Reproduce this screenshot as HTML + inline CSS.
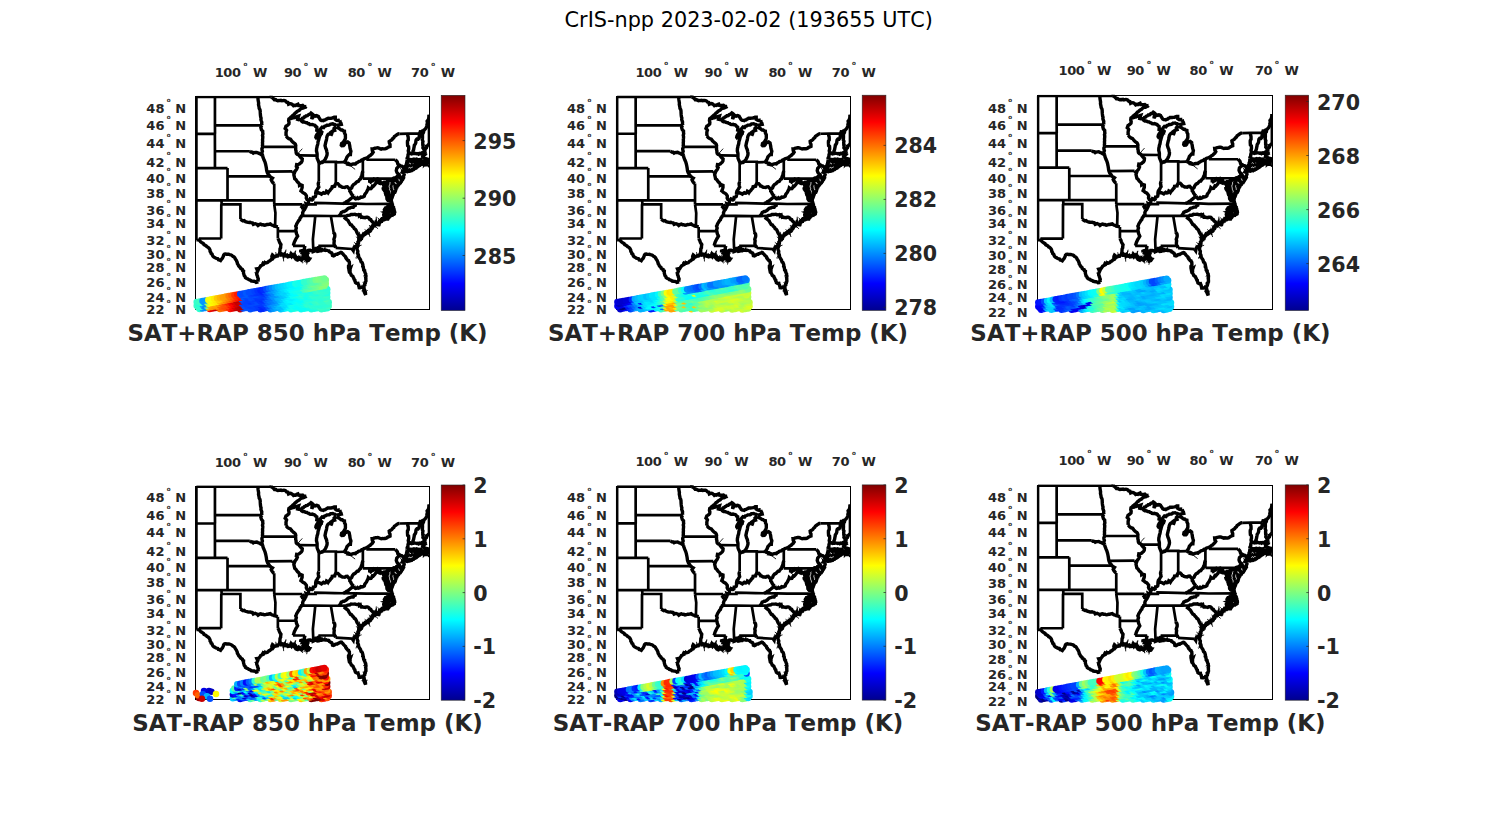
<!DOCTYPE html>
<html lang="en"><head><meta charset="utf-8"><title>CrIS-npp 2023-02-02 (193655 UTC)</title>
<style>
html,body{margin:0;padding:0;background:#fff}
svg{display:block}
text{font-family:"DejaVu Sans","Liberation Sans",sans-serif;font-kerning:none}
.b{font-weight:bold;fill:#262626}
.t{font-size:13px}
.ls{letter-spacing:-0.45px}
.c{font-size:20.6px}
.p{font-size:22.95px}
.d{font-size:5.6px}
.m{fill:none;stroke:#000;stroke-width:43;stroke-linejoin:miter;stroke-miterlimit:4;stroke-linecap:butt}
.w{stroke-width:54}
</style></head><body>
<svg width="1500" height="825" viewBox="0 0 1500 825">
<defs>
<linearGradient id="jet" x1="0" y1="0" x2="0" y2="1"><stop offset="0" stop-color="#800000"/><stop offset="0.125" stop-color="#ff0000"/><stop offset="0.375" stop-color="#ffff00"/><stop offset="0.625" stop-color="#00ffff"/><stop offset="0.875" stop-color="#0000ff"/><stop offset="1" stop-color="#00008f"/></linearGradient>
<g id="usmap"><path class="m" d="M0 0L0 2282M0 0L1185 0M3700 284L3700 758M3700 1046L3700 997M295 0L295 453L296 587M0 587L294 587M294 587L295 865L295 1134M0 1134L295 1134L495 1134M495 1134L495 1266L495 1649M0 1649L400 1649L496 1649L1238 1649M400 1649L400 1711M396 1711L394 2256M394 2256L38 2256M400 1711L700 1711L700 1950M295 453L1044 453M295 865L850 865M495 1266L1169 1266M1238 1381L1238 1649L1238 1711M1238 1711L1257 1849L1252 2061M1238 1711L1685 1711M1663 1773L1730 1773M1123 1190L1527 1186M1055 796L1578 796M1296 2072L1296 2138L1296 2257M1296 2138L1583 2138M1537 2373L1727 2373M1880 1897L1890 1909L1853 2268L1860 2463M1670 1897L1880 1897L2139 1898L2268 1898L2389 1896M2139 1898L2182 2153M1940 2373L2200 2373M2214 2407L2479 2424M1758 1711L1895 1711L1893 1689L2050 1693L2200 1697L2333 1699L2532 1700M2532 1700L2700 1706L3113 1705M1947 1038L1947 1350M2218 1041L2218 1382M1980 1033L2219 1033L2219 1041L2355 1037M2648 1001L2648 1182L2648 1302M2648 1302L2752 1302L3121 1302M2724 964L2724 1001L3164 1001M1636 932L1920 934M2751 1302L2751 1369M3121 1302L3128 1292L3140 1287L3152 1289L3159 1292M3121 1302L3130 1464L3195 1466M3176 1519L3135 1529M3230 587L3366 585L3550 585M0 2282L47 2282"/><path class="m w" d="M1685 1711L1693 1726L1680 1749L1663 1773M1527 1186L1540 1200L1558 1216M977 0L980 25L981 44L985 68L990 97L988 121L997 163L999 183L1011 203L1015 225L1016 254L1018 284L1022 317L1029 337L1026 361L1033 383L1040 401L1038 430L1044 453M1044 453L1032 466L1025 487L1035 523L1055 544L1055 566L1058 587L1051 613L1056 632L1055 657L1052 681L1054 707L1051 726L1053 753L1050 773L1055 796M1055 796L1042 824L1043 843L1050 865L1038 899L1047 914L1055 934M850 865L870 879L890 881L905 895L920 887L940 885L960 883L980 892L1005 902L1030 917L1055 934M1055 934L1058 956L1065 974L1075 1001L1090 1034L1100 1068L1107 1101L1113 1134L1117 1167L1123 1190L1135 1220L1152 1240L1169 1266L1190 1283L1210 1294L1190 1323L1200 1343L1210 1357L1224 1373L1239 1381M1185 0L1189 -26L1185 -58M1185 0L1205 8L1230 30L1240 43L1259 41L1275 52L1294 60L1315 56L1330 58L1344 53L1360 61L1375 58L1390 56L1405 58L1421 66L1435 83L1455 88L1465 116L1482 108L1500 106L1514 111L1532 125L1545 140L1563 132L1580 136L1598 122L1615 115L1625 136L1643 137L1660 137L1675 137L1690 134L1710 151L1732 153L1750 151M1750 151L1738 161L1722 165L1710 173L1696 178L1679 180L1664 186L1650 196L1637 212L1616 222L1600 233L1587 247L1572 256L1560 270L1548 284L1534 293L1520 309L1504 319L1490 336M1490 336L1471 349L1467 378L1474 404L1471 430L1455 447L1438 459L1425 466L1412 502L1426 515L1435 530L1429 547L1425 573L1427 599L1420 622M1490 340L1505 343L1520 339L1536 330L1550 331L1567 324L1584 319L1600 314L1625 306L1615 336L1610 357L1626 361L1640 357L1658 362M1658 362L1675 356L1684 339L1700 336L1714 320L1731 314L1744 300L1766 298L1780 284L1794 276L1808 272L1823 256L1839 267L1850 277L1840 314L1837 332L1835 354L1842 336L1855 321L1870 299L1883 299L1898 306L1912 298L1927 302L1943 318L1955 336L1973 365L1989 374L2006 374L2020 378L2033 368L2050 365L2063 354L2078 349L2089 340L2107 339L2122 340L2139 339L2158 336L2177 331L2192 322L2210 322L2210 357L2231 372L2250 375L2263 370L2280 372M2280 372L2290 401L2300 417L2305 437L2286 440L2265 447L2247 450L2228 459M2228 459L2216 447L2200 437L2183 435L2169 427L2150 430L2135 431L2125 441L2110 449L2092 450L2075 451L2060 461L2040 466L2025 487L2000 480L1980 502L1970 518L1960 537L1950 556L1940 573M1658 362L1672 385L1690 397L1707 395L1725 402L1738 408L1758 410L1774 423L1790 425L1804 439L1820 441L1843 437L1860 444L1878 447L1890 456L1899 472L1915 480L1918 502L1915 530L1935 537L1940 573M1940 573L1928 583L1915 601L1904 622L1900 643L1905 650L1919 636L1930 615L1944 596L1960 580L1972 564L1985 551L1995 559L1988 581L1975 601L1960 629L1950 664L1943 692L1935 713L1933 737L1928 762L1920 782L1918 801L1912 824L1910 861L1916 883L1920 906L1920 934L1920 952L1920 974L1928 996L1938 1017L1947 1038L1970 1052L1986 1044L2000 1044L2018 1033M2018 1033L2028 1020L2040 1007L2052 987L2061 970L2070 947L2078 923L2080 896L2075 875L2071 854L2065 833L2057 818L2051 796L2046 776L2051 752L2055 734L2060 711L2067 692L2072 663L2075 639L2082 618L2093 601L2104 590L2120 587L2131 569L2145 559L2140 579L2144 598L2138 619L2150 594L2156 570L2162 551L2175 542L2200 534L2190 502L2210 480L2227 476M2227 476L2238 489L2253 494L2271 501L2290 516L2305 527L2320 527L2336 540L2355 544L2357 578L2370 601L2370 629L2371 651L2367 671L2355 692L2343 712L2330 727L2310 741L2305 769L2313 778L2340 776L2352 764L2360 741L2380 727L2407 717L2430 734L2434 757L2440 783L2443 812L2450 838L2458 865L2452 892L2450 919L2430 919L2410 940L2395 957L2385 987L2370 1014L2355 1037M2355 1037L2374 1048L2390 1052L2410 1054L2427 1064L2420 1074L2436 1077L2450 1081L2466 1078L2482 1072L2497 1068L2515 1066L2530 1068L2545 1052L2561 1045L2575 1034L2589 1027L2607 1023L2620 1014L2632 1003L2648 1001L2662 989L2675 983L2690 980L2705 973L2724 964L2736 953L2751 940L2765 934L2780 918L2795 906L2812 881L2798 858L2795 829L2809 829L2823 821L2840 817L2854 814L2871 811L2885 810L2900 814L2919 823L2940 831L2959 825L2980 827L3000 827L3020 821L3036 810L3050 800L3064 795L3080 789L3080 755L3070 734L3067 709L3081 699L3097 691L3110 681L3123 662L3139 651L3150 629L3165 620L3176 611L3190 601L3211 588L3230 587M1420 622L1434 629L1447 647L1470 664L1497 674L1515 699L1536 720L1549 731L1565 741L1575 755L1581 776L1578 796L1580 815L1579 840L1585 858L1586 881L1590 899L1602 912L1621 918L1634 933L1646 950L1660 967L1684 988L1681 1022L1670 1041L1654 1054L1642 1065L1628 1073L1614 1079L1595 1078L1590 1108L1605 1125L1597 1144L1590 1159L1570 1183L1558 1216L1550 1240L1558 1275L1564 1303L1584 1319L1595 1337L1609 1355L1627 1369L1638 1389L1640 1408L1655 1399L1682 1409L1682 1443L1676 1463L1670 1479L1663 1498L1679 1510L1695 1526L1718 1536L1735 1552L1750 1574L1751 1594L1748 1611L1760 1637L1787 1652M1787 1652L1783 1680L1780 1703L1758 1711L1745 1705L1750 1730L1738 1761L1730 1773L1720 1795L1705 1811L1697 1828L1690 1847L1693 1880L1670 1897L1663 1916L1650 1927L1642 1957L1629 1968L1620 1985L1610 2000L1595 2024L1590 2041L1580 2060L1590 2090L1582 2114L1583 2138L1589 2156L1590 2173L1600 2198L1610 2218L1595 2244L1580 2268L1569 2291L1560 2309L1550 2338L1547 2356L1537 2373M1787 1652L1803 1640L1810 1624L1825 1630L1840 1640L1855 1630L1860 1599L1877 1597L1893 1586L1897 1567L1897 1548L1915 1533L1943 1527L1965 1536L1990 1551L2005 1537L2020 1526L2035 1535L2050 1533L2063 1522L2070 1504L2085 1513L2095 1527L2107 1507L2125 1489L2137 1471L2155 1453L2160 1430L2180 1427L2200 1424L2205 1402L2218 1382L2232 1383L2250 1382L2270 1402L2280 1421L2294 1422L2307 1432L2323 1440L2340 1441L2360 1443L2378 1432L2400 1430L2415 1447L2426 1460L2441 1470L2456 1460L2470 1449L2480 1421L2500 1395L2525 1382L2545 1360L2559 1348L2575 1346L2585 1331L2598 1314L2613 1305L2618 1279L2628 1257L2635 1239L2638 1213L2648 1182M1947 1350L1938 1382L1941 1408L1947 1436L1934 1454L1925 1472L1905 1498L1898 1525L1897 1548M2441 1470L2440 1501L2454 1516L2460 1536L2471 1551L2480 1567L2503 1581M2503 1581L2487 1593L2470 1611L2457 1620L2444 1632L2428 1643L2409 1662L2390 1668L2377 1680L2360 1690L2333 1699M2503 1581L2515 1611L2532 1624L2551 1620L2564 1608L2578 1619L2599 1612L2614 1595L2632 1599L2652 1593L2671 1582L2678 1555L2692 1535L2705 1520L2720 1489L2730 1470L2735 1450L2752 1464L2777 1462L2791 1441L2800 1421L2813 1425L2831 1405L2845 1389L2856 1370L2865 1344L2883 1359L2896 1369L2917 1377L2928 1354M2928 1354L2920 1340L2918 1318L2899 1315L2882 1305L2860 1315L2854 1327L2839 1320L2824 1311L2805 1337L2788 1341L2772 1357L2751 1369M2268 1898L2281 1884L2295 1863L2305 1841L2320 1835L2336 1825L2350 1826L2372 1814L2390 1802L2410 1780L2423 1773L2440 1770L2465 1759L2495 1759L2510 1736L2527 1730L2532 1700M2389 1896L2403 1888L2420 1887L2442 1884L2460 1872L2476 1873L2489 1873L2508 1872L2521 1870L2538 1878L2552 1880L2565 1880L2582 1873L2596 1878L2596 1891L2607 1884L2612 1903L2622 1918L2640 1915L2652 1921L2670 1922L2685 1926L2702 1917L2719 1917L2733 1921L2745 1932L2753 1948L2774 1956L2781 1974L2793 1983L2807 1999L2820 2007L2829 2023L2845 2035M2389 1896L2375 1917L2365 1933L2383 1947L2400 1960L2415 1975L2427 2000L2440 2018L2449 2034L2468 2041L2480 2059L2503 2081L2511 2099L2528 2108L2540 2126L2549 2150L2560 2173L2574 2190L2580 2209L2587 2224L2590 2244L2612 2253M2182 2153L2186 2168L2198 2182L2202 2202L2201 2226L2195 2244L2187 2268L2193 2292L2190 2315L2189 2334L2192 2356L2200 2373L2210 2388L2214 2407M2479 2424L2495 2447L2500 2420L2510 2397L2524 2398L2540 2399L2556 2407M1940 2373L1946 2393L1960 2408L1955 2432L1948 2457M1727 2373L1722 2393L1717 2412L1723 2436L1735 2455L1740 2469M1296 2257L1310 2280L1318 2303L1324 2319L1334 2337L1345 2352L1340 2385L1340 2403L1330 2420L1329 2442L1328 2466L1324 2487L1320 2508L1316 2524M700 1950L714 1959L730 1969L743 1976L760 1972L780 1987L805 1994L824 1999L840 2000L853 1997L870 2002L890 2006L905 2030L921 2023L935 2020L950 2026L966 2033L980 2048L1005 2030L1022 2027L1040 2036L1058 2035L1080 2044L1101 2041L1120 2033L1136 2034L1150 2030L1175 2024L1189 2035L1205 2045L1220 2048L1236 2058L1252 2061L1280 2068L1296 2072M38 2256L50 2284L64 2305L80 2318L95 2327L113 2339L121 2355L140 2364L158 2375L167 2388L185 2397L200 2411L209 2424L217 2443L218 2462L230 2478L234 2496L249 2505L254 2523L263 2540L278 2553L290 2558L305 2568L320 2573L340 2578L350 2596L370 2599L385 2608L398 2589L415 2570L422 2554L429 2538L435 2518L448 2506L465 2503L481 2508L498 2508L513 2507L529 2512L545 2516L564 2525L580 2541L598 2549L610 2563L620 2584L635 2604L643 2623L650 2639L652 2657L665 2675L670 2690L680 2702L696 2714L700 2731L715 2741L731 2749L735 2767L750 2775L749 2793L749 2806L755 2825L761 2849L775 2863L780 2881L800 2894L820 2901L831 2912L847 2917L864 2924L875 2935L892 2936L905 2939L920 2939L938 2946L950 2956L969 2952L985 2947M985 2947L982 2931L979 2915L985 2901L980 2887L973 2871L972 2858L964 2842L960 2831L960 2813L965 2797L973 2780L980 2763L967 2757L960 2741L976 2738L995 2735L1006 2718L1015 2707L1022 2693L1040 2684L1060 2673L1054 2655L1040 2644L1052 2649L1068 2646L1081 2650L1089 2643L1105 2648L1114 2644L1132 2640L1140 2633L1153 2617L1170 2612L1182 2599L1195 2587L1208 2585L1220 2570L1210 2559L1200 2547L1202 2535L1210 2518L1220 2526L1225 2541L1236 2547L1250 2547L1263 2541L1276 2537L1291 2537L1300 2523L1316 2524M1316 2524L1327 2520L1338 2518L1343 2519L1353 2520L1365 2517L1374 2516L1381 2520L1395 2521L1401 2533L1410 2530L1420 2532L1428 2538L1440 2538L1448 2533L1456 2547L1470 2544L1484 2543L1490 2536L1497 2528L1505 2513L1510 2521L1510 2540L1515 2547L1523 2536L1540 2536L1551 2542L1560 2547L1560 2556L1570 2569L1575 2576L1581 2584L1592 2584L1598 2595L1610 2599L1618 2591L1627 2579L1635 2576L1640 2582L1649 2590L1660 2595L1670 2600L1680 2593L1686 2583L1695 2582L1703 2569L1705 2553L1712 2562L1725 2570L1740 2576L1746 2585L1747 2594L1759 2601L1760 2610L1774 2607L1785 2604L1793 2593L1800 2582L1788 2580L1783 2566L1770 2564L1765 2555L1755 2555L1746 2547L1740 2536L1746 2531L1755 2527L1760 2513L1764 2495L1770 2484L1763 2476L1750 2478L1741 2485L1725 2490L1730 2472L1740 2469M1315 2513L1327 2504L1337 2512L1345 2502L1353 2501L1366 2506L1375 2506L1381 2518L1393 2522L1399 2519L1412 2519L1424 2524L1431 2531L1442 2527L1449 2529L1457 2530L1470 2532L1484 2526L1493 2523L1506 2512L1509 2502L1517 2511L1514 2529L1520 2537L1534 2533L1540 2524L1548 2535L1559 2533L1567 2539L1569 2552L1579 2551L1582 2567L1588 2579L1600 2580L1610 2587L1615 2578L1624 2571L1634 2564L1642 2575L1650 2581L1663 2584L1677 2582L1687 2575L1697 2568L1699 2555L1702 2542L1707 2549L1721 2546L1730 2560L1738 2565L1747 2568L1754 2580L1758 2591L1765 2600L1780 2595L1791 2586L1781 2574L1774 2571L1764 2574L1761 2563L1751 2555L1744 2551L1738 2539L1730 2538L1738 2525L1742 2518L1752 2506L1755 2498L1761 2487L1751 2489L1744 2499L1729 2492L1723 2501L1719 2486L1718 2475L1722 2465L1737 2458M1660 2478L1676 2487L1690 2486L1705 2482L1720 2472L1707 2465L1695 2449L1677 2449L1660 2455L1660 2478M1740 2469L1755 2461L1770 2455L1780 2445L1795 2443L1810 2443L1820 2450L1833 2452L1845 2449L1860 2449L1860 2463L1875 2457L1890 2451L1888 2430L1895 2414L1910 2414L1913 2428L1910 2443L1925 2461L1948 2457L1965 2451L1980 2451L1985 2426L1999 2430L2010 2443L2021 2442L2037 2442L2050 2446L2066 2442L2079 2446L2090 2449L2107 2452L2114 2468L2130 2474L2139 2483L2152 2487L2160 2501L2165 2528L2182 2533L2200 2524L2211 2513L2230 2507L2242 2508L2255 2497L2265 2495L2278 2487L2291 2483L2300 2478L2311 2481L2318 2494L2330 2501L2339 2515L2350 2526L2360 2536L2374 2548L2375 2562L2387 2581L2397 2590L2407 2604L2421 2609L2425 2622L2433 2632L2433 2648L2435 2661L2434 2676L2420 2692L2420 2707L2420 2724L2425 2746L2440 2737L2450 2730L2444 2748L2445 2769L2430 2775L2434 2795L2446 2804L2453 2816L2460 2831L2465 2844L2480 2853L2491 2862L2495 2876L2502 2886L2508 2906L2520 2917L2520 2932L2527 2944L2530 2959L2544 2968L2554 2972L2570 2970L2574 2985L2581 2999L2583 3014L2588 3028L2590 3040L2602 3041L2615 3040L2633 3034L2650 3040L2657 3050L2664 3065L2665 3079L2665 3097L2674 3106L2674 3118L2682 3134L2688 3148L2692 3158L2690 3142L2690 3133L2688 3116L2681 3104L2674 3092L2676 3077L2670 3067L2667 3049L2667 3041L2662 3026L2670 3004L2679 2998L2679 2979L2687 2968L2685 2955L2696 2941L2697 2925L2695 2909L2696 2895L2692 2882L2697 2865L2697 2847L2692 2837L2693 2820L2685 2808L2681 2793L2673 2779L2675 2766L2661 2755L2660 2741L2657 2729L2655 2710L2646 2701L2649 2684L2645 2667L2640 2650L2634 2637L2621 2630L2615 2616L2611 2596L2600 2582L2593 2570L2584 2555L2581 2544L2579 2527L2577 2516L2570 2501L2563 2491L2568 2470L2568 2457L2560 2443L2556 2425L2556 2407M2556 2407L2560 2397L2552 2385L2560 2373L2569 2368L2570 2350L2578 2339L2575 2324L2580 2315L2582 2299L2590 2291L2588 2280L2600 2268L2610 2269L2612 2253L2618 2239L2630 2245L2633 2233L2636 2224L2651 2217L2655 2209L2658 2201L2670 2189L2680 2191L2691 2185L2698 2180L2698 2172L2710 2167L2717 2166L2725 2156L2733 2151L2740 2144L2754 2144L2765 2138L2772 2129L2775 2112L2785 2108L2793 2101L2800 2087L2800 2078L2805 2059L2815 2054L2825 2040L2836 2049L2845 2035M2546 2406L2548 2395L2543 2379L2550 2370L2559 2357L2561 2346L2566 2337L2571 2328L2571 2311L2581 2303L2581 2285L2587 2279L2594 2264L2598 2256L2604 2245L2612 2239L2615 2226L2626 2224L2632 2215L2644 2213L2649 2199L2657 2185L2668 2190L2675 2181L2690 2178L2690 2162L2704 2157L2712 2152L2723 2147L2734 2144L2736 2133L2746 2133L2759 2128L2764 2118L2777 2110L2777 2101L2786 2095L2788 2081L2792 2071L2795 2060L2802 2056L2809 2044L2815 2034L2827 2026L2840 2024M2845 2035L2859 2035L2869 2034L2880 2030L2894 2038L2905 2036L2909 2018L2910 2006L2915 1998L2925 1995L2930 1981L2943 1981L2943 1970L2956 1969L2964 1965L2970 1951L2982 1954L2989 1940L2999 1946L3010 1935L3017 1943L3025 1946L3035 1944L3047 1945L3051 1936L3061 1926L3065 1922L3070 1909L3082 1902L3087 1893L3100 1890L3110 1888L3117 1886L3124 1872L3140 1872L3147 1868L3146 1859L3155 1842L3154 1837L3153 1823L3146 1807L3145 1792L3141 1779L3134 1771L3135 1757L3125 1749L3122 1739L3112 1728L3118 1712L3113 1705M2844 2023L2853 2020L2865 2016L2867 2013L2880 2018L2891 2019L2899 2026L2902 2016L2901 2000L2912 1991L2915 1974L2924 1972L2934 1963L2940 1964L2950 1947L2953 1940L2966 1940L2975 1930L2987 1936L2992 1934L3002 1922L3009 1923L3023 1929L3032 1932L3044 1934L3053 1927L3064 1912L3064 1899L3069 1893L3077 1890L3090 1887L3096 1879L3100 1871L3115 1879L3122 1859L3128 1858L3140 1860L3143 1847L3142 1837L3143 1823L3134 1814L3136 1797L3135 1782L3127 1773L3124 1758L3116 1754L3113 1741L3107 1736L3105 1722L3104 1709M3047 1930L3039 1918L3032 1912L3020 1902L3031 1900L3038 1904L3050 1896L3038 1888L3029 1894L3018 1882L3010 1884L3000 1878L3010 1871L3018 1875L3029 1872L3040 1866L3050 1859L3060 1854L3046 1854L3044 1848L3032 1850L3022 1839L3010 1841L3023 1847L3028 1842L3041 1840L3050 1835L3060 1844L3070 1839L3084 1844L3090 1848L3100 1854L3102 1842L3116 1835L3120 1823L3128 1810L3125 1801L3125 1786L3110 1785L3099 1789L3090 1780L3082 1777L3072 1780L3059 1784L3052 1774L3040 1780L3030 1767L3041 1765L3047 1767L3064 1767L3070 1761L3077 1756L3088 1757L3100 1755L3110 1750L3110 1736L3107 1727L3095 1724L3105 1720L3105 1705M3113 1705L3109 1690L3106 1673L3103 1662L3085 1657L3070 1655L3050 1649L3041 1638L3030 1624L3043 1630L3060 1637L3070 1611L3058 1603L3040 1599L3030 1584L3020 1580L3037 1580L3050 1591L3065 1586L3070 1567L3058 1560L3045 1548L3030 1542L3019 1525L3005 1510L3018 1517L3026 1520L3038 1532L3050 1536L3062 1532L3075 1538L3068 1518L3053 1515L3046 1502L3030 1498L3012 1496L3000 1485L2986 1482L2975 1472L2972 1459L2985 1450L2992 1434L2996 1415L2988 1404L2979 1391L2963 1381L2950 1379L2936 1366L2928 1354M3068 1518L3068 1502L3060 1485L3048 1470L3035 1459L3050 1466L3051 1450L3050 1434L3055 1415L3052 1399L3052 1380L3060 1369L3045 1363L3061 1359L3070 1350L3084 1333L3095 1324L3105 1324L3100 1344L3085 1357L3081 1374L3075 1389L3085 1408L3070 1427L3080 1439L3090 1447L3080 1462L3070 1466L3082 1474L3095 1491L3115 1498L3110 1517L3121 1528L3135 1529L3126 1543L3125 1561L3117 1580L3105 1586L3098 1602L3098 1616L3100 1637L3105 1624L3108 1604L3115 1586L3125 1572L3130 1548L3138 1531L3155 1519L3165 1505L3170 1481L3175 1466L3172 1446L3180 1421L3170 1395L3166 1377L3160 1357L3154 1339L3145 1331L3145 1314L3159 1292M3145 1314L3150 1337L3163 1346L3168 1354L3180 1363L3193 1374L3196 1387L3205 1404L3211 1390L3225 1382L3238 1370L3251 1361L3260 1349L3269 1328L3280 1318L3290 1298L3297 1288L3292 1269L3300 1253L3306 1238L3302 1217L3300 1204L3285 1203L3275 1200L3282 1188L3295 1180L3298 1174L3307 1154L3310 1134M3159 1292L3187 1279L3210 1257L3223 1240L3211 1227L3195 1211L3186 1194L3180 1175L3187 1138L3210 1114L3231 1086L3205 1070L3195 1034L3180 1016L3164 1001M3231 1086L3246 1100L3267 1101L3281 1112L3293 1130L3310 1134M3297 1184L3308 1175L3320 1161L3334 1150L3350 1145L3361 1139L3375 1138L3390 1141L3403 1139L3413 1143L3428 1132L3440 1137L3454 1134L3464 1118L3475 1114L3465 1128L3444 1132L3435 1145L3451 1143L3470 1134L3485 1124L3502 1128L3514 1125L3502 1123L3489 1130L3473 1138L3461 1150L3450 1158L3433 1161L3425 1173L3412 1173L3395 1168L3382 1184L3370 1183L3355 1191L3346 1190L3332 1184L3320 1187L3305 1191L3297 1184M3310 1134L3323 1127L3334 1134L3348 1129L3360 1132L3370 1121L3380 1112L3396 1107L3410 1101L3422 1095L3435 1092L3450 1099L3460 1098L3475 1095L3486 1101L3499 1097L3514 1092L3527 1089L3540 1083L3550 1086L3560 1068L3565 1048L3560 1034L3575 1048L3588 1068L3600 1068L3609 1061L3622 1043L3635 1041L3633 1065L3645 1052L3656 1056L3670 1052L3682 1047L3700 1046M3700 997L3680 991L3695 1014L3677 1018L3661 1021L3650 1030L3635 1007L3636 986L3630 974L3615 970L3600 953L3610 933L3627 921L3640 913L3631 897L3618 883L3630 855L3636 840L3645 824L3660 811L3667 790L3675 776L3689 762L3700 758M3620 1088L3632 1081L3650 1081L3640 1074L3620 1088M3680 1097L3700 1094M3334 1134L3327 1121L3352 1106L3345 1094L3349 1072L3344 1055L3349 1031L3352 1016L3350 994M3350 994L3353 972L3365 951L3366 923L3374 900M3374 900L3375 879L3370 858L3377 831L3377 814L3375 789L3360 776L3358 749L3357 727L3358 704L3370 685L3370 657L3369 637L3362 615L3366 585M3350 994L3367 992L3382 992L3398 1001L3412 997L3426 1001L3443 994L3457 991L3472 1003L3487 995L3503 991L3520 998M3520 998L3542 1001L3562 998L3562 1014L3580 1045L3588 1068M3521 999L3520 1029L3522 1055L3521 1078L3514 1092M3374 900L3391 901L3405 897L3422 907L3440 902L3454 902L3473 897L3487 901L3505 906L3523 902L3536 911L3552 900L3570 906L3580 895L3605 881L3618 883M3454 902L3445 865L3455 840L3460 810L3464 793L3467 769L3482 748L3490 727L3491 706L3495 685L3507 671L3527 673L3540 657L3545 622L3550 585M3630 855L3619 832L3603 810L3607 787L3601 766L3601 746L3600 727L3604 707L3594 685L3596 660L3597 636L3596 616L3599 590L3593 566L3592 544M3550 585L3560 556L3576 557L3592 544L3615 551L3620 527L3634 518L3649 500L3660 480L3665 456L3668 435L3675 415L3670 386L3687 366L3695 343L3700 312L3700 284"/><path class="m w" style="fill:#000" d="M2970 1369L2973 1382L2980 1395L2977 1406L2985 1424L2989 1430L2991 1448L2990 1459L2999 1473L2995 1485L3000 1502L3007 1506L3005 1528L3010 1536L3011 1551L3015 1565L3026 1575L3031 1592L3030 1605L3031 1622L3037 1628L3044 1640L3050 1649L3061 1649L3069 1647L3080 1655L3091 1644L3094 1634L3100 1618L3107 1610L3113 1597L3109 1582L3118 1571L3120 1555L3129 1546L3132 1530L3131 1521L3145 1511L3150 1500L3150 1485L3155 1471L3159 1456L3158 1445L3162 1430L3170 1421L3174 1405L3181 1395L3183 1381L3180 1369L3175 1360L3163 1349L3155 1344L3153 1326L3140 1311L3128 1310L3121 1324L3109 1321L3097 1328L3090 1331L3077 1335L3068 1337L3057 1334L3054 1350L3036 1341L3030 1350L3022 1357L3011 1364L2997 1358L2986 1358L2978 1363L2970 1369ZM3030 1761L3036 1769L3052 1772L3056 1781L3070 1786L3080 1792L3091 1801L3094 1808L3109 1817L3114 1824L3125 1829L3133 1846L3140 1860L3130 1867L3119 1859L3105 1860L3097 1867L3087 1875L3078 1889L3068 1893L3060 1902L3047 1904L3039 1918L3030 1910L3020 1921L3012 1922L3002 1907L2990 1909L2986 1897L2981 1885L2980 1872L2992 1861L2995 1853L3000 1835L2992 1827L2997 1813L2990 1798L2996 1786L3009 1773L3018 1768L3030 1761ZM3360 1041L3369 1035L3378 1047L3388 1044L3397 1031L3410 1033L3422 1039L3430 1032L3439 1027L3450 1034L3463 1032L3469 1026L3479 1023L3491 1033L3503 1030L3507 1029L3517 1025L3528 1030L3542 1019L3550 1021L3559 1023L3566 1034L3578 1029L3590 1034L3599 1031L3613 1035L3618 1032L3629 1034L3640 1027L3648 1028L3657 1037L3670 1034L3660 1054L3652 1061L3637 1055L3632 1069L3621 1064L3611 1064L3602 1067L3591 1066L3580 1074L3568 1075L3559 1087L3549 1091L3540 1099L3530 1104L3520 1113L3512 1116L3500 1114L3494 1124L3480 1136L3472 1141L3459 1139L3450 1154L3438 1152L3431 1150L3420 1161L3407 1156L3401 1172L3387 1163L3381 1170L3369 1176L3361 1167L3350 1174L3338 1176L3328 1177L3321 1176L3310 1180L3316 1166L3307 1149L3320 1137L3315 1121L3318 1107L3330 1093L3340 1081L3342 1064L3354 1050L3360 1041ZM3165 1298L3173 1291L3183 1277L3196 1266L3205 1259L3217 1263L3230 1266L3241 1269L3250 1279L3259 1288L3261 1308L3265 1324L3260 1336L3251 1341L3242 1352L3242 1367L3229 1372L3225 1382L3216 1373L3205 1368L3195 1370L3185 1358L3175 1350L3178 1335L3174 1321L3165 1309L3165 1298Z"/><path class="m" style="stroke:#fff;stroke-width:13;stroke-linejoin:round" d="M3085 1357L3077 1370L3079 1379L3075 1400L3070 1408L3066 1424L3067 1433L3070 1445L3075 1459L3070 1472L3077 1483L3081 1492L3088 1507L3088 1523L3090 1536M3160 1357L3162 1373L3175 1372L3180 1389M3128 1408L3130 1417L3126 1433L3131 1446L3133 1461L3140 1469L3135 1485M3215 1305L3222 1312L3224 1333L3235 1337M3070 1866L3081 1858L3094 1852L3102 1840L3110 1835M3370 1134L3381 1136L3386 1126L3396 1123L3412 1136L3423 1125L3432 1114L3440 1121M3380 1065L3389 1057L3398 1058L3413 1071L3419 1069L3432 1067L3439 1061L3450 1061"/><path class="m" style="stroke-width:14" d="M1467 378L1453 385M1943 318L1957 287M1988 581L2009 608M2705 973L2724 1001M1589 2156L1571 2158M2598 1314L2592 1293M2487 1593L2512 1615M2210 2388L2225 2365M960 2813L923 2802M1052 2649L1053 2614M1114 2644L1082 2603M1210 2559L1166 2589M1276 2537L1261 2473M1343 2519L1337 2483M1353 2520L1333 2469M1381 2520L1388 2622M1395 2521L1426 2433M1401 2533L1424 2500M1420 2532L1452 2488M1510 2540L1547 2524M1551 2542L1579 2506M1560 2556L1616 2541M1592 2584L1599 2544M1618 2591L1544 2533M1640 2582L1670 2532M1670 2600L1689 2652M1686 2583L1659 2543M1703 2569L1656 2518M1788 2580L1746 2623M1765 2555L1787 2515M1746 2531L1724 2500M1763 2476L1741 2572M1741 2485L1740 2541M1393 2522L1427 2452M1506 2512L1487 2480M1517 2511L1467 2541M1514 2529L1601 2519M1548 2535L1575 2451M1559 2533L1581 2451M1600 2580L1629 2523M1624 2571L1567 2527M1738 2565L1783 2511M1758 2591L1789 2571M1781 2574L1755 2636M1774 2571L1754 2671M1761 2563L1708 2637M1738 2539L1804 2491M1755 2498L1801 2569M1718 2475L1669 2490M1913 2428L1961 2427M2037 2442L2051 2379M2387 2581L2413 2559M2602 3041L2591 2980M2633 3034L2634 2994M2665 3097L2693 3087M2674 3106L2725 3084M2676 3077L2627 3092M2679 2979L2644 2957M2692 2837L2653 2856M2581 2544L2556 2553M2579 2527L2539 2579M2577 2516L2535 2561M2563 2491L2539 2508M2568 2470L2547 2482M2552 2385L2628 2362M2578 2339L2550 2308M2588 2280L2543 2228M2618 2239L2589 2149M2733 2151L2763 2232M2800 2087L2751 2074M2836 2049L2831 2003M2543 2379L2493 2360M2559 2357L2506 2317M2587 2279L2555 2232M2598 2256L2561 2194M2723 2147L2676 2113M2746 2133L2732 2085M2786 2095L2748 2042M2815 2034L2889 2102M2859 2035L2866 1937M2894 2038L2893 1963M2909 2018L2826 1975M2943 1981L2882 1925M3051 1936L3011 1884M3061 1926L3014 1910M3140 1872L3101 1794M3155 1842L3083 1869M3141 1779L3089 1805M3122 1739L3042 1779M2853 2020L2862 1909M2891 2019L2914 1964M3032 1932L3046 1855M3064 1912L3020 1886M3077 1890L3076 1837M3090 1887L3078 1848M3122 1859L3078 1775M3113 1741L3041 1736M3018 1882L2976 1964M3010 1871L3003 1978M3046 1854L3030 1929M3044 1848L3068 1775M3041 1840L3028 1782M3070 1839L3096 1798M3125 1801L3076 1814M3099 1789L3070 1878M3082 1777L3118 1876M3072 1780L3042 1883M3052 1774L3050 1881M3088 1757L3103 1850M3037 1580L3028 1543M2986 1482L2972 1513M2985 1450L2963 1404M3068 1502L3026 1518M3126 1543L3086 1526M3172 1446L3136 1417M3163 1346L3172 1316M3193 1374L3212 1344M3211 1390L3187 1348M3306 1238L3284 1246M3282 1188L3243 1134M3334 1150L3355 1198M3485 1124L3492 1161M3382 1184L3370 1138M3355 1191L3351 1161M3320 1187L3308 1124M3348 1129L3347 1186M3422 1095L3439 1019M3486 1101L3499 1153M3499 1097L3487 1051M3615 970L3597 1005M3636 840L3666 900M3667 790L3614 754M3358 749L3372 755M3505 906L3506 885M3599 590L3619 583M3031 1622L3050 1617M3113 1597L3085 1596M3131 1521L3163 1527M3133 1846L3123 1859M3012 1922L2994 1956M3599 1031L3599 993M3618 1032L3610 1063M3361 1167L3370 1190M3242 1367L3255 1397M3178 1335L3164 1339M2360 1027L2525 1154M1605 913L1685 824"/><path class="m" style="stroke-width:26" d="M1467 378L1460 382M1943 318L1951 301M1988 581L2000 596M2705 973L2715 988M1589 2156L1579 2157M2598 1314L2594 1303M2487 1593L2501 1606M2210 2388L2219 2376M960 2813L940 2807M1052 2649L1052 2630M1114 2644L1097 2621M1210 2559L1186 2576M1276 2537L1268 2502M1343 2519L1339 2500M1353 2520L1343 2492M1381 2520L1384 2576M1395 2521L1412 2472M1401 2533L1413 2515M1420 2532L1437 2507M1510 2540L1531 2531M1551 2542L1566 2522M1560 2556L1591 2546M1592 2584L1596 2562M1618 2591L1578 2558M1640 2582L1657 2554M1670 2600L1680 2629M1686 2583L1671 2561M1703 2569L1677 2542M1788 2580L1766 2604M1765 2555L1778 2533M1746 2531L1734 2514M1763 2476L1751 2529M1741 2485L1741 2515M1393 2522L1411 2483M1506 2512L1495 2494M1517 2511L1489 2527M1514 2529L1561 2522M1548 2535L1563 2489M1559 2533L1572 2488M1600 2580L1616 2549M1624 2571L1593 2546M1738 2565L1761 2535M1758 2591L1775 2580M1781 2574L1767 2608M1774 2571L1763 2626M1761 2563L1731 2604M1738 2539L1774 2512M1755 2498L1781 2535M1718 2475L1691 2482M1913 2428L1939 2428M2037 2442L2044 2407M2387 2581L2401 2569M2602 3041L2597 3008M2633 3034L2633 3012M2665 3097L2680 3091M2674 3106L2702 3094M2676 3077L2649 3085M2679 2979L2660 2967M2692 2837L2670 2847M2581 2544L2567 2549M2579 2527L2557 2554M2577 2516L2553 2540M2563 2491L2550 2500M2568 2470L2556 2476M2552 2385L2594 2374M2578 2339L2562 2323M2588 2280L2563 2252M2618 2239L2601 2191M2733 2151L2750 2196M2800 2087L2774 2079M2836 2049L2832 2024M2543 2379L2516 2369M2559 2357L2530 2335M2587 2279L2569 2254M2598 2256L2577 2223M2723 2147L2698 2128M2746 2133L2739 2107M2786 2095L2764 2067M2815 2034L2854 2073M2859 2035L2862 1981M2894 2038L2894 1997M2909 2018L2863 1995M2943 1981L2910 1949M3051 1936L3029 1908M3061 1926L3036 1916M3140 1872L3119 1829M3155 1842L3116 1855M3141 1779L3113 1794M3122 1739L3078 1760M2853 2020L2857 1959M2891 2019L2903 1989M3032 1932L3040 1890M3064 1912L3040 1897M3077 1890L3076 1862M3090 1887L3084 1865M3122 1859L3099 1812M3113 1741L3074 1740M3018 1882L2996 1928M3010 1871L3008 1930M3046 1854L3037 1895M3044 1848L3056 1808M3041 1840L3034 1808M3070 1839L3084 1816M3125 1801L3098 1807M3099 1789L3084 1839M3082 1777L3100 1831M3072 1780L3057 1837M3052 1774L3051 1833M3088 1757L3096 1808M3037 1580L3033 1560M2986 1482L2979 1499M2985 1450L2973 1425M3068 1502L3045 1511M3126 1543L3104 1533M3172 1446L3152 1431M3163 1346L3168 1330M3193 1374L3203 1358M3211 1390L3198 1367M3306 1238L3294 1242M3282 1188L3261 1159M3334 1150L3345 1177M3485 1124L3489 1144M3382 1184L3376 1159M3355 1191L3353 1174M3320 1187L3313 1152M3348 1129L3348 1160M3422 1095L3430 1053M3486 1101L3493 1130M3499 1097L3493 1072M3615 970L3605 989M3636 840L3653 872M3667 790L3638 770M3358 749L3366 752M3505 906L3506 894M3599 590L3610 586M3031 1622L3041 1618M3113 1597L3098 1596M3131 1521L3148 1525M3133 1846L3127 1853M3012 1922L3002 1941M3599 1031L3599 1010M3618 1032L3614 1049M3361 1167L3366 1179M3242 1367L3250 1383M3178 1335L3170 1337M2360 1027L2450 1094"/></g>
<clipPath id="cp0"><rect x="195.10" y="95.70" width="234.70" height="214.60"/></clipPath>
<clipPath id="cp1"><rect x="615.80" y="95.60" width="235.00" height="214.80"/></clipPath>
<clipPath id="cp2"><rect x="1036.70" y="94.70" width="236.00" height="216.20"/></clipPath>
<clipPath id="cp3"><rect x="195.10" y="485.40" width="234.70" height="214.60"/></clipPath>
<clipPath id="cp4"><rect x="615.80" y="485.30" width="235.00" height="214.80"/></clipPath>
<clipPath id="cp5"><rect x="1036.70" y="484.40" width="236.00" height="216.20"/></clipPath>
</defs>
<rect width="1500" height="825" fill="#fff"/>
<text x="748.7" y="26.7" font-size="20.8px" text-anchor="middle" fill="#000">CrIS-npp 2023-02-02 (193655 UTC)</text>
<g>
<rect x="195.70" y="96.45" width="233.80" height="212.85" fill="#fff" stroke="#000" stroke-width="1" shape-rendering="crispEdges"/>
<g clip-path="url(#cp0)"><use href="#usmap" transform="translate(196.40 97.00) scale(0.062865 0.062710)"/></g>
<g><circle cx="321.4" cy="309.3" r="3.25" fill="#32ffcd"/><circle cx="324.3" cy="308.8" r="3.25" fill="#31ffce"/><circle cx="327.2" cy="308.3" r="3.25" fill="#2dffd2"/><circle cx="311.3" cy="309.3" r="3.25" fill="#23ffdc"/><circle cx="314.2" cy="308.8" r="3.25" fill="#1cffe3"/><circle cx="317.1" cy="308.2" r="3.25" fill="#1dffe2"/><circle cx="320.0" cy="307.7" r="3.25" fill="#3dffc2"/><circle cx="322.9" cy="307.2" r="3.25" fill="#39ffc6"/><circle cx="325.8" cy="306.6" r="3.25" fill="#34ffcb"/><circle cx="328.7" cy="306.1" r="3.25" fill="#42ffbd"/><circle cx="301.1" cy="309.3" r="3.25" fill="#0dfff2"/><circle cx="304.0" cy="308.7" r="3.25" fill="#0ffff0"/><circle cx="306.9" cy="308.2" r="3.25" fill="#13ffec"/><circle cx="309.8" cy="307.7" r="3.25" fill="#13ffec"/><circle cx="312.7" cy="307.1" r="3.25" fill="#21ffde"/><circle cx="315.6" cy="306.6" r="3.25" fill="#2cffd3"/><circle cx="318.5" cy="306.1" r="3.25" fill="#2fffd0"/><circle cx="321.4" cy="305.5" r="3.25" fill="#2bffd4"/><circle cx="324.3" cy="305.0" r="3.25" fill="#2fffd0"/><circle cx="327.2" cy="304.5" r="3.25" fill="#2effd1"/><circle cx="291.0" cy="309.3" r="3.25" fill="#0cfff3"/><circle cx="293.9" cy="308.7" r="3.25" fill="#19ffe6"/><circle cx="296.8" cy="308.2" r="3.25" fill="#1effe1"/><circle cx="299.7" cy="307.7" r="3.25" fill="#08fff7"/><circle cx="302.6" cy="307.1" r="3.25" fill="#09fff6"/><circle cx="305.5" cy="306.6" r="3.25" fill="#08fff7"/><circle cx="308.4" cy="306.0" r="3.25" fill="#15ffea"/><circle cx="311.3" cy="305.5" r="3.25" fill="#30ffcf"/><circle cx="314.2" cy="305.0" r="3.25" fill="#2cffd3"/><circle cx="317.1" cy="304.4" r="3.25" fill="#26ffd9"/><circle cx="320.0" cy="303.9" r="3.25" fill="#28ffd7"/><circle cx="322.9" cy="303.4" r="3.25" fill="#2bffd4"/><circle cx="325.8" cy="302.8" r="3.25" fill="#2cffd3"/><circle cx="328.7" cy="302.3" r="3.25" fill="#37ffc8"/><circle cx="280.8" cy="309.2" r="3.25" fill="#00c7ff"/><circle cx="283.7" cy="308.7" r="3.25" fill="#00d9ff"/><circle cx="286.6" cy="308.2" r="3.25" fill="#00faff"/><circle cx="289.5" cy="307.6" r="3.25" fill="#10ffef"/><circle cx="292.4" cy="307.1" r="3.25" fill="#14ffeb"/><circle cx="295.3" cy="306.6" r="3.25" fill="#04fffb"/><circle cx="298.2" cy="306.0" r="3.25" fill="#04fffb"/><circle cx="301.1" cy="305.5" r="3.25" fill="#0dfff2"/><circle cx="304.0" cy="304.9" r="3.25" fill="#17ffe8"/><circle cx="306.9" cy="304.4" r="3.25" fill="#2fffd0"/><circle cx="309.8" cy="303.9" r="3.25" fill="#2dffd2"/><circle cx="312.7" cy="303.3" r="3.25" fill="#29ffd6"/><circle cx="315.6" cy="302.8" r="3.25" fill="#31ffce"/><circle cx="318.5" cy="302.3" r="3.25" fill="#39ffc6"/><circle cx="321.4" cy="301.7" r="3.25" fill="#30ffcf"/><circle cx="324.3" cy="301.2" r="3.25" fill="#30ffcf"/><circle cx="327.2" cy="300.7" r="3.25" fill="#3cffc3"/><circle cx="270.6" cy="309.2" r="3.25" fill="#0083ff"/><circle cx="273.6" cy="308.7" r="3.25" fill="#009aff"/><circle cx="276.5" cy="308.1" r="3.25" fill="#00a7ff"/><circle cx="279.4" cy="307.6" r="3.25" fill="#00b3ff"/><circle cx="282.2" cy="307.1" r="3.25" fill="#00bfff"/><circle cx="285.2" cy="306.5" r="3.25" fill="#00ddff"/><circle cx="288.1" cy="306.0" r="3.25" fill="#00f5ff"/><circle cx="291.0" cy="305.5" r="3.25" fill="#0ffff0"/><circle cx="293.9" cy="304.9" r="3.25" fill="#0bfff4"/><circle cx="296.8" cy="304.4" r="3.25" fill="#05fffa"/><circle cx="299.7" cy="303.9" r="3.25" fill="#0efff1"/><circle cx="302.6" cy="303.3" r="3.25" fill="#18ffe7"/><circle cx="305.5" cy="302.8" r="3.25" fill="#2fffd0"/><circle cx="308.4" cy="302.2" r="3.25" fill="#2affd5"/><circle cx="311.3" cy="301.7" r="3.25" fill="#1affe5"/><circle cx="314.2" cy="301.2" r="3.25" fill="#33ffcc"/><circle cx="317.1" cy="300.6" r="3.25" fill="#3effc1"/><circle cx="320.0" cy="300.1" r="3.25" fill="#2cffd3"/><circle cx="322.9" cy="299.6" r="3.25" fill="#2effd1"/><circle cx="325.8" cy="299.0" r="3.25" fill="#48ffb7"/><circle cx="260.5" cy="309.2" r="3.25" fill="#002aff"/><circle cx="263.4" cy="308.7" r="3.25" fill="#0028ff"/><circle cx="266.3" cy="308.1" r="3.25" fill="#003cff"/><circle cx="269.2" cy="307.6" r="3.25" fill="#0071ff"/><circle cx="272.1" cy="307.1" r="3.25" fill="#008eff"/><circle cx="275.0" cy="306.5" r="3.25" fill="#00acff"/><circle cx="277.9" cy="306.0" r="3.25" fill="#00bdff"/><circle cx="280.8" cy="305.4" r="3.25" fill="#00b8ff"/><circle cx="283.7" cy="304.9" r="3.25" fill="#00d4ff"/><circle cx="286.6" cy="304.4" r="3.25" fill="#00e0ff"/><circle cx="289.5" cy="303.8" r="3.25" fill="#09fff6"/><circle cx="292.4" cy="303.3" r="3.25" fill="#13ffec"/><circle cx="295.3" cy="302.8" r="3.25" fill="#0bfff4"/><circle cx="298.2" cy="302.2" r="3.25" fill="#12ffed"/><circle cx="301.1" cy="301.7" r="3.25" fill="#0afff5"/><circle cx="304.0" cy="301.1" r="3.25" fill="#1cffe3"/><circle cx="306.9" cy="300.6" r="3.25" fill="#2bffd4"/><circle cx="309.8" cy="300.1" r="3.25" fill="#2affd5"/><circle cx="312.7" cy="299.5" r="3.25" fill="#31ffce"/><circle cx="315.6" cy="299.0" r="3.25" fill="#33ffcc"/><circle cx="318.5" cy="298.5" r="3.25" fill="#2effd1"/><circle cx="321.4" cy="297.9" r="3.25" fill="#28ffd7"/><circle cx="324.3" cy="297.4" r="3.25" fill="#2effd1"/><circle cx="327.2" cy="296.9" r="3.25" fill="#32ffcd"/><circle cx="250.3" cy="309.2" r="3.25" fill="#0051ff"/><circle cx="253.2" cy="308.6" r="3.25" fill="#004cff"/><circle cx="256.1" cy="308.1" r="3.25" fill="#003eff"/><circle cx="259.0" cy="307.6" r="3.25" fill="#0033ff"/><circle cx="261.9" cy="307.0" r="3.25" fill="#0020ff"/><circle cx="264.9" cy="306.5" r="3.25" fill="#002dff"/><circle cx="267.8" cy="306.0" r="3.25" fill="#004fff"/><circle cx="270.6" cy="305.4" r="3.25" fill="#007dff"/><circle cx="273.6" cy="304.9" r="3.25" fill="#009cff"/><circle cx="276.5" cy="304.3" r="3.25" fill="#00b2ff"/><circle cx="279.4" cy="303.8" r="3.25" fill="#00caff"/><circle cx="282.2" cy="303.3" r="3.25" fill="#00dfff"/><circle cx="285.2" cy="302.7" r="3.25" fill="#00deff"/><circle cx="288.1" cy="302.2" r="3.25" fill="#00eeff"/><circle cx="291.0" cy="301.7" r="3.25" fill="#00e9ff"/><circle cx="293.9" cy="301.1" r="3.25" fill="#00feff"/><circle cx="296.8" cy="300.6" r="3.25" fill="#0efff1"/><circle cx="299.7" cy="300.1" r="3.25" fill="#03fffc"/><circle cx="302.6" cy="299.5" r="3.25" fill="#06fff9"/><circle cx="305.5" cy="299.0" r="3.25" fill="#20ffdf"/><circle cx="308.4" cy="298.4" r="3.25" fill="#21ffde"/><circle cx="311.3" cy="297.9" r="3.25" fill="#1dffe2"/><circle cx="314.2" cy="297.4" r="3.25" fill="#25ffda"/><circle cx="317.1" cy="296.8" r="3.25" fill="#2fffd0"/><circle cx="320.0" cy="296.3" r="3.25" fill="#2dffd2"/><circle cx="322.9" cy="295.8" r="3.25" fill="#32ffcd"/><circle cx="325.8" cy="295.2" r="3.25" fill="#3dffc2"/><circle cx="240.2" cy="309.2" r="3.25" fill="#c40000"/><circle cx="243.1" cy="308.6" r="3.25" fill="#004cff"/><circle cx="246.0" cy="308.1" r="3.25" fill="#0056ff"/><circle cx="248.9" cy="307.5" r="3.25" fill="#0050ff"/><circle cx="251.8" cy="307.0" r="3.25" fill="#0045ff"/><circle cx="254.7" cy="306.5" r="3.25" fill="#0042ff"/><circle cx="257.6" cy="305.9" r="3.25" fill="#003bff"/><circle cx="260.5" cy="305.4" r="3.25" fill="#0027ff"/><circle cx="263.4" cy="304.9" r="3.25" fill="#0030ff"/><circle cx="266.3" cy="304.3" r="3.25" fill="#0060ff"/><circle cx="269.2" cy="303.8" r="3.25" fill="#0084ff"/><circle cx="272.1" cy="303.3" r="3.25" fill="#0093ff"/><circle cx="275.0" cy="302.7" r="3.25" fill="#0098ff"/><circle cx="277.9" cy="302.2" r="3.25" fill="#00a7ff"/><circle cx="280.8" cy="301.6" r="3.25" fill="#00d1ff"/><circle cx="283.7" cy="301.1" r="3.25" fill="#00deff"/><circle cx="286.6" cy="300.6" r="3.25" fill="#00efff"/><circle cx="289.5" cy="300.0" r="3.25" fill="#00f8ff"/><circle cx="292.4" cy="299.5" r="3.25" fill="#00faff"/><circle cx="295.3" cy="299.0" r="3.25" fill="#00ffff"/><circle cx="298.2" cy="298.4" r="3.25" fill="#03fffc"/><circle cx="301.1" cy="297.9" r="3.25" fill="#0dfff2"/><circle cx="304.0" cy="297.3" r="3.25" fill="#13ffec"/><circle cx="306.9" cy="296.8" r="3.25" fill="#13ffec"/><circle cx="309.8" cy="296.3" r="3.25" fill="#1fffe0"/><circle cx="312.7" cy="295.7" r="3.25" fill="#32ffcd"/><circle cx="315.6" cy="295.2" r="3.25" fill="#31ffce"/><circle cx="318.5" cy="294.7" r="3.25" fill="#31ffce"/><circle cx="321.4" cy="294.1" r="3.25" fill="#33ffcc"/><circle cx="324.3" cy="293.6" r="3.25" fill="#2cffd3"/><circle cx="327.2" cy="293.1" r="3.25" fill="#22ffdd"/><circle cx="230.1" cy="309.1" r="3.25" fill="#ff1000"/><circle cx="232.9" cy="308.6" r="3.25" fill="#ea0000"/><circle cx="235.8" cy="308.1" r="3.25" fill="#bf0000"/><circle cx="238.8" cy="307.5" r="3.25" fill="#b90000"/><circle cx="241.6" cy="307.0" r="3.25" fill="#ae0000"/><circle cx="244.5" cy="306.4" r="3.25" fill="#0050ff"/><circle cx="247.4" cy="305.9" r="3.25" fill="#0047ff"/><circle cx="250.3" cy="305.4" r="3.25" fill="#003fff"/><circle cx="253.2" cy="304.8" r="3.25" fill="#0043ff"/><circle cx="256.1" cy="304.3" r="3.25" fill="#003aff"/><circle cx="259.0" cy="303.8" r="3.25" fill="#003aff"/><circle cx="261.9" cy="303.2" r="3.25" fill="#0038ff"/><circle cx="264.9" cy="302.7" r="3.25" fill="#004cff"/><circle cx="267.8" cy="302.2" r="3.25" fill="#0065ff"/><circle cx="270.6" cy="301.6" r="3.25" fill="#0073ff"/><circle cx="273.6" cy="301.1" r="3.25" fill="#0083ff"/><circle cx="276.5" cy="300.5" r="3.25" fill="#0095ff"/><circle cx="279.4" cy="300.0" r="3.25" fill="#00b4ff"/><circle cx="282.2" cy="299.5" r="3.25" fill="#00caff"/><circle cx="285.2" cy="298.9" r="3.25" fill="#00eaff"/><circle cx="288.1" cy="298.4" r="3.25" fill="#00f7ff"/><circle cx="291.0" cy="297.9" r="3.25" fill="#00eeff"/><circle cx="293.9" cy="297.3" r="3.25" fill="#00f4ff"/><circle cx="296.8" cy="296.8" r="3.25" fill="#01fffe"/><circle cx="299.7" cy="296.3" r="3.25" fill="#17ffe8"/><circle cx="302.6" cy="295.7" r="3.25" fill="#26ffd9"/><circle cx="305.5" cy="295.2" r="3.25" fill="#12ffed"/><circle cx="308.4" cy="294.6" r="3.25" fill="#1effe1"/><circle cx="311.3" cy="294.1" r="3.25" fill="#34ffcb"/><circle cx="314.2" cy="293.6" r="3.25" fill="#28ffd7"/><circle cx="317.1" cy="293.0" r="3.25" fill="#21ffde"/><circle cx="320.0" cy="292.5" r="3.25" fill="#30ffcf"/><circle cx="322.9" cy="292.0" r="3.25" fill="#32ffcd"/><circle cx="325.8" cy="291.4" r="3.25" fill="#2fffd0"/><circle cx="219.9" cy="309.1" r="3.25" fill="#ff7800"/><circle cx="222.8" cy="308.6" r="3.25" fill="#ff6500"/><circle cx="225.7" cy="308.0" r="3.25" fill="#ff4800"/><circle cx="228.6" cy="307.5" r="3.25" fill="#ff2600"/><circle cx="231.5" cy="307.0" r="3.25" fill="#ff0300"/><circle cx="234.4" cy="306.4" r="3.25" fill="#db0000"/><circle cx="237.3" cy="305.9" r="3.25" fill="#be0000"/><circle cx="240.2" cy="305.4" r="3.25" fill="#b00000"/><circle cx="243.1" cy="304.8" r="3.25" fill="#0050ff"/><circle cx="246.0" cy="304.3" r="3.25" fill="#0043ff"/><circle cx="248.9" cy="303.7" r="3.25" fill="#0048ff"/><circle cx="251.8" cy="303.2" r="3.25" fill="#004aff"/><circle cx="254.7" cy="302.7" r="3.25" fill="#0048ff"/><circle cx="257.6" cy="302.1" r="3.25" fill="#004dff"/><circle cx="260.5" cy="301.6" r="3.25" fill="#0039ff"/><circle cx="263.4" cy="301.1" r="3.25" fill="#0036ff"/><circle cx="266.3" cy="300.5" r="3.25" fill="#0060ff"/><circle cx="269.2" cy="300.0" r="3.25" fill="#0075ff"/><circle cx="272.1" cy="299.5" r="3.25" fill="#007dff"/><circle cx="275.0" cy="298.9" r="3.25" fill="#0093ff"/><circle cx="277.9" cy="298.4" r="3.25" fill="#00b0ff"/><circle cx="280.8" cy="297.8" r="3.25" fill="#00c6ff"/><circle cx="283.7" cy="297.3" r="3.25" fill="#00daff"/><circle cx="286.6" cy="296.8" r="3.25" fill="#00eaff"/><circle cx="289.5" cy="296.2" r="3.25" fill="#00f6ff"/><circle cx="292.4" cy="295.7" r="3.25" fill="#0cfff3"/><circle cx="295.3" cy="295.2" r="3.25" fill="#16ffe9"/><circle cx="298.2" cy="294.6" r="3.25" fill="#1effe1"/><circle cx="301.1" cy="294.1" r="3.25" fill="#2effd1"/><circle cx="304.0" cy="293.5" r="3.25" fill="#20ffdf"/><circle cx="306.9" cy="293.0" r="3.25" fill="#15ffea"/><circle cx="309.8" cy="292.5" r="3.25" fill="#22ffdd"/><circle cx="312.7" cy="291.9" r="3.25" fill="#25ffda"/><circle cx="315.6" cy="291.4" r="3.25" fill="#33ffcc"/><circle cx="318.5" cy="290.9" r="3.25" fill="#3affc5"/><circle cx="321.4" cy="290.3" r="3.25" fill="#34ffcb"/><circle cx="324.3" cy="289.8" r="3.25" fill="#32ffcd"/><circle cx="327.2" cy="289.3" r="3.25" fill="#2cffd3"/><circle cx="209.8" cy="309.1" r="3.25" fill="#fb0000"/><circle cx="212.7" cy="308.5" r="3.25" fill="#e50000"/><circle cx="215.6" cy="308.0" r="3.25" fill="#c30000"/><circle cx="218.4" cy="307.5" r="3.25" fill="#ff7300"/><circle cx="221.3" cy="306.9" r="3.25" fill="#ff5600"/><circle cx="224.2" cy="306.4" r="3.25" fill="#ff4a00"/><circle cx="227.2" cy="305.9" r="3.25" fill="#ff4000"/><circle cx="230.1" cy="305.3" r="3.25" fill="#ff1900"/><circle cx="232.9" cy="304.8" r="3.25" fill="#fa0000"/><circle cx="235.8" cy="304.3" r="3.25" fill="#d90000"/><circle cx="238.8" cy="303.7" r="3.25" fill="#ca0000"/><circle cx="241.6" cy="303.2" r="3.25" fill="#0047ff"/><circle cx="244.5" cy="302.6" r="3.25" fill="#0043ff"/><circle cx="247.4" cy="302.1" r="3.25" fill="#0043ff"/><circle cx="250.3" cy="301.6" r="3.25" fill="#0036ff"/><circle cx="253.2" cy="301.0" r="3.25" fill="#0040ff"/><circle cx="256.1" cy="300.5" r="3.25" fill="#004bff"/><circle cx="259.0" cy="300.0" r="3.25" fill="#0038ff"/><circle cx="261.9" cy="299.4" r="3.25" fill="#002eff"/><circle cx="264.9" cy="298.9" r="3.25" fill="#0053ff"/><circle cx="267.8" cy="298.4" r="3.25" fill="#006aff"/><circle cx="270.6" cy="297.8" r="3.25" fill="#0071ff"/><circle cx="273.6" cy="297.3" r="3.25" fill="#008fff"/><circle cx="276.5" cy="296.7" r="3.25" fill="#00b4ff"/><circle cx="279.4" cy="296.2" r="3.25" fill="#00b8ff"/><circle cx="282.2" cy="295.7" r="3.25" fill="#00c1ff"/><circle cx="285.2" cy="295.1" r="3.25" fill="#00cbff"/><circle cx="288.1" cy="294.6" r="3.25" fill="#00e8ff"/><circle cx="291.0" cy="294.1" r="3.25" fill="#06fff9"/><circle cx="293.9" cy="293.5" r="3.25" fill="#01fffe"/><circle cx="296.8" cy="293.0" r="3.25" fill="#00ffff"/><circle cx="299.7" cy="292.5" r="3.25" fill="#20ffdf"/><circle cx="302.6" cy="291.9" r="3.25" fill="#24ffdb"/><circle cx="305.5" cy="291.4" r="3.25" fill="#19ffe6"/><circle cx="308.4" cy="290.8" r="3.25" fill="#1bffe4"/><circle cx="311.3" cy="290.3" r="3.25" fill="#18ffe7"/><circle cx="314.2" cy="289.8" r="3.25" fill="#32ffcd"/><circle cx="317.1" cy="289.2" r="3.25" fill="#3dffc2"/><circle cx="320.0" cy="288.7" r="3.25" fill="#30ffcf"/><circle cx="322.9" cy="288.2" r="3.25" fill="#2dffd2"/><circle cx="325.8" cy="287.6" r="3.25" fill="#28ffd7"/><circle cx="199.6" cy="309.1" r="3.25" fill="#2effd1"/><circle cx="202.5" cy="308.5" r="3.25" fill="#008aff"/><circle cx="205.4" cy="308.0" r="3.25" fill="#0091ff"/><circle cx="208.3" cy="307.5" r="3.25" fill="#ffbf00"/><circle cx="211.2" cy="306.9" r="3.25" fill="#ff9b00"/><circle cx="214.1" cy="306.4" r="3.25" fill="#ff9500"/><circle cx="217.0" cy="305.8" r="3.25" fill="#ff9200"/><circle cx="219.9" cy="305.3" r="3.25" fill="#ff6100"/><circle cx="222.8" cy="304.8" r="3.25" fill="#ff5200"/><circle cx="225.7" cy="304.2" r="3.25" fill="#ff4d00"/><circle cx="228.6" cy="303.7" r="3.25" fill="#ff2f00"/><circle cx="231.5" cy="303.2" r="3.25" fill="#ff0900"/><circle cx="234.4" cy="302.6" r="3.25" fill="#df0000"/><circle cx="237.3" cy="302.1" r="3.25" fill="#c50000"/><circle cx="240.2" cy="301.6" r="3.25" fill="#cc0000"/><circle cx="243.1" cy="301.0" r="3.25" fill="#0041ff"/><circle cx="246.0" cy="300.5" r="3.25" fill="#0040ff"/><circle cx="248.9" cy="299.9" r="3.25" fill="#003eff"/><circle cx="251.8" cy="299.4" r="3.25" fill="#0042ff"/><circle cx="254.7" cy="298.9" r="3.25" fill="#003eff"/><circle cx="257.6" cy="298.3" r="3.25" fill="#0034ff"/><circle cx="260.5" cy="297.8" r="3.25" fill="#0035ff"/><circle cx="263.4" cy="297.3" r="3.25" fill="#0033ff"/><circle cx="266.3" cy="296.7" r="3.25" fill="#004fff"/><circle cx="269.2" cy="296.2" r="3.25" fill="#0071ff"/><circle cx="272.1" cy="295.7" r="3.25" fill="#0091ff"/><circle cx="275.0" cy="295.1" r="3.25" fill="#0093ff"/><circle cx="277.9" cy="294.6" r="3.25" fill="#00a3ff"/><circle cx="280.8" cy="294.0" r="3.25" fill="#00beff"/><circle cx="283.7" cy="293.5" r="3.25" fill="#00d2ff"/><circle cx="286.6" cy="293.0" r="3.25" fill="#00deff"/><circle cx="289.5" cy="292.4" r="3.25" fill="#00f0ff"/><circle cx="292.4" cy="291.9" r="3.25" fill="#00feff"/><circle cx="295.3" cy="291.4" r="3.25" fill="#0efff1"/><circle cx="298.2" cy="290.8" r="3.25" fill="#15ffea"/><circle cx="301.1" cy="290.3" r="3.25" fill="#0ffff0"/><circle cx="304.0" cy="289.7" r="3.25" fill="#3fffc0"/><circle cx="306.9" cy="289.2" r="3.25" fill="#58ffa7"/><circle cx="309.8" cy="288.7" r="3.25" fill="#68ff97"/><circle cx="312.7" cy="288.1" r="3.25" fill="#70ff8f"/><circle cx="315.6" cy="287.6" r="3.25" fill="#71ff8e"/><circle cx="318.5" cy="287.1" r="3.25" fill="#78ff87"/><circle cx="321.4" cy="286.5" r="3.25" fill="#8bff74"/><circle cx="324.3" cy="286.0" r="3.25" fill="#7eff81"/><circle cx="198.2" cy="307.4" r="3.25" fill="#34ffcb"/><circle cx="201.1" cy="306.9" r="3.25" fill="#2cffd3"/><circle cx="204.0" cy="306.4" r="3.25" fill="#0088ff"/><circle cx="206.8" cy="305.8" r="3.25" fill="#87ff78"/><circle cx="209.8" cy="305.3" r="3.25" fill="#ffab00"/><circle cx="212.7" cy="304.7" r="3.25" fill="#ffa000"/><circle cx="215.6" cy="304.2" r="3.25" fill="#ffa400"/><circle cx="218.4" cy="303.7" r="3.25" fill="#ff8a00"/><circle cx="221.3" cy="303.1" r="3.25" fill="#ff6300"/><circle cx="224.2" cy="302.6" r="3.25" fill="#ff4500"/><circle cx="227.2" cy="302.1" r="3.25" fill="#ff2400"/><circle cx="230.1" cy="301.5" r="3.25" fill="#fd0000"/><circle cx="232.9" cy="301.0" r="3.25" fill="#e30000"/><circle cx="235.8" cy="300.5" r="3.25" fill="#c40000"/><circle cx="238.8" cy="299.9" r="3.25" fill="#b90000"/><circle cx="241.6" cy="299.4" r="3.25" fill="#0054ff"/><circle cx="244.5" cy="298.8" r="3.25" fill="#0043ff"/><circle cx="247.4" cy="298.3" r="3.25" fill="#003eff"/><circle cx="250.3" cy="297.8" r="3.25" fill="#004fff"/><circle cx="253.2" cy="297.2" r="3.25" fill="#004aff"/><circle cx="256.1" cy="296.7" r="3.25" fill="#0038ff"/><circle cx="259.0" cy="296.2" r="3.25" fill="#003dff"/><circle cx="261.9" cy="295.6" r="3.25" fill="#003dff"/><circle cx="264.9" cy="295.1" r="3.25" fill="#0045ff"/><circle cx="267.8" cy="294.6" r="3.25" fill="#0063ff"/><circle cx="270.6" cy="294.0" r="3.25" fill="#0080ff"/><circle cx="273.6" cy="293.5" r="3.25" fill="#0090ff"/><circle cx="276.5" cy="292.9" r="3.25" fill="#00b8ff"/><circle cx="279.4" cy="292.4" r="3.25" fill="#00c6ff"/><circle cx="282.2" cy="291.9" r="3.25" fill="#00d6ff"/><circle cx="285.2" cy="291.3" r="3.25" fill="#00d1ff"/><circle cx="288.1" cy="290.8" r="3.25" fill="#00e5ff"/><circle cx="291.0" cy="290.3" r="3.25" fill="#0afff5"/><circle cx="293.9" cy="289.7" r="3.25" fill="#10ffef"/><circle cx="296.8" cy="289.2" r="3.25" fill="#17ffe8"/><circle cx="299.7" cy="288.7" r="3.25" fill="#1affe5"/><circle cx="302.6" cy="288.1" r="3.25" fill="#40ffbf"/><circle cx="305.5" cy="287.6" r="3.25" fill="#50ffaf"/><circle cx="308.4" cy="287.0" r="3.25" fill="#51ffae"/><circle cx="311.3" cy="286.5" r="3.25" fill="#56ffa9"/><circle cx="314.2" cy="286.0" r="3.25" fill="#63ff9c"/><circle cx="317.1" cy="285.4" r="3.25" fill="#6fff90"/><circle cx="320.0" cy="284.9" r="3.25" fill="#81ff7e"/><circle cx="322.9" cy="284.4" r="3.25" fill="#88ff77"/><circle cx="325.8" cy="283.8" r="3.25" fill="#89ff76"/><circle cx="196.7" cy="305.8" r="3.25" fill="#38ffc7"/><circle cx="199.6" cy="305.3" r="3.25" fill="#30ffcf"/><circle cx="202.5" cy="304.7" r="3.25" fill="#008bff"/><circle cx="205.4" cy="304.2" r="3.25" fill="#008dff"/><circle cx="208.3" cy="303.7" r="3.25" fill="#e8ff17"/><circle cx="211.2" cy="303.1" r="3.25" fill="#fdff02"/><circle cx="214.1" cy="302.6" r="3.25" fill="#fff500"/><circle cx="217.0" cy="302.0" r="3.25" fill="#ffe600"/><circle cx="219.9" cy="301.5" r="3.25" fill="#ffb200"/><circle cx="222.8" cy="301.0" r="3.25" fill="#ff9800"/><circle cx="225.7" cy="300.4" r="3.25" fill="#ff8400"/><circle cx="228.6" cy="299.9" r="3.25" fill="#ff6a00"/><circle cx="231.5" cy="299.4" r="3.25" fill="#ff5100"/><circle cx="234.4" cy="298.8" r="3.25" fill="#ff2b00"/><circle cx="237.3" cy="298.3" r="3.25" fill="#ff1600"/><circle cx="240.2" cy="297.8" r="3.25" fill="#ff0200"/><circle cx="243.1" cy="297.2" r="3.25" fill="#0058ff"/><circle cx="246.0" cy="296.7" r="3.25" fill="#0043ff"/><circle cx="248.9" cy="296.1" r="3.25" fill="#004dff"/><circle cx="251.8" cy="295.6" r="3.25" fill="#0048ff"/><circle cx="254.7" cy="295.1" r="3.25" fill="#004dff"/><circle cx="257.6" cy="294.5" r="3.25" fill="#0048ff"/><circle cx="260.5" cy="294.0" r="3.25" fill="#003dff"/><circle cx="263.4" cy="293.5" r="3.25" fill="#0032ff"/><circle cx="266.3" cy="292.9" r="3.25" fill="#004bff"/><circle cx="269.2" cy="292.4" r="3.25" fill="#0069ff"/><circle cx="272.1" cy="291.9" r="3.25" fill="#0086ff"/><circle cx="275.0" cy="291.3" r="3.25" fill="#00abff"/><circle cx="277.9" cy="290.8" r="3.25" fill="#00beff"/><circle cx="280.8" cy="290.2" r="3.25" fill="#00cfff"/><circle cx="283.7" cy="289.7" r="3.25" fill="#00d9ff"/><circle cx="286.6" cy="289.2" r="3.25" fill="#00edff"/><circle cx="289.5" cy="288.6" r="3.25" fill="#03fffc"/><circle cx="292.4" cy="288.1" r="3.25" fill="#06fff9"/><circle cx="295.3" cy="287.6" r="3.25" fill="#0afff5"/><circle cx="298.2" cy="287.0" r="3.25" fill="#07fff8"/><circle cx="301.1" cy="286.5" r="3.25" fill="#0dfff2"/><circle cx="304.0" cy="285.9" r="3.25" fill="#35ffca"/><circle cx="306.9" cy="285.4" r="3.25" fill="#40ffbf"/><circle cx="309.8" cy="284.9" r="3.25" fill="#5bffa4"/><circle cx="312.7" cy="284.3" r="3.25" fill="#6eff91"/><circle cx="315.6" cy="283.8" r="3.25" fill="#6aff95"/><circle cx="318.5" cy="283.3" r="3.25" fill="#6fff90"/><circle cx="321.4" cy="282.7" r="3.25" fill="#70ff8f"/><circle cx="324.3" cy="282.2" r="3.25" fill="#83ff7c"/><circle cx="198.2" cy="303.6" r="3.25" fill="#26ffd9"/><circle cx="201.1" cy="303.1" r="3.25" fill="#31ffce"/><circle cx="204.0" cy="302.6" r="3.25" fill="#0095ff"/><circle cx="206.8" cy="302.0" r="3.25" fill="#99ff66"/><circle cx="209.8" cy="301.5" r="3.25" fill="#fcff03"/><circle cx="212.7" cy="300.9" r="3.25" fill="#fff400"/><circle cx="215.6" cy="300.4" r="3.25" fill="#ffe800"/><circle cx="218.4" cy="299.9" r="3.25" fill="#ffcf00"/><circle cx="221.3" cy="299.3" r="3.25" fill="#ffc000"/><circle cx="224.2" cy="298.8" r="3.25" fill="#ff9c00"/><circle cx="227.2" cy="298.3" r="3.25" fill="#ff8600"/><circle cx="230.1" cy="297.7" r="3.25" fill="#ff7100"/><circle cx="232.9" cy="297.2" r="3.25" fill="#ff5300"/><circle cx="235.8" cy="296.7" r="3.25" fill="#ff2a00"/><circle cx="238.8" cy="296.1" r="3.25" fill="#ff1300"/><circle cx="241.6" cy="295.6" r="3.25" fill="#0050ff"/><circle cx="244.5" cy="295.0" r="3.25" fill="#0058ff"/><circle cx="247.4" cy="294.5" r="3.25" fill="#005aff"/><circle cx="250.3" cy="294.0" r="3.25" fill="#0044ff"/><circle cx="253.2" cy="293.4" r="3.25" fill="#003cff"/><circle cx="256.1" cy="292.9" r="3.25" fill="#0033ff"/><circle cx="259.0" cy="292.4" r="3.25" fill="#0031ff"/><circle cx="261.9" cy="291.8" r="3.25" fill="#0026ff"/><circle cx="264.9" cy="291.3" r="3.25" fill="#004cff"/><circle cx="267.8" cy="290.8" r="3.25" fill="#0079ff"/><circle cx="270.6" cy="290.2" r="3.25" fill="#0092ff"/><circle cx="273.6" cy="289.7" r="3.25" fill="#009fff"/><circle cx="276.5" cy="289.1" r="3.25" fill="#00afff"/><circle cx="279.4" cy="288.6" r="3.25" fill="#00c6ff"/><circle cx="282.2" cy="288.1" r="3.25" fill="#00dcff"/><circle cx="285.2" cy="287.5" r="3.25" fill="#00e8ff"/><circle cx="288.1" cy="287.0" r="3.25" fill="#00f3ff"/><circle cx="291.0" cy="286.5" r="3.25" fill="#00fbff"/><circle cx="293.9" cy="285.9" r="3.25" fill="#00faff"/><circle cx="296.8" cy="285.4" r="3.25" fill="#05fffa"/><circle cx="299.7" cy="284.9" r="3.25" fill="#08fff7"/><circle cx="302.6" cy="284.3" r="3.25" fill="#25ffda"/><circle cx="305.5" cy="283.8" r="3.25" fill="#3affc5"/><circle cx="308.4" cy="283.2" r="3.25" fill="#4affb5"/><circle cx="311.3" cy="282.7" r="3.25" fill="#57ffa8"/><circle cx="314.2" cy="282.2" r="3.25" fill="#51ffae"/><circle cx="317.1" cy="281.6" r="3.25" fill="#55ffaa"/><circle cx="320.0" cy="281.1" r="3.25" fill="#65ff9a"/><circle cx="322.9" cy="280.6" r="3.25" fill="#78ff87"/><circle cx="325.8" cy="280.0" r="3.25" fill="#7aff85"/><circle cx="196.7" cy="302.0" r="3.25" fill="#34ffcb"/><circle cx="199.6" cy="301.5" r="3.25" fill="#3effc1"/><circle cx="202.5" cy="300.9" r="3.25" fill="#0098ff"/><circle cx="205.4" cy="300.4" r="3.25" fill="#0098ff"/><circle cx="208.3" cy="299.9" r="3.25" fill="#eeff11"/><circle cx="211.2" cy="299.3" r="3.25" fill="#f7ff08"/><circle cx="214.1" cy="298.8" r="3.25" fill="#ffed00"/><circle cx="217.0" cy="298.2" r="3.25" fill="#ffca00"/><circle cx="219.9" cy="297.7" r="3.25" fill="#ffb300"/><circle cx="222.8" cy="297.2" r="3.25" fill="#ffa000"/><circle cx="225.7" cy="296.6" r="3.25" fill="#ff9b00"/><circle cx="228.6" cy="296.1" r="3.25" fill="#ff7b00"/><circle cx="231.5" cy="295.6" r="3.25" fill="#ff6200"/><circle cx="234.4" cy="295.0" r="3.25" fill="#ff3700"/><circle cx="237.3" cy="294.5" r="3.25" fill="#ff1800"/><circle cx="240.2" cy="294.0" r="3.25" fill="#0049ff"/><circle cx="243.1" cy="293.4" r="3.25" fill="#0048ff"/><circle cx="246.0" cy="292.9" r="3.25" fill="#0058ff"/><circle cx="248.9" cy="292.3" r="3.25" fill="#004aff"/><circle cx="251.8" cy="291.8" r="3.25" fill="#004aff"/><circle cx="254.7" cy="291.3" r="3.25" fill="#0041ff"/><circle cx="257.6" cy="290.7" r="3.25" fill="#0033ff"/><circle cx="260.5" cy="290.2" r="3.25" fill="#0024ff"/><circle cx="263.4" cy="289.7" r="3.25" fill="#002dff"/><circle cx="266.3" cy="289.1" r="3.25" fill="#004bff"/><circle cx="269.2" cy="288.6" r="3.25" fill="#006dff"/><circle cx="272.1" cy="288.1" r="3.25" fill="#008aff"/><circle cx="275.0" cy="287.5" r="3.25" fill="#00a6ff"/><circle cx="277.9" cy="287.0" r="3.25" fill="#00bfff"/><circle cx="280.8" cy="286.4" r="3.25" fill="#00ceff"/><circle cx="283.7" cy="285.9" r="3.25" fill="#00d9ff"/><circle cx="286.6" cy="285.4" r="3.25" fill="#00e3ff"/><circle cx="289.5" cy="284.8" r="3.25" fill="#00f1ff"/><circle cx="292.4" cy="284.3" r="3.25" fill="#00f6ff"/><circle cx="295.3" cy="283.8" r="3.25" fill="#18ffe7"/><circle cx="298.2" cy="283.2" r="3.25" fill="#12ffed"/><circle cx="301.1" cy="282.7" r="3.25" fill="#0efff1"/><circle cx="304.0" cy="282.1" r="3.25" fill="#31ffce"/><circle cx="306.9" cy="281.6" r="3.25" fill="#33ffcc"/><circle cx="309.8" cy="281.1" r="3.25" fill="#44ffbb"/><circle cx="312.7" cy="280.5" r="3.25" fill="#56ffa9"/><circle cx="315.6" cy="280.0" r="3.25" fill="#74ff8b"/><circle cx="318.5" cy="279.5" r="3.25" fill="#7dff82"/><circle cx="321.4" cy="278.9" r="3.25" fill="#78ff87"/><circle cx="324.3" cy="278.4" r="3.25" fill="#70ff8f"/></g>
<text class="b t ls" x="240.8" y="77.0" text-anchor="middle">100<tspan class="d" dx="3.0" dy="-11.2">o</tspan><tspan dx="6.1" dy="11.2">W</tspan></text>
<text class="b t ls" x="305.7" y="77.0" text-anchor="middle">90<tspan class="d" dx="3.0" dy="-11.2">o</tspan><tspan dx="6.1" dy="11.2">W</tspan></text>
<text class="b t ls" x="369.5" y="77.0" text-anchor="middle">80<tspan class="d" dx="3.0" dy="-11.2">o</tspan><tspan dx="6.1" dy="11.2">W</tspan></text>
<text class="b t ls" x="432.9" y="77.0" text-anchor="middle">70<tspan class="d" dx="3.0" dy="-11.2">o</tspan><tspan dx="6.1" dy="11.2">W</tspan></text>
<text class="b t" x="186.1" y="112.7" text-anchor="end">48<tspan class="d" dx="2.3" dy="-11.2">o</tspan><tspan dx="4.6" dy="11.2">N</tspan></text>
<text class="b t" x="186.1" y="130.1" text-anchor="end">46<tspan class="d" dx="2.3" dy="-11.2">o</tspan><tspan dx="4.6" dy="11.2">N</tspan></text>
<text class="b t" x="186.1" y="147.7" text-anchor="end">44<tspan class="d" dx="2.3" dy="-11.2">o</tspan><tspan dx="4.6" dy="11.2">N</tspan></text>
<text class="b t" x="186.1" y="166.5" text-anchor="end">42<tspan class="d" dx="2.3" dy="-11.2">o</tspan><tspan dx="4.6" dy="11.2">N</tspan></text>
<text class="b t" x="186.1" y="182.6" text-anchor="end">40<tspan class="d" dx="2.3" dy="-11.2">o</tspan><tspan dx="4.6" dy="11.2">N</tspan></text>
<text class="b t" x="186.1" y="197.5" text-anchor="end">38<tspan class="d" dx="2.3" dy="-11.2">o</tspan><tspan dx="4.6" dy="11.2">N</tspan></text>
<text class="b t" x="186.1" y="214.6" text-anchor="end">36<tspan class="d" dx="2.3" dy="-11.2">o</tspan><tspan dx="4.6" dy="11.2">N</tspan></text>
<text class="b t" x="186.1" y="228.4" text-anchor="end">34<tspan class="d" dx="2.3" dy="-11.2">o</tspan><tspan dx="4.6" dy="11.2">N</tspan></text>
<text class="b t" x="186.1" y="245.4" text-anchor="end">32<tspan class="d" dx="2.3" dy="-11.2">o</tspan><tspan dx="4.6" dy="11.2">N</tspan></text>
<text class="b t" x="186.1" y="259.4" text-anchor="end">30<tspan class="d" dx="2.3" dy="-11.2">o</tspan><tspan dx="4.6" dy="11.2">N</tspan></text>
<text class="b t" x="186.1" y="272.4" text-anchor="end">28<tspan class="d" dx="2.3" dy="-11.2">o</tspan><tspan dx="4.6" dy="11.2">N</tspan></text>
<text class="b t" x="186.1" y="287.4" text-anchor="end">26<tspan class="d" dx="2.3" dy="-11.2">o</tspan><tspan dx="4.6" dy="11.2">N</tspan></text>
<text class="b t" x="186.1" y="301.5" text-anchor="end">24<tspan class="d" dx="2.3" dy="-11.2">o</tspan><tspan dx="4.6" dy="11.2">N</tspan></text>
<text class="b t" x="186.1" y="314.3" text-anchor="end">22<tspan class="d" dx="2.3" dy="-11.2">o</tspan><tspan dx="4.6" dy="11.2">N</tspan></text>
<text class="b p" x="307.5" y="341.1" text-anchor="middle">SAT+RAP 850 hPa Temp (K)</text>
<rect x="441.20" y="95.30" width="23.80" height="215.20" fill="url(#jet)" stroke="#262626" stroke-width="0.6"/>
<path d="M465.00 140.60h-2.4" stroke="#262626" stroke-width="0.7"/><text class="b c" x="473.3" y="148.6">295</text>
<path d="M465.00 198.20h-2.4" stroke="#262626" stroke-width="0.7"/><text class="b c" x="473.3" y="206.2">290</text>
<path d="M465.00 255.50h-2.4" stroke="#262626" stroke-width="0.7"/><text class="b c" x="473.3" y="263.5">285</text>
</g>
<g>
<rect x="616.40" y="96.35" width="234.10" height="213.05" fill="#fff" stroke="#000" stroke-width="1" shape-rendering="crispEdges"/>
<g clip-path="url(#cp1)"><use href="#usmap" transform="translate(617.10 96.90) scale(0.062946 0.062769)"/></g>
<g><circle cx="742.3" cy="309.4" r="3.25" fill="#cfff30"/><circle cx="745.2" cy="308.9" r="3.25" fill="#beff41"/><circle cx="748.1" cy="308.4" r="3.25" fill="#b7ff48"/><circle cx="732.1" cy="309.4" r="3.25" fill="#c1ff3e"/><circle cx="735.0" cy="308.9" r="3.25" fill="#c1ff3e"/><circle cx="737.9" cy="308.3" r="3.25" fill="#ceff31"/><circle cx="740.8" cy="307.8" r="3.25" fill="#cdff32"/><circle cx="743.7" cy="307.3" r="3.25" fill="#c5ff3a"/><circle cx="746.6" cy="306.7" r="3.25" fill="#d1ff2e"/><circle cx="749.5" cy="306.2" r="3.25" fill="#dbff24"/><circle cx="721.9" cy="309.4" r="3.25" fill="#c2ff3d"/><circle cx="724.8" cy="308.8" r="3.25" fill="#b8ff47"/><circle cx="727.7" cy="308.3" r="3.25" fill="#a0ff5f"/><circle cx="730.6" cy="307.8" r="3.25" fill="#b4ff4b"/><circle cx="733.5" cy="307.2" r="3.25" fill="#c4ff3b"/><circle cx="736.5" cy="306.7" r="3.25" fill="#bbff44"/><circle cx="739.4" cy="306.2" r="3.25" fill="#b5ff4a"/><circle cx="742.3" cy="305.6" r="3.25" fill="#b3ff4c"/><circle cx="745.2" cy="305.1" r="3.25" fill="#c9ff36"/><circle cx="748.1" cy="304.6" r="3.25" fill="#dcff23"/><circle cx="711.8" cy="309.4" r="3.25" fill="#c1ff3e"/><circle cx="714.7" cy="308.8" r="3.25" fill="#caff35"/><circle cx="717.6" cy="308.3" r="3.25" fill="#deff21"/><circle cx="720.5" cy="307.8" r="3.25" fill="#d8ff27"/><circle cx="723.4" cy="307.2" r="3.25" fill="#d2ff2d"/><circle cx="726.3" cy="306.7" r="3.25" fill="#bdff42"/><circle cx="729.2" cy="306.1" r="3.25" fill="#c7ff38"/><circle cx="732.1" cy="305.6" r="3.25" fill="#d3ff2c"/><circle cx="735.0" cy="305.1" r="3.25" fill="#cbff34"/><circle cx="737.9" cy="304.5" r="3.25" fill="#d5ff2a"/><circle cx="740.8" cy="304.0" r="3.25" fill="#aeff51"/><circle cx="743.7" cy="303.5" r="3.25" fill="#adff52"/><circle cx="746.6" cy="302.9" r="3.25" fill="#c4ff3b"/><circle cx="749.5" cy="302.4" r="3.25" fill="#c5ff3a"/><circle cx="701.6" cy="309.3" r="3.25" fill="#a2ff5d"/><circle cx="704.5" cy="308.8" r="3.25" fill="#a0ff5f"/><circle cx="707.4" cy="308.3" r="3.25" fill="#99ff66"/><circle cx="710.3" cy="307.7" r="3.25" fill="#a6ff59"/><circle cx="713.2" cy="307.2" r="3.25" fill="#abff54"/><circle cx="716.1" cy="306.7" r="3.25" fill="#ceff31"/><circle cx="719.0" cy="306.1" r="3.25" fill="#d5ff2a"/><circle cx="721.9" cy="305.6" r="3.25" fill="#d4ff2b"/><circle cx="724.8" cy="305.0" r="3.25" fill="#caff35"/><circle cx="727.7" cy="304.5" r="3.25" fill="#cfff30"/><circle cx="730.6" cy="304.0" r="3.25" fill="#c9ff36"/><circle cx="733.5" cy="303.4" r="3.25" fill="#c7ff38"/><circle cx="736.5" cy="302.9" r="3.25" fill="#d6ff29"/><circle cx="739.4" cy="302.4" r="3.25" fill="#c0ff3f"/><circle cx="742.3" cy="301.8" r="3.25" fill="#a3ff5c"/><circle cx="745.2" cy="301.3" r="3.25" fill="#a7ff58"/><circle cx="748.1" cy="300.7" r="3.25" fill="#b1ff4e"/><circle cx="691.4" cy="309.3" r="3.25" fill="#ffd500"/><circle cx="694.3" cy="308.8" r="3.25" fill="#4cffb3"/><circle cx="697.3" cy="308.2" r="3.25" fill="#53ffac"/><circle cx="700.2" cy="307.7" r="3.25" fill="#9aff65"/><circle cx="703.1" cy="307.2" r="3.25" fill="#91ff6e"/><circle cx="706.0" cy="306.6" r="3.25" fill="#8bff74"/><circle cx="708.9" cy="306.1" r="3.25" fill="#8fff70"/><circle cx="711.8" cy="305.6" r="3.25" fill="#93ff6c"/><circle cx="714.7" cy="305.0" r="3.25" fill="#aeff51"/><circle cx="717.6" cy="304.5" r="3.25" fill="#c3ff3c"/><circle cx="720.5" cy="303.9" r="3.25" fill="#beff41"/><circle cx="723.4" cy="303.4" r="3.25" fill="#bcff43"/><circle cx="726.3" cy="302.9" r="3.25" fill="#baff45"/><circle cx="729.2" cy="302.3" r="3.25" fill="#aaff55"/><circle cx="732.1" cy="301.8" r="3.25" fill="#aaff55"/><circle cx="735.0" cy="301.3" r="3.25" fill="#c0ff3f"/><circle cx="737.9" cy="300.7" r="3.25" fill="#c9ff36"/><circle cx="740.8" cy="300.2" r="3.25" fill="#b4ff4b"/><circle cx="743.7" cy="299.7" r="3.25" fill="#b4ff4b"/><circle cx="746.6" cy="299.1" r="3.25" fill="#b8ff47"/><circle cx="681.3" cy="309.3" r="3.25" fill="#56ffa9"/><circle cx="684.2" cy="308.8" r="3.25" fill="#4cffb3"/><circle cx="687.1" cy="308.2" r="3.25" fill="#4affb5"/><circle cx="690.0" cy="307.7" r="3.25" fill="#43ffbc"/><circle cx="692.9" cy="307.1" r="3.25" fill="#3cffc3"/><circle cx="695.8" cy="306.6" r="3.25" fill="#66ff99"/><circle cx="698.7" cy="306.1" r="3.25" fill="#6dff92"/><circle cx="701.6" cy="305.5" r="3.25" fill="#82ff7d"/><circle cx="704.5" cy="305.0" r="3.25" fill="#93ff6c"/><circle cx="707.4" cy="304.5" r="3.25" fill="#b3ff4c"/><circle cx="710.3" cy="303.9" r="3.25" fill="#9dff62"/><circle cx="713.2" cy="303.4" r="3.25" fill="#99ff66"/><circle cx="716.1" cy="302.9" r="3.25" fill="#b6ff49"/><circle cx="719.0" cy="302.3" r="3.25" fill="#b1ff4e"/><circle cx="721.9" cy="301.8" r="3.25" fill="#a1ff5e"/><circle cx="724.8" cy="301.2" r="3.25" fill="#a3ff5c"/><circle cx="727.7" cy="300.7" r="3.25" fill="#b0ff4f"/><circle cx="730.6" cy="300.2" r="3.25" fill="#cdff32"/><circle cx="733.5" cy="299.6" r="3.25" fill="#d8ff27"/><circle cx="736.5" cy="299.1" r="3.25" fill="#c9ff36"/><circle cx="739.4" cy="298.6" r="3.25" fill="#c8ff37"/><circle cx="742.3" cy="298.0" r="3.25" fill="#c6ff39"/><circle cx="745.2" cy="297.5" r="3.25" fill="#b4ff4b"/><circle cx="748.1" cy="296.9" r="3.25" fill="#a8ff57"/><circle cx="671.1" cy="309.3" r="3.25" fill="#ffa800"/><circle cx="674.0" cy="308.7" r="3.25" fill="#ff9f00"/><circle cx="676.9" cy="308.2" r="3.25" fill="#68ff97"/><circle cx="679.8" cy="307.7" r="3.25" fill="#5fffa0"/><circle cx="682.7" cy="307.1" r="3.25" fill="#61ff9e"/><circle cx="685.6" cy="306.6" r="3.25" fill="#61ff9e"/><circle cx="688.5" cy="306.1" r="3.25" fill="#54ffab"/><circle cx="691.4" cy="305.5" r="3.25" fill="#35ffca"/><circle cx="694.3" cy="305.0" r="3.25" fill="#ffcb00"/><circle cx="697.3" cy="304.4" r="3.25" fill="#69ff96"/><circle cx="700.2" cy="303.9" r="3.25" fill="#98ff67"/><circle cx="703.1" cy="303.4" r="3.25" fill="#93ff6c"/><circle cx="706.0" cy="302.8" r="3.25" fill="#b1ff4e"/><circle cx="708.9" cy="302.3" r="3.25" fill="#b4ff4b"/><circle cx="711.8" cy="301.8" r="3.25" fill="#a4ff5b"/><circle cx="714.7" cy="301.2" r="3.25" fill="#b0ff4f"/><circle cx="717.6" cy="300.7" r="3.25" fill="#c6ff39"/><circle cx="720.5" cy="300.1" r="3.25" fill="#c7ff38"/><circle cx="723.4" cy="299.6" r="3.25" fill="#caff35"/><circle cx="726.3" cy="299.1" r="3.25" fill="#c8ff37"/><circle cx="729.2" cy="298.5" r="3.25" fill="#cbff34"/><circle cx="732.1" cy="298.0" r="3.25" fill="#d8ff27"/><circle cx="735.0" cy="297.5" r="3.25" fill="#dbff24"/><circle cx="737.9" cy="296.9" r="3.25" fill="#daff25"/><circle cx="740.8" cy="296.4" r="3.25" fill="#c0ff3f"/><circle cx="743.7" cy="295.8" r="3.25" fill="#b2ff4d"/><circle cx="746.6" cy="295.3" r="3.25" fill="#cbff34"/><circle cx="661.0" cy="309.3" r="3.25" fill="#2bffd4"/><circle cx="663.9" cy="308.7" r="3.25" fill="#5dffa2"/><circle cx="666.8" cy="308.2" r="3.25" fill="#ffaa00"/><circle cx="669.7" cy="307.6" r="3.25" fill="#ffa700"/><circle cx="672.6" cy="307.1" r="3.25" fill="#ffb400"/><circle cx="675.5" cy="306.6" r="3.25" fill="#fff800"/><circle cx="678.4" cy="306.0" r="3.25" fill="#7cff83"/><circle cx="681.3" cy="305.5" r="3.25" fill="#6eff91"/><circle cx="684.2" cy="305.0" r="3.25" fill="#ffc900"/><circle cx="687.1" cy="304.4" r="3.25" fill="#3bffc4"/><circle cx="690.0" cy="303.9" r="3.25" fill="#41ffbe"/><circle cx="692.9" cy="303.3" r="3.25" fill="#4cffb3"/><circle cx="695.8" cy="302.8" r="3.25" fill="#5fffa0"/><circle cx="698.7" cy="302.3" r="3.25" fill="#63ff9c"/><circle cx="701.6" cy="301.7" r="3.25" fill="#86ff79"/><circle cx="704.5" cy="301.2" r="3.25" fill="#9dff62"/><circle cx="707.4" cy="300.7" r="3.25" fill="#baff45"/><circle cx="710.3" cy="300.1" r="3.25" fill="#b0ff4f"/><circle cx="713.2" cy="299.6" r="3.25" fill="#b5ff4a"/><circle cx="716.1" cy="299.0" r="3.25" fill="#d3ff2c"/><circle cx="719.0" cy="298.5" r="3.25" fill="#c3ff3c"/><circle cx="721.9" cy="298.0" r="3.25" fill="#baff45"/><circle cx="724.8" cy="297.4" r="3.25" fill="#b9ff46"/><circle cx="727.7" cy="296.9" r="3.25" fill="#bfff40"/><circle cx="730.6" cy="296.4" r="3.25" fill="#caff35"/><circle cx="733.5" cy="295.8" r="3.25" fill="#c0ff3f"/><circle cx="736.5" cy="295.3" r="3.25" fill="#b3ff4c"/><circle cx="739.4" cy="294.8" r="3.25" fill="#adff52"/><circle cx="742.3" cy="294.2" r="3.25" fill="#b0ff4f"/><circle cx="745.2" cy="293.7" r="3.25" fill="#c6ff39"/><circle cx="748.1" cy="293.1" r="3.25" fill="#c9ff36"/><circle cx="650.8" cy="309.2" r="3.25" fill="#0019ff"/><circle cx="653.7" cy="308.7" r="3.25" fill="#001dff"/><circle cx="656.6" cy="308.2" r="3.25" fill="#00f1ff"/><circle cx="659.5" cy="307.6" r="3.25" fill="#13ffec"/><circle cx="662.4" cy="307.1" r="3.25" fill="#006fff"/><circle cx="665.3" cy="306.5" r="3.25" fill="#ffec00"/><circle cx="668.2" cy="306.0" r="3.25" fill="#ffa200"/><circle cx="671.1" cy="305.5" r="3.25" fill="#ffbb00"/><circle cx="674.0" cy="304.9" r="3.25" fill="#ff9f00"/><circle cx="676.9" cy="304.4" r="3.25" fill="#7eff81"/><circle cx="679.8" cy="303.9" r="3.25" fill="#5effa1"/><circle cx="682.7" cy="303.3" r="3.25" fill="#4bffb4"/><circle cx="685.6" cy="302.8" r="3.25" fill="#44ffbb"/><circle cx="688.5" cy="302.2" r="3.25" fill="#3cffc3"/><circle cx="691.4" cy="301.7" r="3.25" fill="#2dffd2"/><circle cx="694.3" cy="301.2" r="3.25" fill="#4affb5"/><circle cx="697.3" cy="300.6" r="3.25" fill="#63ff9c"/><circle cx="700.2" cy="300.1" r="3.25" fill="#99ff66"/><circle cx="703.1" cy="299.6" r="3.25" fill="#a0ff5f"/><circle cx="706.0" cy="299.0" r="3.25" fill="#b2ff4d"/><circle cx="708.9" cy="298.5" r="3.25" fill="#b2ff4d"/><circle cx="711.8" cy="298.0" r="3.25" fill="#b1ff4e"/><circle cx="714.7" cy="297.4" r="3.25" fill="#aaff55"/><circle cx="717.6" cy="296.9" r="3.25" fill="#a4ff5b"/><circle cx="720.5" cy="296.3" r="3.25" fill="#baff45"/><circle cx="723.4" cy="295.8" r="3.25" fill="#c5ff3a"/><circle cx="726.3" cy="295.3" r="3.25" fill="#d7ff28"/><circle cx="729.2" cy="294.7" r="3.25" fill="#cfff30"/><circle cx="732.1" cy="294.2" r="3.25" fill="#c2ff3d"/><circle cx="735.0" cy="293.7" r="3.25" fill="#c7ff38"/><circle cx="737.9" cy="293.1" r="3.25" fill="#cbff34"/><circle cx="740.8" cy="292.6" r="3.25" fill="#cbff34"/><circle cx="743.7" cy="292.0" r="3.25" fill="#cbff34"/><circle cx="746.6" cy="291.5" r="3.25" fill="#c1ff3e"/><circle cx="640.6" cy="309.2" r="3.25" fill="#00b0ff"/><circle cx="643.5" cy="308.7" r="3.25" fill="#00b3ff"/><circle cx="646.4" cy="308.1" r="3.25" fill="#00c4ff"/><circle cx="649.3" cy="307.6" r="3.25" fill="#00dbff"/><circle cx="652.2" cy="307.1" r="3.25" fill="#00f0ff"/><circle cx="655.1" cy="306.5" r="3.25" fill="#00f4ff"/><circle cx="658.1" cy="306.0" r="3.25" fill="#01fffe"/><circle cx="661.0" cy="305.4" r="3.25" fill="#2fffd0"/><circle cx="663.9" cy="304.9" r="3.25" fill="#66ff99"/><circle cx="666.8" cy="304.4" r="3.25" fill="#ffa500"/><circle cx="669.7" cy="303.8" r="3.25" fill="#ff9e00"/><circle cx="672.6" cy="303.3" r="3.25" fill="#ff9d00"/><circle cx="675.5" cy="302.8" r="3.25" fill="#fff100"/><circle cx="678.4" cy="302.2" r="3.25" fill="#78ff87"/><circle cx="681.3" cy="301.7" r="3.25" fill="#73ff8c"/><circle cx="684.2" cy="301.2" r="3.25" fill="#ffc000"/><circle cx="687.1" cy="300.6" r="3.25" fill="#4bffb4"/><circle cx="690.0" cy="300.1" r="3.25" fill="#59ffa6"/><circle cx="692.9" cy="299.5" r="3.25" fill="#6fff90"/><circle cx="695.8" cy="299.0" r="3.25" fill="#5affa5"/><circle cx="698.7" cy="298.5" r="3.25" fill="#4fffb0"/><circle cx="701.6" cy="297.9" r="3.25" fill="#51ffae"/><circle cx="704.5" cy="297.4" r="3.25" fill="#5affa5"/><circle cx="707.4" cy="296.9" r="3.25" fill="#67ff98"/><circle cx="710.3" cy="296.3" r="3.25" fill="#70ff8f"/><circle cx="713.2" cy="295.8" r="3.25" fill="#7cff83"/><circle cx="716.1" cy="295.2" r="3.25" fill="#91ff6e"/><circle cx="719.0" cy="294.7" r="3.25" fill="#91ff6e"/><circle cx="721.9" cy="294.2" r="3.25" fill="#90ff6f"/><circle cx="724.8" cy="293.6" r="3.25" fill="#98ff67"/><circle cx="727.7" cy="293.1" r="3.25" fill="#98ff67"/><circle cx="730.6" cy="292.6" r="3.25" fill="#94ff6b"/><circle cx="733.5" cy="292.0" r="3.25" fill="#8eff71"/><circle cx="736.5" cy="291.5" r="3.25" fill="#8dff72"/><circle cx="739.4" cy="290.9" r="3.25" fill="#8fff70"/><circle cx="742.3" cy="290.4" r="3.25" fill="#92ff6d"/><circle cx="745.2" cy="289.9" r="3.25" fill="#80ff7f"/><circle cx="748.1" cy="289.3" r="3.25" fill="#6aff95"/><circle cx="630.5" cy="309.2" r="3.25" fill="#0045ff"/><circle cx="633.4" cy="308.6" r="3.25" fill="#0063ff"/><circle cx="636.3" cy="308.1" r="3.25" fill="#00aaff"/><circle cx="639.2" cy="307.6" r="3.25" fill="#00b5ff"/><circle cx="642.1" cy="307.0" r="3.25" fill="#00acff"/><circle cx="645.0" cy="306.5" r="3.25" fill="#00d8ff"/><circle cx="647.9" cy="306.0" r="3.25" fill="#00fcff"/><circle cx="650.8" cy="305.4" r="3.25" fill="#00fbff"/><circle cx="653.7" cy="304.9" r="3.25" fill="#0039ff"/><circle cx="656.6" cy="304.4" r="3.25" fill="#00fbff"/><circle cx="659.5" cy="303.8" r="3.25" fill="#004cff"/><circle cx="662.4" cy="303.3" r="3.25" fill="#006dff"/><circle cx="665.3" cy="302.7" r="3.25" fill="#fffe00"/><circle cx="668.2" cy="302.2" r="3.25" fill="#ffc000"/><circle cx="671.1" cy="301.7" r="3.25" fill="#ffc200"/><circle cx="674.0" cy="301.1" r="3.25" fill="#ffaf00"/><circle cx="676.9" cy="300.6" r="3.25" fill="#64ff9b"/><circle cx="679.8" cy="300.1" r="3.25" fill="#52ffad"/><circle cx="682.7" cy="299.5" r="3.25" fill="#4affb5"/><circle cx="685.6" cy="299.0" r="3.25" fill="#52ffad"/><circle cx="688.5" cy="298.4" r="3.25" fill="#4dffb2"/><circle cx="691.4" cy="297.9" r="3.25" fill="#52ffad"/><circle cx="694.3" cy="297.4" r="3.25" fill="#45ffba"/><circle cx="697.3" cy="296.8" r="3.25" fill="#3cffc3"/><circle cx="700.2" cy="296.3" r="3.25" fill="#4bffb4"/><circle cx="703.1" cy="295.8" r="3.25" fill="#4fffb0"/><circle cx="706.0" cy="295.2" r="3.25" fill="#5bffa4"/><circle cx="708.9" cy="294.7" r="3.25" fill="#66ff99"/><circle cx="711.8" cy="294.1" r="3.25" fill="#82ff7d"/><circle cx="714.7" cy="293.6" r="3.25" fill="#8aff75"/><circle cx="717.6" cy="293.1" r="3.25" fill="#80ff7f"/><circle cx="720.5" cy="292.5" r="3.25" fill="#91ff6e"/><circle cx="723.4" cy="292.0" r="3.25" fill="#8dff72"/><circle cx="726.3" cy="291.5" r="3.25" fill="#6fff90"/><circle cx="729.2" cy="290.9" r="3.25" fill="#69ff96"/><circle cx="732.1" cy="290.4" r="3.25" fill="#7dff82"/><circle cx="735.0" cy="289.9" r="3.25" fill="#7dff82"/><circle cx="737.9" cy="289.3" r="3.25" fill="#7cff83"/><circle cx="740.8" cy="288.8" r="3.25" fill="#8dff72"/><circle cx="743.7" cy="288.2" r="3.25" fill="#88ff77"/><circle cx="746.6" cy="287.7" r="3.25" fill="#6aff95"/><circle cx="620.3" cy="309.2" r="3.25" fill="#0000c8"/><circle cx="623.2" cy="308.6" r="3.25" fill="#0000de"/><circle cx="626.1" cy="308.1" r="3.25" fill="#0010ff"/><circle cx="629.0" cy="307.6" r="3.25" fill="#002cff"/><circle cx="631.9" cy="307.0" r="3.25" fill="#0047ff"/><circle cx="634.8" cy="306.5" r="3.25" fill="#0074ff"/><circle cx="637.7" cy="305.9" r="3.25" fill="#009cff"/><circle cx="640.6" cy="305.4" r="3.25" fill="#0000e2"/><circle cx="643.5" cy="304.9" r="3.25" fill="#00ccff"/><circle cx="646.4" cy="304.3" r="3.25" fill="#00e4ff"/><circle cx="649.3" cy="303.8" r="3.25" fill="#00f7ff"/><circle cx="652.2" cy="303.3" r="3.25" fill="#09fff6"/><circle cx="655.1" cy="302.7" r="3.25" fill="#04fffb"/><circle cx="658.1" cy="302.2" r="3.25" fill="#1dffe2"/><circle cx="661.0" cy="301.6" r="3.25" fill="#32ffcd"/><circle cx="663.9" cy="301.1" r="3.25" fill="#62ff9d"/><circle cx="666.8" cy="300.6" r="3.25" fill="#ffff00"/><circle cx="669.7" cy="300.0" r="3.25" fill="#fff700"/><circle cx="672.6" cy="299.5" r="3.25" fill="#ffeb00"/><circle cx="675.5" cy="299.0" r="3.25" fill="#b6ff49"/><circle cx="678.4" cy="298.4" r="3.25" fill="#1effe1"/><circle cx="681.3" cy="297.9" r="3.25" fill="#2dffd2"/><circle cx="684.2" cy="297.3" r="3.25" fill="#22ffdd"/><circle cx="687.1" cy="296.8" r="3.25" fill="#04fffb"/><circle cx="690.0" cy="296.3" r="3.25" fill="#04fffb"/><circle cx="692.9" cy="295.7" r="3.25" fill="#01fffe"/><circle cx="695.8" cy="295.2" r="3.25" fill="#16ffe9"/><circle cx="698.7" cy="294.7" r="3.25" fill="#1affe5"/><circle cx="701.6" cy="294.1" r="3.25" fill="#17ffe8"/><circle cx="704.5" cy="293.6" r="3.25" fill="#1affe5"/><circle cx="707.4" cy="293.1" r="3.25" fill="#11ffee"/><circle cx="710.3" cy="292.5" r="3.25" fill="#3fffc0"/><circle cx="713.2" cy="292.0" r="3.25" fill="#4affb5"/><circle cx="716.1" cy="291.4" r="3.25" fill="#35ffca"/><circle cx="719.0" cy="290.9" r="3.25" fill="#33ffcc"/><circle cx="721.9" cy="290.4" r="3.25" fill="#3cffc3"/><circle cx="724.8" cy="289.8" r="3.25" fill="#31ffce"/><circle cx="727.7" cy="289.3" r="3.25" fill="#33ffcc"/><circle cx="730.6" cy="288.8" r="3.25" fill="#27ffd8"/><circle cx="733.5" cy="288.2" r="3.25" fill="#24ffdb"/><circle cx="736.5" cy="287.7" r="3.25" fill="#3dffc2"/><circle cx="739.4" cy="287.1" r="3.25" fill="#51ffae"/><circle cx="742.3" cy="286.6" r="3.25" fill="#5fffa0"/><circle cx="745.2" cy="286.1" r="3.25" fill="#50ffaf"/><circle cx="618.9" cy="307.5" r="3.25" fill="#0000cc"/><circle cx="621.8" cy="307.0" r="3.25" fill="#000080"/><circle cx="624.7" cy="306.5" r="3.25" fill="#000080"/><circle cx="627.6" cy="305.9" r="3.25" fill="#000eff"/><circle cx="630.5" cy="305.4" r="3.25" fill="#003bff"/><circle cx="633.4" cy="304.8" r="3.25" fill="#0065ff"/><circle cx="636.3" cy="304.3" r="3.25" fill="#0085ff"/><circle cx="639.2" cy="303.8" r="3.25" fill="#00aeff"/><circle cx="642.1" cy="303.2" r="3.25" fill="#00d1ff"/><circle cx="645.0" cy="302.7" r="3.25" fill="#00dfff"/><circle cx="647.9" cy="302.2" r="3.25" fill="#00eaff"/><circle cx="650.8" cy="301.6" r="3.25" fill="#00e6ff"/><circle cx="653.7" cy="301.1" r="3.25" fill="#00f0ff"/><circle cx="656.6" cy="300.5" r="3.25" fill="#09fff6"/><circle cx="659.5" cy="300.0" r="3.25" fill="#2effd1"/><circle cx="662.4" cy="299.5" r="3.25" fill="#62ff9d"/><circle cx="665.3" cy="298.9" r="3.25" fill="#c4ff3b"/><circle cx="668.2" cy="298.4" r="3.25" fill="#f8ff07"/><circle cx="671.1" cy="297.9" r="3.25" fill="#fdff02"/><circle cx="674.0" cy="297.3" r="3.25" fill="#ffef00"/><circle cx="676.9" cy="296.8" r="3.25" fill="#33ffcc"/><circle cx="679.8" cy="296.3" r="3.25" fill="#35ffca"/><circle cx="682.7" cy="295.7" r="3.25" fill="#2effd1"/><circle cx="685.6" cy="295.2" r="3.25" fill="#16ffe9"/><circle cx="688.5" cy="294.6" r="3.25" fill="#09fff6"/><circle cx="691.4" cy="294.1" r="3.25" fill="#0afff5"/><circle cx="694.3" cy="293.6" r="3.25" fill="#f8ff07"/><circle cx="697.3" cy="293.0" r="3.25" fill="#12ffed"/><circle cx="700.2" cy="292.5" r="3.25" fill="#1effe1"/><circle cx="703.1" cy="292.0" r="3.25" fill="#24ffdb"/><circle cx="706.0" cy="291.4" r="3.25" fill="#39ffc6"/><circle cx="708.9" cy="290.9" r="3.25" fill="#48ffb7"/><circle cx="711.8" cy="290.3" r="3.25" fill="#34ffcb"/><circle cx="714.7" cy="289.8" r="3.25" fill="#31ffce"/><circle cx="717.6" cy="289.3" r="3.25" fill="#3bffc4"/><circle cx="720.5" cy="288.7" r="3.25" fill="#38ffc7"/><circle cx="723.4" cy="288.2" r="3.25" fill="#37ffc8"/><circle cx="726.3" cy="287.7" r="3.25" fill="#3cffc3"/><circle cx="729.2" cy="287.1" r="3.25" fill="#39ffc6"/><circle cx="732.1" cy="286.6" r="3.25" fill="#40ffbf"/><circle cx="735.0" cy="286.0" r="3.25" fill="#4dffb2"/><circle cx="737.9" cy="285.5" r="3.25" fill="#58ffa7"/><circle cx="740.8" cy="285.0" r="3.25" fill="#54ffab"/><circle cx="743.7" cy="284.4" r="3.25" fill="#4fffb0"/><circle cx="746.6" cy="283.9" r="3.25" fill="#5cffa3"/><circle cx="617.4" cy="305.9" r="3.25" fill="#0000ef"/><circle cx="620.3" cy="305.4" r="3.25" fill="#0000e1"/><circle cx="623.2" cy="304.8" r="3.25" fill="#0000e3"/><circle cx="626.1" cy="304.3" r="3.25" fill="#0028ff"/><circle cx="629.0" cy="303.7" r="3.25" fill="#004cff"/><circle cx="631.9" cy="303.2" r="3.25" fill="#0060ff"/><circle cx="634.8" cy="302.7" r="3.25" fill="#008aff"/><circle cx="637.7" cy="302.1" r="3.25" fill="#00bcff"/><circle cx="640.6" cy="301.6" r="3.25" fill="#0008ff"/><circle cx="643.5" cy="301.1" r="3.25" fill="#00dbff"/><circle cx="646.4" cy="300.5" r="3.25" fill="#00edff"/><circle cx="649.3" cy="300.0" r="3.25" fill="#00eaff"/><circle cx="652.2" cy="299.5" r="3.25" fill="#00d3ff"/><circle cx="655.1" cy="298.9" r="3.25" fill="#00f1ff"/><circle cx="658.1" cy="298.4" r="3.25" fill="#0dfff2"/><circle cx="661.0" cy="297.8" r="3.25" fill="#34ffcb"/><circle cx="663.9" cy="297.3" r="3.25" fill="#59ffa6"/><circle cx="666.8" cy="296.8" r="3.25" fill="#f1ff0e"/><circle cx="669.7" cy="296.2" r="3.25" fill="#ffff00"/><circle cx="672.6" cy="295.7" r="3.25" fill="#ffee00"/><circle cx="675.5" cy="295.2" r="3.25" fill="#d8ff27"/><circle cx="678.4" cy="294.6" r="3.25" fill="#3affc5"/><circle cx="681.3" cy="294.1" r="3.25" fill="#1affe5"/><circle cx="684.2" cy="293.5" r="3.25" fill="#07fff8"/><circle cx="687.1" cy="293.0" r="3.25" fill="#0efff1"/><circle cx="690.0" cy="292.5" r="3.25" fill="#19ffe6"/><circle cx="692.9" cy="291.9" r="3.25" fill="#2affd5"/><circle cx="695.8" cy="291.4" r="3.25" fill="#2bffd4"/><circle cx="698.7" cy="290.9" r="3.25" fill="#2fffd0"/><circle cx="701.6" cy="290.3" r="3.25" fill="#22ffdd"/><circle cx="704.5" cy="289.8" r="3.25" fill="#33ffcc"/><circle cx="707.4" cy="289.2" r="3.25" fill="#4dffb2"/><circle cx="710.3" cy="288.7" r="3.25" fill="#2affd5"/><circle cx="713.2" cy="288.2" r="3.25" fill="#22ffdd"/><circle cx="716.1" cy="287.6" r="3.25" fill="#39ffc6"/><circle cx="719.0" cy="287.1" r="3.25" fill="#3dffc2"/><circle cx="721.9" cy="286.6" r="3.25" fill="#5fffa0"/><circle cx="724.8" cy="286.0" r="3.25" fill="#4cffb3"/><circle cx="727.7" cy="285.5" r="3.25" fill="#3affc5"/><circle cx="730.6" cy="285.0" r="3.25" fill="#37ffc8"/><circle cx="733.5" cy="284.4" r="3.25" fill="#39ffc6"/><circle cx="736.5" cy="283.9" r="3.25" fill="#5cffa3"/><circle cx="739.4" cy="283.3" r="3.25" fill="#55ffaa"/><circle cx="742.3" cy="282.8" r="3.25" fill="#57ffa8"/><circle cx="745.2" cy="282.3" r="3.25" fill="#3dffc2"/><circle cx="618.9" cy="303.7" r="3.25" fill="#0000b5"/><circle cx="621.8" cy="303.2" r="3.25" fill="#0000c4"/><circle cx="624.7" cy="302.7" r="3.25" fill="#0000e1"/><circle cx="627.6" cy="302.1" r="3.25" fill="#0000f2"/><circle cx="630.5" cy="301.6" r="3.25" fill="#0008ff"/><circle cx="633.4" cy="301.0" r="3.25" fill="#008cff"/><circle cx="636.3" cy="300.5" r="3.25" fill="#00c4ff"/><circle cx="639.2" cy="300.0" r="3.25" fill="#00c4ff"/><circle cx="642.1" cy="299.4" r="3.25" fill="#00c0ff"/><circle cx="645.0" cy="298.9" r="3.25" fill="#00dbff"/><circle cx="647.9" cy="298.4" r="3.25" fill="#00d8ff"/><circle cx="650.8" cy="297.8" r="3.25" fill="#00d6ff"/><circle cx="653.7" cy="297.3" r="3.25" fill="#00e2ff"/><circle cx="656.6" cy="296.7" r="3.25" fill="#00e6ff"/><circle cx="659.5" cy="296.2" r="3.25" fill="#19ffe6"/><circle cx="662.4" cy="295.7" r="3.25" fill="#51ffae"/><circle cx="665.3" cy="295.1" r="3.25" fill="#8aff75"/><circle cx="668.2" cy="294.6" r="3.25" fill="#fffb00"/><circle cx="671.1" cy="294.1" r="3.25" fill="#fff200"/><circle cx="674.0" cy="293.5" r="3.25" fill="#bdff42"/><circle cx="676.9" cy="293.0" r="3.25" fill="#3fffc0"/><circle cx="679.8" cy="292.4" r="3.25" fill="#28ffd7"/><circle cx="682.7" cy="291.9" r="3.25" fill="#18ffe7"/><circle cx="685.6" cy="291.4" r="3.25" fill="#00a3ff"/><circle cx="688.5" cy="290.8" r="3.25" fill="#008dff"/><circle cx="691.4" cy="290.3" r="3.25" fill="#008cff"/><circle cx="694.3" cy="289.8" r="3.25" fill="#007aff"/><circle cx="697.3" cy="289.2" r="3.25" fill="#005cff"/><circle cx="700.2" cy="288.7" r="3.25" fill="#0063ff"/><circle cx="703.1" cy="288.2" r="3.25" fill="#00a4ff"/><circle cx="706.0" cy="287.6" r="3.25" fill="#00c9ff"/><circle cx="708.9" cy="287.1" r="3.25" fill="#0092ff"/><circle cx="711.8" cy="286.5" r="3.25" fill="#0095ff"/><circle cx="714.7" cy="286.0" r="3.25" fill="#0086ff"/><circle cx="717.6" cy="285.5" r="3.25" fill="#0081ff"/><circle cx="720.5" cy="284.9" r="3.25" fill="#0096ff"/><circle cx="723.4" cy="284.4" r="3.25" fill="#0091ff"/><circle cx="726.3" cy="283.9" r="3.25" fill="#0093ff"/><circle cx="729.2" cy="283.3" r="3.25" fill="#009fff"/><circle cx="732.1" cy="282.8" r="3.25" fill="#00b2ff"/><circle cx="735.0" cy="282.2" r="3.25" fill="#00b9ff"/><circle cx="737.9" cy="281.7" r="3.25" fill="#0097ff"/><circle cx="740.8" cy="281.2" r="3.25" fill="#0071ff"/><circle cx="743.7" cy="280.6" r="3.25" fill="#0072ff"/><circle cx="746.6" cy="280.1" r="3.25" fill="#0085ff"/><circle cx="617.4" cy="302.1" r="3.25" fill="#0000da"/><circle cx="620.3" cy="301.6" r="3.25" fill="#0000cf"/><circle cx="623.2" cy="301.0" r="3.25" fill="#0000ce"/><circle cx="626.1" cy="300.5" r="3.25" fill="#0000d9"/><circle cx="629.0" cy="299.9" r="3.25" fill="#0000db"/><circle cx="631.9" cy="299.4" r="3.25" fill="#0027ff"/><circle cx="634.8" cy="298.9" r="3.25" fill="#00abff"/><circle cx="637.7" cy="298.3" r="3.25" fill="#00bcff"/><circle cx="640.6" cy="297.8" r="3.25" fill="#00cdff"/><circle cx="643.5" cy="297.3" r="3.25" fill="#00d3ff"/><circle cx="646.4" cy="296.7" r="3.25" fill="#00bfff"/><circle cx="649.3" cy="296.2" r="3.25" fill="#00d1ff"/><circle cx="652.2" cy="295.6" r="3.25" fill="#00e6ff"/><circle cx="655.1" cy="295.1" r="3.25" fill="#00e4ff"/><circle cx="658.1" cy="294.6" r="3.25" fill="#00f8ff"/><circle cx="661.0" cy="294.0" r="3.25" fill="#3fffc0"/><circle cx="663.9" cy="293.5" r="3.25" fill="#7eff81"/><circle cx="666.8" cy="293.0" r="3.25" fill="#f7ff08"/><circle cx="669.7" cy="292.4" r="3.25" fill="#ffe500"/><circle cx="672.6" cy="291.9" r="3.25" fill="#ffec00"/><circle cx="675.5" cy="291.4" r="3.25" fill="#62ff9d"/><circle cx="678.4" cy="290.8" r="3.25" fill="#5dffa2"/><circle cx="681.3" cy="290.3" r="3.25" fill="#30ffcf"/><circle cx="684.2" cy="289.7" r="3.25" fill="#08fff7"/><circle cx="687.1" cy="289.2" r="3.25" fill="#008aff"/><circle cx="690.0" cy="288.7" r="3.25" fill="#007bff"/><circle cx="692.9" cy="288.1" r="3.25" fill="#006fff"/><circle cx="695.8" cy="287.6" r="3.25" fill="#0056ff"/><circle cx="698.7" cy="287.1" r="3.25" fill="#0049ff"/><circle cx="701.6" cy="286.5" r="3.25" fill="#0072ff"/><circle cx="704.5" cy="286.0" r="3.25" fill="#00bbff"/><circle cx="707.4" cy="285.4" r="3.25" fill="#00a6ff"/><circle cx="710.3" cy="284.9" r="3.25" fill="#0078ff"/><circle cx="713.2" cy="284.4" r="3.25" fill="#0072ff"/><circle cx="716.1" cy="283.8" r="3.25" fill="#0098ff"/><circle cx="719.0" cy="283.3" r="3.25" fill="#0095ff"/><circle cx="721.9" cy="282.8" r="3.25" fill="#009aff"/><circle cx="724.8" cy="282.2" r="3.25" fill="#00abff"/><circle cx="727.7" cy="281.7" r="3.25" fill="#00b7ff"/><circle cx="730.6" cy="281.1" r="3.25" fill="#00b4ff"/><circle cx="733.5" cy="280.6" r="3.25" fill="#00a1ff"/><circle cx="736.5" cy="280.1" r="3.25" fill="#0098ff"/><circle cx="739.4" cy="279.5" r="3.25" fill="#0067ff"/><circle cx="742.3" cy="279.0" r="3.25" fill="#0064ff"/><circle cx="745.2" cy="278.5" r="3.25" fill="#0079ff"/></g>
<text class="b t ls" x="661.6" y="76.6" text-anchor="middle">100<tspan class="d" dx="3.0" dy="-11.2">o</tspan><tspan dx="6.1" dy="11.2">W</tspan></text>
<text class="b t ls" x="726.4" y="76.6" text-anchor="middle">90<tspan class="d" dx="3.0" dy="-11.2">o</tspan><tspan dx="6.1" dy="11.2">W</tspan></text>
<text class="b t ls" x="790.2" y="76.6" text-anchor="middle">80<tspan class="d" dx="3.0" dy="-11.2">o</tspan><tspan dx="6.1" dy="11.2">W</tspan></text>
<text class="b t ls" x="853.6" y="76.6" text-anchor="middle">70<tspan class="d" dx="3.0" dy="-11.2">o</tspan><tspan dx="6.1" dy="11.2">W</tspan></text>
<text class="b t" x="606.8" y="112.7" text-anchor="end">48<tspan class="d" dx="2.3" dy="-11.2">o</tspan><tspan dx="4.6" dy="11.2">N</tspan></text>
<text class="b t" x="606.8" y="130.1" text-anchor="end">46<tspan class="d" dx="2.3" dy="-11.2">o</tspan><tspan dx="4.6" dy="11.2">N</tspan></text>
<text class="b t" x="606.8" y="147.7" text-anchor="end">44<tspan class="d" dx="2.3" dy="-11.2">o</tspan><tspan dx="4.6" dy="11.2">N</tspan></text>
<text class="b t" x="606.8" y="166.5" text-anchor="end">42<tspan class="d" dx="2.3" dy="-11.2">o</tspan><tspan dx="4.6" dy="11.2">N</tspan></text>
<text class="b t" x="606.8" y="182.6" text-anchor="end">40<tspan class="d" dx="2.3" dy="-11.2">o</tspan><tspan dx="4.6" dy="11.2">N</tspan></text>
<text class="b t" x="606.8" y="197.5" text-anchor="end">38<tspan class="d" dx="2.3" dy="-11.2">o</tspan><tspan dx="4.6" dy="11.2">N</tspan></text>
<text class="b t" x="606.8" y="214.6" text-anchor="end">36<tspan class="d" dx="2.3" dy="-11.2">o</tspan><tspan dx="4.6" dy="11.2">N</tspan></text>
<text class="b t" x="606.8" y="228.4" text-anchor="end">34<tspan class="d" dx="2.3" dy="-11.2">o</tspan><tspan dx="4.6" dy="11.2">N</tspan></text>
<text class="b t" x="606.8" y="245.4" text-anchor="end">32<tspan class="d" dx="2.3" dy="-11.2">o</tspan><tspan dx="4.6" dy="11.2">N</tspan></text>
<text class="b t" x="606.8" y="259.4" text-anchor="end">30<tspan class="d" dx="2.3" dy="-11.2">o</tspan><tspan dx="4.6" dy="11.2">N</tspan></text>
<text class="b t" x="606.8" y="272.4" text-anchor="end">28<tspan class="d" dx="2.3" dy="-11.2">o</tspan><tspan dx="4.6" dy="11.2">N</tspan></text>
<text class="b t" x="606.8" y="287.4" text-anchor="end">26<tspan class="d" dx="2.3" dy="-11.2">o</tspan><tspan dx="4.6" dy="11.2">N</tspan></text>
<text class="b t" x="606.8" y="301.5" text-anchor="end">24<tspan class="d" dx="2.3" dy="-11.2">o</tspan><tspan dx="4.6" dy="11.2">N</tspan></text>
<text class="b t" x="606.8" y="314.3" text-anchor="end">22<tspan class="d" dx="2.3" dy="-11.2">o</tspan><tspan dx="4.6" dy="11.2">N</tspan></text>
<text class="b p" x="728.0" y="341.1" text-anchor="middle">SAT+RAP 700 hPa Temp (K)</text>
<rect x="862.20" y="95.20" width="23.70" height="215.20" fill="url(#jet)" stroke="#262626" stroke-width="0.6"/>
<path d="M885.90 145.40h-2.4" stroke="#262626" stroke-width="0.7"/><text class="b c" x="894.2" y="153.4">284</text>
<path d="M885.90 199.40h-2.4" stroke="#262626" stroke-width="0.7"/><text class="b c" x="894.2" y="207.4">282</text>
<path d="M885.90 253.40h-2.4" stroke="#262626" stroke-width="0.7"/><text class="b c" x="894.2" y="261.4">280</text>
<path d="M885.90 307.30h-2.4" stroke="#262626" stroke-width="0.7"/><text class="b c" x="894.2" y="315.3">278</text>
</g>
<g>
<rect x="1037.30" y="95.45" width="235.10" height="214.45" fill="#fff" stroke="#000" stroke-width="1" shape-rendering="crispEdges"/>
<g clip-path="url(#cp2)"><use href="#usmap" transform="translate(1038.00 96.00) scale(0.063216 0.063183)"/></g>
<g><circle cx="1163.7" cy="309.9" r="3.25" fill="#00b6ff"/><circle cx="1166.6" cy="309.4" r="3.25" fill="#00cdff"/><circle cx="1169.5" cy="308.8" r="3.25" fill="#00d7ff"/><circle cx="1153.5" cy="309.9" r="3.25" fill="#00d6ff"/><circle cx="1156.4" cy="309.4" r="3.25" fill="#00c1ff"/><circle cx="1159.3" cy="308.8" r="3.25" fill="#00afff"/><circle cx="1162.2" cy="308.3" r="3.25" fill="#00c2ff"/><circle cx="1165.2" cy="307.7" r="3.25" fill="#00d3ff"/><circle cx="1168.1" cy="307.2" r="3.25" fill="#00d7ff"/><circle cx="1171.0" cy="306.7" r="3.25" fill="#00d4ff"/><circle cx="1143.3" cy="309.9" r="3.25" fill="#00b4ff"/><circle cx="1146.2" cy="309.3" r="3.25" fill="#00bcff"/><circle cx="1149.1" cy="308.8" r="3.25" fill="#00bfff"/><circle cx="1152.0" cy="308.3" r="3.25" fill="#00c7ff"/><circle cx="1154.9" cy="307.7" r="3.25" fill="#00c2ff"/><circle cx="1157.9" cy="307.2" r="3.25" fill="#00d2ff"/><circle cx="1160.8" cy="306.6" r="3.25" fill="#00dfff"/><circle cx="1163.7" cy="306.1" r="3.25" fill="#00e0ff"/><circle cx="1166.6" cy="305.6" r="3.25" fill="#00cdff"/><circle cx="1169.5" cy="305.0" r="3.25" fill="#00bdff"/><circle cx="1133.1" cy="309.9" r="3.25" fill="#00a1ff"/><circle cx="1136.0" cy="309.3" r="3.25" fill="#009fff"/><circle cx="1138.9" cy="308.8" r="3.25" fill="#0099ff"/><circle cx="1141.8" cy="308.2" r="3.25" fill="#00b5ff"/><circle cx="1144.7" cy="307.7" r="3.25" fill="#00bcff"/><circle cx="1147.7" cy="307.2" r="3.25" fill="#00abff"/><circle cx="1150.6" cy="306.6" r="3.25" fill="#00a8ff"/><circle cx="1153.5" cy="306.1" r="3.25" fill="#00b3ff"/><circle cx="1156.4" cy="305.5" r="3.25" fill="#00c8ff"/><circle cx="1159.3" cy="305.0" r="3.25" fill="#00cbff"/><circle cx="1162.2" cy="304.5" r="3.25" fill="#00c9ff"/><circle cx="1165.2" cy="303.9" r="3.25" fill="#00c9ff"/><circle cx="1168.1" cy="303.4" r="3.25" fill="#00c6ff"/><circle cx="1171.0" cy="302.8" r="3.25" fill="#00dfff"/><circle cx="1122.9" cy="309.8" r="3.25" fill="#00c7ff"/><circle cx="1125.8" cy="309.3" r="3.25" fill="#00cdff"/><circle cx="1128.7" cy="308.8" r="3.25" fill="#00d9ff"/><circle cx="1131.6" cy="308.2" r="3.25" fill="#00adff"/><circle cx="1134.5" cy="307.7" r="3.25" fill="#00a2ff"/><circle cx="1137.5" cy="307.1" r="3.25" fill="#00c2ff"/><circle cx="1140.4" cy="306.6" r="3.25" fill="#00cbff"/><circle cx="1143.3" cy="306.1" r="3.25" fill="#00c0ff"/><circle cx="1146.2" cy="305.5" r="3.25" fill="#00b4ff"/><circle cx="1149.1" cy="305.0" r="3.25" fill="#00a6ff"/><circle cx="1152.0" cy="304.4" r="3.25" fill="#00bcff"/><circle cx="1154.9" cy="303.9" r="3.25" fill="#00c2ff"/><circle cx="1157.9" cy="303.4" r="3.25" fill="#00beff"/><circle cx="1160.8" cy="302.8" r="3.25" fill="#00c8ff"/><circle cx="1163.7" cy="302.3" r="3.25" fill="#00e3ff"/><circle cx="1166.6" cy="301.7" r="3.25" fill="#00deff"/><circle cx="1169.5" cy="301.2" r="3.25" fill="#00dbff"/><circle cx="1112.7" cy="309.8" r="3.25" fill="#c9ff36"/><circle cx="1115.6" cy="309.3" r="3.25" fill="#c4ff3b"/><circle cx="1118.5" cy="308.7" r="3.25" fill="#15ffea"/><circle cx="1121.4" cy="308.2" r="3.25" fill="#00dbff"/><circle cx="1124.3" cy="307.7" r="3.25" fill="#00d6ff"/><circle cx="1127.2" cy="307.1" r="3.25" fill="#00b3ff"/><circle cx="1130.2" cy="306.6" r="3.25" fill="#009bff"/><circle cx="1133.1" cy="306.0" r="3.25" fill="#00a2ff"/><circle cx="1136.0" cy="305.5" r="3.25" fill="#00b8ff"/><circle cx="1138.9" cy="305.0" r="3.25" fill="#00b8ff"/><circle cx="1141.8" cy="304.4" r="3.25" fill="#00c6ff"/><circle cx="1144.7" cy="303.9" r="3.25" fill="#00c4ff"/><circle cx="1147.7" cy="303.3" r="3.25" fill="#00a8ff"/><circle cx="1150.6" cy="302.8" r="3.25" fill="#00aaff"/><circle cx="1153.5" cy="302.3" r="3.25" fill="#00acff"/><circle cx="1156.4" cy="301.7" r="3.25" fill="#00b4ff"/><circle cx="1159.3" cy="301.2" r="3.25" fill="#00c0ff"/><circle cx="1162.2" cy="300.6" r="3.25" fill="#00c4ff"/><circle cx="1165.2" cy="300.1" r="3.25" fill="#00c0ff"/><circle cx="1168.1" cy="299.5" r="3.25" fill="#00ceff"/><circle cx="1102.5" cy="309.8" r="3.25" fill="#82ff7d"/><circle cx="1105.4" cy="309.3" r="3.25" fill="#b1ff4e"/><circle cx="1108.3" cy="308.7" r="3.25" fill="#97ff68"/><circle cx="1111.2" cy="308.2" r="3.25" fill="#b4ff4b"/><circle cx="1114.1" cy="307.6" r="3.25" fill="#b9ff46"/><circle cx="1117.0" cy="307.1" r="3.25" fill="#62ff9d"/><circle cx="1120.0" cy="306.6" r="3.25" fill="#00d1ff"/><circle cx="1122.9" cy="306.0" r="3.25" fill="#00e7ff"/><circle cx="1125.8" cy="305.5" r="3.25" fill="#00ceff"/><circle cx="1128.7" cy="304.9" r="3.25" fill="#00c3ff"/><circle cx="1131.6" cy="304.4" r="3.25" fill="#00c1ff"/><circle cx="1134.5" cy="303.9" r="3.25" fill="#00c0ff"/><circle cx="1137.5" cy="303.3" r="3.25" fill="#00a9ff"/><circle cx="1140.4" cy="302.8" r="3.25" fill="#00a1ff"/><circle cx="1143.3" cy="302.2" r="3.25" fill="#00a2ff"/><circle cx="1146.2" cy="301.7" r="3.25" fill="#00a8ff"/><circle cx="1149.1" cy="301.1" r="3.25" fill="#00b8ff"/><circle cx="1152.0" cy="300.6" r="3.25" fill="#00c7ff"/><circle cx="1154.9" cy="300.1" r="3.25" fill="#00d0ff"/><circle cx="1157.9" cy="299.5" r="3.25" fill="#00c8ff"/><circle cx="1160.8" cy="299.0" r="3.25" fill="#00bfff"/><circle cx="1163.7" cy="298.4" r="3.25" fill="#00c0ff"/><circle cx="1166.6" cy="297.9" r="3.25" fill="#00b7ff"/><circle cx="1169.5" cy="297.4" r="3.25" fill="#00b5ff"/><circle cx="1092.3" cy="309.8" r="3.25" fill="#37ffc8"/><circle cx="1095.2" cy="309.2" r="3.25" fill="#46ffb9"/><circle cx="1098.1" cy="308.7" r="3.25" fill="#4effb1"/><circle cx="1101.0" cy="308.2" r="3.25" fill="#6eff91"/><circle cx="1103.9" cy="307.6" r="3.25" fill="#83ff7c"/><circle cx="1106.8" cy="307.1" r="3.25" fill="#b2ff4d"/><circle cx="1109.7" cy="306.5" r="3.25" fill="#b8ff47"/><circle cx="1112.7" cy="306.0" r="3.25" fill="#aaff55"/><circle cx="1115.6" cy="305.4" r="3.25" fill="#adff52"/><circle cx="1118.5" cy="304.9" r="3.25" fill="#0efff1"/><circle cx="1121.4" cy="304.4" r="3.25" fill="#00e5ff"/><circle cx="1124.3" cy="303.8" r="3.25" fill="#00dbff"/><circle cx="1127.2" cy="303.3" r="3.25" fill="#00d5ff"/><circle cx="1130.2" cy="302.7" r="3.25" fill="#00ceff"/><circle cx="1133.1" cy="302.2" r="3.25" fill="#00c2ff"/><circle cx="1136.0" cy="301.7" r="3.25" fill="#00aeff"/><circle cx="1138.9" cy="301.1" r="3.25" fill="#009cff"/><circle cx="1141.8" cy="300.6" r="3.25" fill="#00a9ff"/><circle cx="1144.7" cy="300.0" r="3.25" fill="#00b4ff"/><circle cx="1147.7" cy="299.5" r="3.25" fill="#00caff"/><circle cx="1150.6" cy="299.0" r="3.25" fill="#00c8ff"/><circle cx="1153.5" cy="298.4" r="3.25" fill="#00bcff"/><circle cx="1156.4" cy="297.9" r="3.25" fill="#00b2ff"/><circle cx="1159.3" cy="297.3" r="3.25" fill="#00b2ff"/><circle cx="1162.2" cy="296.8" r="3.25" fill="#00c7ff"/><circle cx="1165.2" cy="296.3" r="3.25" fill="#00ceff"/><circle cx="1168.1" cy="295.7" r="3.25" fill="#00bdff"/><circle cx="1082.0" cy="309.8" r="3.25" fill="#00abff"/><circle cx="1085.0" cy="309.2" r="3.25" fill="#00d6ff"/><circle cx="1087.9" cy="308.7" r="3.25" fill="#00f8ff"/><circle cx="1090.8" cy="308.1" r="3.25" fill="#24ffdb"/><circle cx="1093.7" cy="307.6" r="3.25" fill="#2fffd0"/><circle cx="1096.6" cy="307.0" r="3.25" fill="#54ffab"/><circle cx="1099.5" cy="306.5" r="3.25" fill="#6eff91"/><circle cx="1102.5" cy="306.0" r="3.25" fill="#6fff90"/><circle cx="1105.4" cy="305.4" r="3.25" fill="#aaff55"/><circle cx="1108.3" cy="304.9" r="3.25" fill="#a4ff5b"/><circle cx="1111.2" cy="304.3" r="3.25" fill="#b1ff4e"/><circle cx="1114.1" cy="303.8" r="3.25" fill="#baff45"/><circle cx="1117.0" cy="303.3" r="3.25" fill="#75ff8a"/><circle cx="1120.0" cy="302.7" r="3.25" fill="#00e2ff"/><circle cx="1122.9" cy="302.2" r="3.25" fill="#00ddff"/><circle cx="1125.8" cy="301.6" r="3.25" fill="#00daff"/><circle cx="1128.7" cy="301.1" r="3.25" fill="#00d4ff"/><circle cx="1131.6" cy="300.6" r="3.25" fill="#00c0ff"/><circle cx="1134.5" cy="300.0" r="3.25" fill="#00b9ff"/><circle cx="1137.5" cy="299.5" r="3.25" fill="#00a8ff"/><circle cx="1140.4" cy="298.9" r="3.25" fill="#00b5ff"/><circle cx="1143.3" cy="298.4" r="3.25" fill="#00c3ff"/><circle cx="1146.2" cy="297.9" r="3.25" fill="#00c7ff"/><circle cx="1149.1" cy="297.3" r="3.25" fill="#00c3ff"/><circle cx="1152.0" cy="296.8" r="3.25" fill="#00bbff"/><circle cx="1154.9" cy="296.2" r="3.25" fill="#00c1ff"/><circle cx="1157.9" cy="295.7" r="3.25" fill="#00d2ff"/><circle cx="1160.8" cy="295.2" r="3.25" fill="#00d6ff"/><circle cx="1163.7" cy="294.6" r="3.25" fill="#00deff"/><circle cx="1166.6" cy="294.1" r="3.25" fill="#00d2ff"/><circle cx="1169.5" cy="293.5" r="3.25" fill="#00cfff"/><circle cx="1071.8" cy="309.7" r="3.25" fill="#0000ef"/><circle cx="1074.8" cy="309.2" r="3.25" fill="#0000f7"/><circle cx="1077.7" cy="308.6" r="3.25" fill="#0000ee"/><circle cx="1080.6" cy="308.1" r="3.25" fill="#0097ff"/><circle cx="1083.5" cy="307.6" r="3.25" fill="#00c6ff"/><circle cx="1086.4" cy="307.0" r="3.25" fill="#00fdff"/><circle cx="1089.3" cy="306.5" r="3.25" fill="#27ffd8"/><circle cx="1092.3" cy="305.9" r="3.25" fill="#22ffdd"/><circle cx="1095.2" cy="305.4" r="3.25" fill="#3cffc3"/><circle cx="1098.1" cy="304.9" r="3.25" fill="#52ffad"/><circle cx="1101.0" cy="304.3" r="3.25" fill="#64ff9b"/><circle cx="1103.9" cy="303.8" r="3.25" fill="#79ff86"/><circle cx="1106.8" cy="303.2" r="3.25" fill="#9eff61"/><circle cx="1109.7" cy="302.7" r="3.25" fill="#a0ff5f"/><circle cx="1112.7" cy="302.2" r="3.25" fill="#9bff64"/><circle cx="1115.6" cy="301.6" r="3.25" fill="#a4ff5b"/><circle cx="1118.5" cy="301.1" r="3.25" fill="#00fbff"/><circle cx="1121.4" cy="300.5" r="3.25" fill="#00daff"/><circle cx="1124.3" cy="300.0" r="3.25" fill="#00deff"/><circle cx="1127.2" cy="299.5" r="3.25" fill="#00d0ff"/><circle cx="1130.2" cy="298.9" r="3.25" fill="#00baff"/><circle cx="1133.1" cy="298.4" r="3.25" fill="#00b4ff"/><circle cx="1136.0" cy="297.8" r="3.25" fill="#00beff"/><circle cx="1138.9" cy="297.3" r="3.25" fill="#00caff"/><circle cx="1141.8" cy="296.8" r="3.25" fill="#00bcff"/><circle cx="1144.7" cy="296.2" r="3.25" fill="#00aaff"/><circle cx="1147.7" cy="295.7" r="3.25" fill="#00b5ff"/><circle cx="1150.6" cy="295.1" r="3.25" fill="#00baff"/><circle cx="1153.5" cy="294.6" r="3.25" fill="#00b9ff"/><circle cx="1156.4" cy="294.1" r="3.25" fill="#00bcff"/><circle cx="1159.3" cy="293.5" r="3.25" fill="#00c2ff"/><circle cx="1162.2" cy="293.0" r="3.25" fill="#00dbff"/><circle cx="1165.2" cy="292.4" r="3.25" fill="#00d5ff"/><circle cx="1168.1" cy="291.9" r="3.25" fill="#00e0ff"/><circle cx="1061.6" cy="309.7" r="3.25" fill="#002fff"/><circle cx="1064.5" cy="309.2" r="3.25" fill="#003fff"/><circle cx="1067.5" cy="308.6" r="3.25" fill="#005fff"/><circle cx="1070.4" cy="308.1" r="3.25" fill="#0062ff"/><circle cx="1073.3" cy="307.5" r="3.25" fill="#0000f0"/><circle cx="1076.2" cy="307.0" r="3.25" fill="#0000f3"/><circle cx="1079.1" cy="306.5" r="3.25" fill="#0000f6"/><circle cx="1082.0" cy="305.9" r="3.25" fill="#0000db"/><circle cx="1085.0" cy="305.4" r="3.25" fill="#0000d5"/><circle cx="1087.9" cy="304.8" r="3.25" fill="#00f6ff"/><circle cx="1090.8" cy="304.3" r="3.25" fill="#1bffe4"/><circle cx="1093.7" cy="303.8" r="3.25" fill="#3cffc3"/><circle cx="1096.6" cy="303.2" r="3.25" fill="#4effb1"/><circle cx="1099.5" cy="302.7" r="3.25" fill="#59ffa6"/><circle cx="1102.5" cy="302.1" r="3.25" fill="#56ffa9"/><circle cx="1105.4" cy="301.6" r="3.25" fill="#99ff66"/><circle cx="1108.3" cy="301.1" r="3.25" fill="#b5ff4a"/><circle cx="1111.2" cy="300.5" r="3.25" fill="#c1ff3e"/><circle cx="1114.1" cy="300.0" r="3.25" fill="#c7ff38"/><circle cx="1117.0" cy="299.4" r="3.25" fill="#5fffa0"/><circle cx="1120.0" cy="298.9" r="3.25" fill="#00caff"/><circle cx="1122.9" cy="298.4" r="3.25" fill="#00e3ff"/><circle cx="1125.8" cy="297.8" r="3.25" fill="#00cbff"/><circle cx="1128.7" cy="297.3" r="3.25" fill="#00adff"/><circle cx="1131.6" cy="296.7" r="3.25" fill="#00aeff"/><circle cx="1134.5" cy="296.2" r="3.25" fill="#00b3ff"/><circle cx="1137.5" cy="295.7" r="3.25" fill="#00bfff"/><circle cx="1140.4" cy="295.1" r="3.25" fill="#00b8ff"/><circle cx="1143.3" cy="294.6" r="3.25" fill="#00a6ff"/><circle cx="1146.2" cy="294.0" r="3.25" fill="#00b1ff"/><circle cx="1149.1" cy="293.5" r="3.25" fill="#00b1ff"/><circle cx="1152.0" cy="292.9" r="3.25" fill="#00abff"/><circle cx="1154.9" cy="292.4" r="3.25" fill="#00b0ff"/><circle cx="1157.9" cy="291.9" r="3.25" fill="#00b9ff"/><circle cx="1160.8" cy="291.3" r="3.25" fill="#00b5ff"/><circle cx="1163.7" cy="290.8" r="3.25" fill="#00aeff"/><circle cx="1166.6" cy="290.2" r="3.25" fill="#00cdff"/><circle cx="1169.5" cy="289.7" r="3.25" fill="#00c9ff"/><circle cx="1051.4" cy="309.7" r="3.25" fill="#00cbff"/><circle cx="1054.3" cy="309.1" r="3.25" fill="#00bdff"/><circle cx="1057.3" cy="308.6" r="3.25" fill="#002dff"/><circle cx="1060.2" cy="308.1" r="3.25" fill="#0031ff"/><circle cx="1063.1" cy="307.5" r="3.25" fill="#0031ff"/><circle cx="1066.0" cy="307.0" r="3.25" fill="#0045ff"/><circle cx="1068.9" cy="306.4" r="3.25" fill="#0055ff"/><circle cx="1071.8" cy="305.9" r="3.25" fill="#004fff"/><circle cx="1074.8" cy="305.4" r="3.25" fill="#0054ff"/><circle cx="1077.7" cy="304.8" r="3.25" fill="#007bff"/><circle cx="1080.6" cy="304.3" r="3.25" fill="#0000e9"/><circle cx="1083.5" cy="303.7" r="3.25" fill="#0000c9"/><circle cx="1086.4" cy="303.2" r="3.25" fill="#0000dc"/><circle cx="1089.3" cy="302.7" r="3.25" fill="#0000f3"/><circle cx="1092.3" cy="302.1" r="3.25" fill="#4fffb0"/><circle cx="1095.2" cy="301.6" r="3.25" fill="#55ffaa"/><circle cx="1098.1" cy="301.0" r="3.25" fill="#62ff9d"/><circle cx="1101.0" cy="300.5" r="3.25" fill="#73ff8c"/><circle cx="1103.9" cy="300.0" r="3.25" fill="#8aff75"/><circle cx="1106.8" cy="299.4" r="3.25" fill="#97ff68"/><circle cx="1109.7" cy="298.9" r="3.25" fill="#8fff70"/><circle cx="1112.7" cy="298.3" r="3.25" fill="#a6ff59"/><circle cx="1115.6" cy="297.8" r="3.25" fill="#8fff70"/><circle cx="1118.5" cy="297.3" r="3.25" fill="#00e6ff"/><circle cx="1121.4" cy="296.7" r="3.25" fill="#00d7ff"/><circle cx="1124.3" cy="296.2" r="3.25" fill="#00dbff"/><circle cx="1127.2" cy="295.6" r="3.25" fill="#00c0ff"/><circle cx="1130.2" cy="295.1" r="3.25" fill="#00b3ff"/><circle cx="1133.1" cy="294.5" r="3.25" fill="#00b3ff"/><circle cx="1136.0" cy="294.0" r="3.25" fill="#00c2ff"/><circle cx="1138.9" cy="293.5" r="3.25" fill="#00d0ff"/><circle cx="1141.8" cy="292.9" r="3.25" fill="#00bfff"/><circle cx="1144.7" cy="292.4" r="3.25" fill="#00c0ff"/><circle cx="1147.7" cy="291.8" r="3.25" fill="#00c0ff"/><circle cx="1150.6" cy="291.3" r="3.25" fill="#00beff"/><circle cx="1153.5" cy="290.8" r="3.25" fill="#00b2ff"/><circle cx="1156.4" cy="290.2" r="3.25" fill="#00bbff"/><circle cx="1159.3" cy="289.7" r="3.25" fill="#00d4ff"/><circle cx="1162.2" cy="289.1" r="3.25" fill="#00cbff"/><circle cx="1165.2" cy="288.6" r="3.25" fill="#00c5ff"/><circle cx="1168.1" cy="288.1" r="3.25" fill="#00c1ff"/><circle cx="1041.2" cy="309.7" r="3.25" fill="#0000f9"/><circle cx="1044.1" cy="309.1" r="3.25" fill="#0028ff"/><circle cx="1047.1" cy="308.6" r="3.25" fill="#00cfff"/><circle cx="1050.0" cy="308.0" r="3.25" fill="#00d4ff"/><circle cx="1052.9" cy="307.5" r="3.25" fill="#00c7ff"/><circle cx="1055.8" cy="307.0" r="3.25" fill="#0058ff"/><circle cx="1058.7" cy="306.4" r="3.25" fill="#0028ff"/><circle cx="1061.6" cy="305.9" r="3.25" fill="#002dff"/><circle cx="1064.5" cy="305.3" r="3.25" fill="#003cff"/><circle cx="1067.5" cy="304.8" r="3.25" fill="#005bff"/><circle cx="1070.4" cy="304.3" r="3.25" fill="#0051ff"/><circle cx="1073.3" cy="303.7" r="3.25" fill="#003dff"/><circle cx="1076.2" cy="303.2" r="3.25" fill="#0060ff"/><circle cx="1079.1" cy="302.6" r="3.25" fill="#0081ff"/><circle cx="1082.0" cy="302.1" r="3.25" fill="#009fff"/><circle cx="1085.0" cy="301.6" r="3.25" fill="#00d9ff"/><circle cx="1087.9" cy="301.0" r="3.25" fill="#0000ef"/><circle cx="1090.8" cy="300.5" r="3.25" fill="#0000e7"/><circle cx="1093.7" cy="299.9" r="3.25" fill="#33ffcc"/><circle cx="1096.6" cy="299.4" r="3.25" fill="#59ffa6"/><circle cx="1099.5" cy="298.9" r="3.25" fill="#64ff9b"/><circle cx="1102.5" cy="298.3" r="3.25" fill="#62ff9d"/><circle cx="1105.4" cy="297.8" r="3.25" fill="#6aff95"/><circle cx="1108.3" cy="297.2" r="3.25" fill="#6eff91"/><circle cx="1111.2" cy="296.7" r="3.25" fill="#94ff6b"/><circle cx="1114.1" cy="296.1" r="3.25" fill="#a2ff5d"/><circle cx="1117.0" cy="295.6" r="3.25" fill="#33ffcc"/><circle cx="1120.0" cy="295.1" r="3.25" fill="#00c8ff"/><circle cx="1122.9" cy="294.5" r="3.25" fill="#00d1ff"/><circle cx="1125.8" cy="294.0" r="3.25" fill="#00c0ff"/><circle cx="1128.7" cy="293.4" r="3.25" fill="#00beff"/><circle cx="1131.6" cy="292.9" r="3.25" fill="#00b7ff"/><circle cx="1134.5" cy="292.4" r="3.25" fill="#00bfff"/><circle cx="1137.5" cy="291.8" r="3.25" fill="#00bbff"/><circle cx="1140.4" cy="291.3" r="3.25" fill="#00bdff"/><circle cx="1143.3" cy="290.7" r="3.25" fill="#00d2ff"/><circle cx="1146.2" cy="290.2" r="3.25" fill="#00c1ff"/><circle cx="1149.1" cy="289.7" r="3.25" fill="#00baff"/><circle cx="1152.0" cy="289.1" r="3.25" fill="#00a6ff"/><circle cx="1154.9" cy="288.6" r="3.25" fill="#00acff"/><circle cx="1157.9" cy="288.0" r="3.25" fill="#00dcff"/><circle cx="1160.8" cy="287.5" r="3.25" fill="#00d9ff"/><circle cx="1163.7" cy="287.0" r="3.25" fill="#00d2ff"/><circle cx="1166.6" cy="286.4" r="3.25" fill="#00dbff"/><circle cx="1039.8" cy="308.0" r="3.25" fill="#0000f2"/><circle cx="1042.7" cy="307.5" r="3.25" fill="#0000ec"/><circle cx="1045.6" cy="306.9" r="3.25" fill="#0097ff"/><circle cx="1048.5" cy="306.4" r="3.25" fill="#00cfff"/><circle cx="1051.4" cy="305.9" r="3.25" fill="#00cdff"/><circle cx="1054.3" cy="305.3" r="3.25" fill="#00cbff"/><circle cx="1057.3" cy="304.8" r="3.25" fill="#002aff"/><circle cx="1060.2" cy="304.2" r="3.25" fill="#0030ff"/><circle cx="1063.1" cy="303.7" r="3.25" fill="#0033ff"/><circle cx="1066.0" cy="303.2" r="3.25" fill="#0038ff"/><circle cx="1068.9" cy="302.6" r="3.25" fill="#0031ff"/><circle cx="1071.8" cy="302.1" r="3.25" fill="#003aff"/><circle cx="1074.8" cy="301.5" r="3.25" fill="#004aff"/><circle cx="1077.7" cy="301.0" r="3.25" fill="#0061ff"/><circle cx="1080.6" cy="300.5" r="3.25" fill="#009bff"/><circle cx="1083.5" cy="299.9" r="3.25" fill="#00e6ff"/><circle cx="1086.4" cy="299.4" r="3.25" fill="#00ffff"/><circle cx="1089.3" cy="298.8" r="3.25" fill="#21ffde"/><circle cx="1092.3" cy="298.3" r="3.25" fill="#3affc5"/><circle cx="1095.2" cy="297.7" r="3.25" fill="#47ffb8"/><circle cx="1098.1" cy="297.2" r="3.25" fill="#4fffb0"/><circle cx="1101.0" cy="296.7" r="3.25" fill="#60ff9f"/><circle cx="1103.9" cy="296.1" r="3.25" fill="#78ff87"/><circle cx="1106.8" cy="295.6" r="3.25" fill="#86ff79"/><circle cx="1109.7" cy="295.0" r="3.25" fill="#8fff70"/><circle cx="1112.7" cy="294.5" r="3.25" fill="#a3ff5c"/><circle cx="1115.6" cy="294.0" r="3.25" fill="#93ff6c"/><circle cx="1118.5" cy="293.4" r="3.25" fill="#00f7ff"/><circle cx="1121.4" cy="292.9" r="3.25" fill="#00c5ff"/><circle cx="1124.3" cy="292.3" r="3.25" fill="#00b6ff"/><circle cx="1127.2" cy="291.8" r="3.25" fill="#00b5ff"/><circle cx="1130.2" cy="291.3" r="3.25" fill="#00b2ff"/><circle cx="1133.1" cy="290.7" r="3.25" fill="#00c6ff"/><circle cx="1136.0" cy="290.2" r="3.25" fill="#00bcff"/><circle cx="1138.9" cy="289.6" r="3.25" fill="#00aaff"/><circle cx="1141.8" cy="289.1" r="3.25" fill="#00a0ff"/><circle cx="1144.7" cy="288.6" r="3.25" fill="#00a2ff"/><circle cx="1147.7" cy="288.0" r="3.25" fill="#00bbff"/><circle cx="1150.6" cy="287.5" r="3.25" fill="#00bdff"/><circle cx="1153.5" cy="286.9" r="3.25" fill="#00b3ff"/><circle cx="1156.4" cy="286.4" r="3.25" fill="#00cbff"/><circle cx="1159.3" cy="285.9" r="3.25" fill="#00d6ff"/><circle cx="1162.2" cy="285.3" r="3.25" fill="#00bdff"/><circle cx="1165.2" cy="284.8" r="3.25" fill="#00baff"/><circle cx="1168.1" cy="284.2" r="3.25" fill="#00e2ff"/><circle cx="1038.3" cy="306.4" r="3.25" fill="#0000f7"/><circle cx="1041.2" cy="305.8" r="3.25" fill="#0000f6"/><circle cx="1044.1" cy="305.3" r="3.25" fill="#003aff"/><circle cx="1047.1" cy="304.8" r="3.25" fill="#00bfff"/><circle cx="1050.0" cy="304.2" r="3.25" fill="#00d3ff"/><circle cx="1052.9" cy="303.7" r="3.25" fill="#00e5ff"/><circle cx="1055.8" cy="303.1" r="3.25" fill="#0067ff"/><circle cx="1058.7" cy="302.6" r="3.25" fill="#003cff"/><circle cx="1061.6" cy="302.0" r="3.25" fill="#002aff"/><circle cx="1064.5" cy="301.5" r="3.25" fill="#0026ff"/><circle cx="1067.5" cy="301.0" r="3.25" fill="#002aff"/><circle cx="1070.4" cy="300.4" r="3.25" fill="#0037ff"/><circle cx="1073.3" cy="299.9" r="3.25" fill="#0042ff"/><circle cx="1076.2" cy="299.3" r="3.25" fill="#0055ff"/><circle cx="1079.1" cy="298.8" r="3.25" fill="#007aff"/><circle cx="1082.0" cy="298.3" r="3.25" fill="#00cbff"/><circle cx="1085.0" cy="297.7" r="3.25" fill="#00fcff"/><circle cx="1087.9" cy="297.2" r="3.25" fill="#18ffe7"/><circle cx="1090.8" cy="296.6" r="3.25" fill="#2bffd4"/><circle cx="1093.7" cy="296.1" r="3.25" fill="#2affd5"/><circle cx="1096.6" cy="295.6" r="3.25" fill="#52ffad"/><circle cx="1099.5" cy="295.0" r="3.25" fill="#6bff94"/><circle cx="1102.5" cy="294.5" r="3.25" fill="#78ff87"/><circle cx="1105.4" cy="293.9" r="3.25" fill="#8aff75"/><circle cx="1108.3" cy="293.4" r="3.25" fill="#88ff77"/><circle cx="1111.2" cy="292.9" r="3.25" fill="#9bff64"/><circle cx="1114.1" cy="292.3" r="3.25" fill="#9eff61"/><circle cx="1117.0" cy="291.8" r="3.25" fill="#47ffb8"/><circle cx="1120.0" cy="291.2" r="3.25" fill="#00d7ff"/><circle cx="1122.9" cy="290.7" r="3.25" fill="#00b7ff"/><circle cx="1125.8" cy="290.2" r="3.25" fill="#00baff"/><circle cx="1128.7" cy="289.6" r="3.25" fill="#00c7ff"/><circle cx="1131.6" cy="289.1" r="3.25" fill="#00c9ff"/><circle cx="1134.5" cy="288.5" r="3.25" fill="#00c6ff"/><circle cx="1137.5" cy="288.0" r="3.25" fill="#00a9ff"/><circle cx="1140.4" cy="287.5" r="3.25" fill="#00acff"/><circle cx="1143.3" cy="286.9" r="3.25" fill="#00c4ff"/><circle cx="1146.2" cy="286.4" r="3.25" fill="#00c9ff"/><circle cx="1149.1" cy="285.8" r="3.25" fill="#00c5ff"/><circle cx="1152.0" cy="285.3" r="3.25" fill="#00b9ff"/><circle cx="1154.9" cy="284.8" r="3.25" fill="#00bdff"/><circle cx="1157.9" cy="284.2" r="3.25" fill="#00c1ff"/><circle cx="1160.8" cy="283.7" r="3.25" fill="#00c0ff"/><circle cx="1163.7" cy="283.1" r="3.25" fill="#00d1ff"/><circle cx="1166.6" cy="282.6" r="3.25" fill="#00e8ff"/><circle cx="1039.8" cy="304.2" r="3.25" fill="#0000fb"/><circle cx="1042.7" cy="303.6" r="3.25" fill="#0012ff"/><circle cx="1045.6" cy="303.1" r="3.25" fill="#0099ff"/><circle cx="1048.5" cy="302.6" r="3.25" fill="#00dcff"/><circle cx="1051.4" cy="302.0" r="3.25" fill="#00e3ff"/><circle cx="1054.3" cy="301.5" r="3.25" fill="#0048ff"/><circle cx="1057.3" cy="300.9" r="3.25" fill="#0022ff"/><circle cx="1060.2" cy="300.4" r="3.25" fill="#0019ff"/><circle cx="1063.1" cy="299.9" r="3.25" fill="#0015ff"/><circle cx="1066.0" cy="299.3" r="3.25" fill="#0028ff"/><circle cx="1068.9" cy="298.8" r="3.25" fill="#0037ff"/><circle cx="1071.8" cy="298.2" r="3.25" fill="#0059ff"/><circle cx="1074.8" cy="297.7" r="3.25" fill="#0068ff"/><circle cx="1077.7" cy="297.2" r="3.25" fill="#0063ff"/><circle cx="1080.6" cy="296.6" r="3.25" fill="#009eff"/><circle cx="1083.5" cy="296.1" r="3.25" fill="#00c8ff"/><circle cx="1086.4" cy="295.5" r="3.25" fill="#00d6ff"/><circle cx="1089.3" cy="295.0" r="3.25" fill="#00e6ff"/><circle cx="1092.3" cy="294.5" r="3.25" fill="#00f6ff"/><circle cx="1095.2" cy="293.9" r="3.25" fill="#19ffe6"/><circle cx="1098.1" cy="293.4" r="3.25" fill="#2affd5"/><circle cx="1101.0" cy="292.8" r="3.25" fill="#fff500"/><circle cx="1103.9" cy="292.3" r="3.25" fill="#fbff04"/><circle cx="1106.8" cy="291.8" r="3.25" fill="#67ff98"/><circle cx="1109.7" cy="291.2" r="3.25" fill="#35ffca"/><circle cx="1112.7" cy="290.7" r="3.25" fill="#2cffd3"/><circle cx="1115.6" cy="290.1" r="3.25" fill="#28ffd7"/><circle cx="1118.5" cy="289.6" r="3.25" fill="#1bffe4"/><circle cx="1121.4" cy="289.1" r="3.25" fill="#11ffee"/><circle cx="1124.3" cy="288.5" r="3.25" fill="#0cfff3"/><circle cx="1127.2" cy="288.0" r="3.25" fill="#16ffe9"/><circle cx="1130.2" cy="287.4" r="3.25" fill="#0afff5"/><circle cx="1133.1" cy="286.9" r="3.25" fill="#00e1ff"/><circle cx="1136.0" cy="286.4" r="3.25" fill="#00deff"/><circle cx="1138.9" cy="285.8" r="3.25" fill="#00d8ff"/><circle cx="1141.8" cy="285.3" r="3.25" fill="#00daff"/><circle cx="1144.7" cy="284.7" r="3.25" fill="#00cfff"/><circle cx="1147.7" cy="284.2" r="3.25" fill="#00b1ff"/><circle cx="1150.6" cy="283.6" r="3.25" fill="#0078ff"/><circle cx="1153.5" cy="283.1" r="3.25" fill="#003fff"/><circle cx="1156.4" cy="282.6" r="3.25" fill="#0052ff"/><circle cx="1159.3" cy="282.0" r="3.25" fill="#0075ff"/><circle cx="1162.2" cy="281.5" r="3.25" fill="#00a4ff"/><circle cx="1165.2" cy="280.9" r="3.25" fill="#00a4ff"/><circle cx="1168.1" cy="280.4" r="3.25" fill="#00b1ff"/><circle cx="1038.3" cy="302.5" r="3.25" fill="#0011ff"/><circle cx="1041.2" cy="302.0" r="3.25" fill="#0017ff"/><circle cx="1044.1" cy="301.5" r="3.25" fill="#0048ff"/><circle cx="1047.1" cy="300.9" r="3.25" fill="#00c9ff"/><circle cx="1050.0" cy="300.4" r="3.25" fill="#00f5ff"/><circle cx="1052.9" cy="299.8" r="3.25" fill="#00b9ff"/><circle cx="1055.8" cy="299.3" r="3.25" fill="#001eff"/><circle cx="1058.7" cy="298.8" r="3.25" fill="#0019ff"/><circle cx="1061.6" cy="298.2" r="3.25" fill="#0032ff"/><circle cx="1064.5" cy="297.7" r="3.25" fill="#0041ff"/><circle cx="1067.5" cy="297.1" r="3.25" fill="#003aff"/><circle cx="1070.4" cy="296.6" r="3.25" fill="#004aff"/><circle cx="1073.3" cy="296.1" r="3.25" fill="#004aff"/><circle cx="1076.2" cy="295.5" r="3.25" fill="#0056ff"/><circle cx="1079.1" cy="295.0" r="3.25" fill="#0075ff"/><circle cx="1082.0" cy="294.4" r="3.25" fill="#00b9ff"/><circle cx="1085.0" cy="293.9" r="3.25" fill="#00cfff"/><circle cx="1087.9" cy="293.4" r="3.25" fill="#00e2ff"/><circle cx="1090.8" cy="292.8" r="3.25" fill="#00fcff"/><circle cx="1093.7" cy="292.3" r="3.25" fill="#07fff8"/><circle cx="1096.6" cy="291.7" r="3.25" fill="#0cfff3"/><circle cx="1099.5" cy="291.2" r="3.25" fill="#7aff85"/><circle cx="1102.5" cy="290.7" r="3.25" fill="#fffb00"/><circle cx="1105.4" cy="290.1" r="3.25" fill="#c8ff37"/><circle cx="1108.3" cy="289.6" r="3.25" fill="#58ffa7"/><circle cx="1111.2" cy="289.0" r="3.25" fill="#51ffae"/><circle cx="1114.1" cy="288.5" r="3.25" fill="#40ffbf"/><circle cx="1117.0" cy="288.0" r="3.25" fill="#28ffd7"/><circle cx="1120.0" cy="287.4" r="3.25" fill="#20ffdf"/><circle cx="1122.9" cy="286.9" r="3.25" fill="#14ffeb"/><circle cx="1125.8" cy="286.3" r="3.25" fill="#11ffee"/><circle cx="1128.7" cy="285.8" r="3.25" fill="#0bfff4"/><circle cx="1131.6" cy="285.2" r="3.25" fill="#00efff"/><circle cx="1134.5" cy="284.7" r="3.25" fill="#00e4ff"/><circle cx="1137.5" cy="284.2" r="3.25" fill="#00d8ff"/><circle cx="1140.4" cy="283.6" r="3.25" fill="#00d9ff"/><circle cx="1143.3" cy="283.1" r="3.25" fill="#00d0ff"/><circle cx="1146.2" cy="282.5" r="3.25" fill="#00b5ff"/><circle cx="1149.1" cy="282.0" r="3.25" fill="#0096ff"/><circle cx="1152.0" cy="281.5" r="3.25" fill="#0048ff"/><circle cx="1154.9" cy="280.9" r="3.25" fill="#0044ff"/><circle cx="1157.9" cy="280.4" r="3.25" fill="#005dff"/><circle cx="1160.8" cy="279.8" r="3.25" fill="#007dff"/><circle cx="1163.7" cy="279.3" r="3.25" fill="#008eff"/><circle cx="1166.6" cy="278.8" r="3.25" fill="#00a9ff"/></g>
<text class="b t ls" x="1084.7" y="74.9" text-anchor="middle">100<tspan class="d" dx="3.0" dy="-11.2">o</tspan><tspan dx="6.1" dy="11.2">W</tspan></text>
<text class="b t ls" x="1148.5" y="74.9" text-anchor="middle">90<tspan class="d" dx="3.0" dy="-11.2">o</tspan><tspan dx="6.1" dy="11.2">W</tspan></text>
<text class="b t ls" x="1211.4" y="74.9" text-anchor="middle">80<tspan class="d" dx="3.0" dy="-11.2">o</tspan><tspan dx="6.1" dy="11.2">W</tspan></text>
<text class="b t ls" x="1276.7" y="74.9" text-anchor="middle">70<tspan class="d" dx="3.0" dy="-11.2">o</tspan><tspan dx="6.1" dy="11.2">W</tspan></text>
<text class="b t" x="1027.7" y="112.7" text-anchor="end">48<tspan class="d" dx="2.3" dy="-11.2">o</tspan><tspan dx="4.6" dy="11.2">N</tspan></text>
<text class="b t" x="1027.7" y="130.4" text-anchor="end">46<tspan class="d" dx="2.3" dy="-11.2">o</tspan><tspan dx="4.6" dy="11.2">N</tspan></text>
<text class="b t" x="1027.7" y="147.7" text-anchor="end">44<tspan class="d" dx="2.3" dy="-11.2">o</tspan><tspan dx="4.6" dy="11.2">N</tspan></text>
<text class="b t" x="1027.7" y="166.5" text-anchor="end">42<tspan class="d" dx="2.3" dy="-11.2">o</tspan><tspan dx="4.6" dy="11.2">N</tspan></text>
<text class="b t" x="1027.7" y="182.6" text-anchor="end">40<tspan class="d" dx="2.3" dy="-11.2">o</tspan><tspan dx="4.6" dy="11.2">N</tspan></text>
<text class="b t" x="1027.7" y="198.0" text-anchor="end">38<tspan class="d" dx="2.3" dy="-11.2">o</tspan><tspan dx="4.6" dy="11.2">N</tspan></text>
<text class="b t" x="1027.7" y="214.6" text-anchor="end">36<tspan class="d" dx="2.3" dy="-11.2">o</tspan><tspan dx="4.6" dy="11.2">N</tspan></text>
<text class="b t" x="1027.7" y="228.4" text-anchor="end">34<tspan class="d" dx="2.3" dy="-11.2">o</tspan><tspan dx="4.6" dy="11.2">N</tspan></text>
<text class="b t" x="1027.7" y="245.4" text-anchor="end">32<tspan class="d" dx="2.3" dy="-11.2">o</tspan><tspan dx="4.6" dy="11.2">N</tspan></text>
<text class="b t" x="1027.7" y="259.7" text-anchor="end">30<tspan class="d" dx="2.3" dy="-11.2">o</tspan><tspan dx="4.6" dy="11.2">N</tspan></text>
<text class="b t" x="1027.7" y="274.3" text-anchor="end">28<tspan class="d" dx="2.3" dy="-11.2">o</tspan><tspan dx="4.6" dy="11.2">N</tspan></text>
<text class="b t" x="1027.7" y="289.1" text-anchor="end">26<tspan class="d" dx="2.3" dy="-11.2">o</tspan><tspan dx="4.6" dy="11.2">N</tspan></text>
<text class="b t" x="1027.7" y="301.5" text-anchor="end">24<tspan class="d" dx="2.3" dy="-11.2">o</tspan><tspan dx="4.6" dy="11.2">N</tspan></text>
<text class="b t" x="1027.7" y="316.5" text-anchor="end">22<tspan class="d" dx="2.3" dy="-11.2">o</tspan><tspan dx="4.6" dy="11.2">N</tspan></text>
<text class="b p" x="1150.4" y="341.1" text-anchor="middle">SAT+RAP 500 hPa Temp (K)</text>
<rect x="1285.20" y="95.20" width="23.50" height="215.30" fill="url(#jet)" stroke="#262626" stroke-width="0.6"/>
<path d="M1308.70 101.50h-2.4" stroke="#262626" stroke-width="0.7"/><text class="b c" x="1317.0" y="109.5">270</text>
<path d="M1308.70 155.50h-2.4" stroke="#262626" stroke-width="0.7"/><text class="b c" x="1317.0" y="163.5">268</text>
<path d="M1308.70 209.60h-2.4" stroke="#262626" stroke-width="0.7"/><text class="b c" x="1317.0" y="217.6">266</text>
<path d="M1308.70 263.60h-2.4" stroke="#262626" stroke-width="0.7"/><text class="b c" x="1317.0" y="271.6">264</text>
</g>
<g>
<rect x="195.70" y="486.15" width="233.80" height="212.85" fill="#fff" stroke="#000" stroke-width="1" shape-rendering="crispEdges"/>
<g clip-path="url(#cp3)"><use href="#usmap" transform="translate(196.40 486.70) scale(0.062865 0.062710)"/></g>
<g><circle cx="199.0" cy="698.0" r="3.25" fill="#9e0000"/><circle cx="196.0" cy="693.0" r="3.25" fill="#ff3800"/><circle cx="197.9" cy="695.2" r="3.25" fill="#ff6100"/><circle cx="204.0" cy="691.0" r="3.25" fill="#0000e6"/><circle cx="202.9" cy="694.2" r="3.25" fill="#004dff"/><circle cx="209.0" cy="691.0" r="3.25" fill="#0000d1"/><circle cx="211.4" cy="691.7" r="3.25" fill="#0000bd"/><circle cx="206.9" cy="696.2" r="3.25" fill="#00b2ff"/><circle cx="216.0" cy="694.0" r="3.25" fill="#fffa00"/><circle cx="210.0" cy="698.7" r="3.25" fill="#004dff"/><circle cx="201.9" cy="698.7" r="3.25" fill="#c70000"/><circle cx="321.4" cy="699.0" r="3.25" fill="#ff4b00"/><circle cx="324.3" cy="698.5" r="3.25" fill="#f30000"/><circle cx="327.2" cy="698.0" r="3.25" fill="#ff5200"/><circle cx="311.3" cy="699.0" r="3.25" fill="#800000"/><circle cx="314.2" cy="698.5" r="3.25" fill="#800000"/><circle cx="317.1" cy="697.9" r="3.25" fill="#800000"/><circle cx="320.0" cy="697.4" r="3.25" fill="#8e0000"/><circle cx="322.9" cy="696.9" r="3.25" fill="#cb0000"/><circle cx="325.8" cy="696.3" r="3.25" fill="#ff9e00"/><circle cx="328.7" cy="695.8" r="3.25" fill="#ff2900"/><circle cx="301.1" cy="699.0" r="3.25" fill="#ffc800"/><circle cx="304.0" cy="698.4" r="3.25" fill="#bbff44"/><circle cx="306.9" cy="697.9" r="3.25" fill="#5effa1"/><circle cx="309.8" cy="697.4" r="3.25" fill="#ff7800"/><circle cx="312.7" cy="696.8" r="3.25" fill="#ff0b00"/><circle cx="315.6" cy="696.3" r="3.25" fill="#800000"/><circle cx="318.5" cy="695.8" r="3.25" fill="#bb0000"/><circle cx="321.4" cy="695.2" r="3.25" fill="#ff0200"/><circle cx="324.3" cy="694.7" r="3.25" fill="#d00000"/><circle cx="327.2" cy="694.2" r="3.25" fill="#c40000"/><circle cx="291.0" cy="699.0" r="3.25" fill="#74ff8b"/><circle cx="293.9" cy="698.4" r="3.25" fill="#8eff71"/><circle cx="296.8" cy="697.9" r="3.25" fill="#73ff8c"/><circle cx="299.7" cy="697.4" r="3.25" fill="#fff900"/><circle cx="302.6" cy="696.8" r="3.25" fill="#d7ff28"/><circle cx="305.5" cy="696.3" r="3.25" fill="#ff5300"/><circle cx="308.4" cy="695.7" r="3.25" fill="#ff9600"/><circle cx="311.3" cy="695.2" r="3.25" fill="#d9ff26"/><circle cx="314.2" cy="694.7" r="3.25" fill="#ff7b00"/><circle cx="317.1" cy="694.1" r="3.25" fill="#cd0000"/><circle cx="320.0" cy="693.6" r="3.25" fill="#ff6600"/><circle cx="322.9" cy="693.1" r="3.25" fill="#ff6500"/><circle cx="325.8" cy="692.5" r="3.25" fill="#f40000"/><circle cx="328.7" cy="692.0" r="3.25" fill="#ff4e00"/><circle cx="280.8" cy="698.9" r="3.25" fill="#d4ff2b"/><circle cx="283.7" cy="698.4" r="3.25" fill="#ff9800"/><circle cx="286.6" cy="697.9" r="3.25" fill="#ffa100"/><circle cx="289.5" cy="697.3" r="3.25" fill="#8dff72"/><circle cx="292.4" cy="696.8" r="3.25" fill="#f6ff09"/><circle cx="295.3" cy="696.3" r="3.25" fill="#00cfff"/><circle cx="298.2" cy="695.7" r="3.25" fill="#10ffef"/><circle cx="301.1" cy="695.2" r="3.25" fill="#5dffa2"/><circle cx="304.0" cy="694.6" r="3.25" fill="#e4ff1b"/><circle cx="306.9" cy="694.1" r="3.25" fill="#78ff87"/><circle cx="309.8" cy="693.6" r="3.25" fill="#ffb200"/><circle cx="312.7" cy="693.0" r="3.25" fill="#ab0000"/><circle cx="315.6" cy="692.5" r="3.25" fill="#fa0000"/><circle cx="318.5" cy="692.0" r="3.25" fill="#ff9e00"/><circle cx="321.4" cy="691.4" r="3.25" fill="#ff7800"/><circle cx="324.3" cy="690.9" r="3.25" fill="#ff4200"/><circle cx="327.2" cy="690.4" r="3.25" fill="#ff9b00"/><circle cx="270.6" cy="698.9" r="3.25" fill="#ffc600"/><circle cx="273.6" cy="698.4" r="3.25" fill="#ff8900"/><circle cx="276.5" cy="697.8" r="3.25" fill="#67ff98"/><circle cx="279.4" cy="697.3" r="3.25" fill="#ffd700"/><circle cx="282.2" cy="696.8" r="3.25" fill="#dfff20"/><circle cx="285.2" cy="696.2" r="3.25" fill="#00ceff"/><circle cx="288.1" cy="695.7" r="3.25" fill="#00d1ff"/><circle cx="291.0" cy="695.2" r="3.25" fill="#82ff7d"/><circle cx="293.9" cy="694.6" r="3.25" fill="#06fff9"/><circle cx="296.8" cy="694.1" r="3.25" fill="#14ffeb"/><circle cx="299.7" cy="693.6" r="3.25" fill="#edff12"/><circle cx="302.6" cy="693.0" r="3.25" fill="#ff2d00"/><circle cx="305.5" cy="692.5" r="3.25" fill="#a5ff5a"/><circle cx="308.4" cy="691.9" r="3.25" fill="#ff2400"/><circle cx="311.3" cy="691.4" r="3.25" fill="#c90000"/><circle cx="314.2" cy="690.9" r="3.25" fill="#af0000"/><circle cx="317.1" cy="690.3" r="3.25" fill="#ff4e00"/><circle cx="320.0" cy="689.8" r="3.25" fill="#ff1800"/><circle cx="322.9" cy="689.3" r="3.25" fill="#ff5100"/><circle cx="325.8" cy="688.7" r="3.25" fill="#ff7500"/><circle cx="260.5" cy="698.9" r="3.25" fill="#39ffc6"/><circle cx="263.4" cy="698.4" r="3.25" fill="#bbff44"/><circle cx="266.3" cy="697.8" r="3.25" fill="#60ff9f"/><circle cx="269.2" cy="697.3" r="3.25" fill="#e0ff1f"/><circle cx="272.1" cy="696.8" r="3.25" fill="#ff2100"/><circle cx="275.0" cy="696.2" r="3.25" fill="#ff9900"/><circle cx="277.9" cy="695.7" r="3.25" fill="#ccff33"/><circle cx="280.8" cy="695.1" r="3.25" fill="#fcff03"/><circle cx="283.7" cy="694.6" r="3.25" fill="#00e6ff"/><circle cx="286.6" cy="694.1" r="3.25" fill="#67ff98"/><circle cx="289.5" cy="693.5" r="3.25" fill="#ffbc00"/><circle cx="292.4" cy="693.0" r="3.25" fill="#ff8600"/><circle cx="295.3" cy="692.5" r="3.25" fill="#bfff40"/><circle cx="298.2" cy="691.9" r="3.25" fill="#ffe900"/><circle cx="301.1" cy="691.4" r="3.25" fill="#80ff7f"/><circle cx="304.0" cy="690.8" r="3.25" fill="#ff9300"/><circle cx="306.9" cy="690.3" r="3.25" fill="#ff2500"/><circle cx="309.8" cy="689.8" r="3.25" fill="#80ff7f"/><circle cx="312.7" cy="689.2" r="3.25" fill="#e8ff17"/><circle cx="315.6" cy="688.7" r="3.25" fill="#f10000"/><circle cx="318.5" cy="688.2" r="3.25" fill="#ff7a00"/><circle cx="321.4" cy="687.6" r="3.25" fill="#ff9e00"/><circle cx="324.3" cy="687.1" r="3.25" fill="#d00000"/><circle cx="327.2" cy="686.6" r="3.25" fill="#c80000"/><circle cx="250.3" cy="698.9" r="3.25" fill="#45ffba"/><circle cx="253.2" cy="698.3" r="3.25" fill="#72ff8d"/><circle cx="256.1" cy="697.8" r="3.25" fill="#00a4ff"/><circle cx="259.0" cy="697.3" r="3.25" fill="#00faff"/><circle cx="261.9" cy="696.7" r="3.25" fill="#37ffc8"/><circle cx="264.9" cy="696.2" r="3.25" fill="#0052ff"/><circle cx="267.8" cy="695.7" r="3.25" fill="#00ccff"/><circle cx="270.6" cy="695.1" r="3.25" fill="#ffdc00"/><circle cx="273.6" cy="694.6" r="3.25" fill="#a3ff5c"/><circle cx="276.5" cy="694.0" r="3.25" fill="#ffc200"/><circle cx="279.4" cy="693.5" r="3.25" fill="#91ff6e"/><circle cx="282.2" cy="693.0" r="3.25" fill="#32ffcd"/><circle cx="285.2" cy="692.4" r="3.25" fill="#bfff40"/><circle cx="288.1" cy="691.9" r="3.25" fill="#ecff13"/><circle cx="291.0" cy="691.4" r="3.25" fill="#91ff6e"/><circle cx="293.9" cy="690.8" r="3.25" fill="#ffad00"/><circle cx="296.8" cy="690.3" r="3.25" fill="#ffe300"/><circle cx="299.7" cy="689.8" r="3.25" fill="#ffb900"/><circle cx="302.6" cy="689.2" r="3.25" fill="#ff6f00"/><circle cx="305.5" cy="688.7" r="3.25" fill="#fff700"/><circle cx="308.4" cy="688.1" r="3.25" fill="#ffab00"/><circle cx="311.3" cy="687.6" r="3.25" fill="#ff6400"/><circle cx="314.2" cy="687.1" r="3.25" fill="#f30000"/><circle cx="317.1" cy="686.5" r="3.25" fill="#ff9e00"/><circle cx="320.0" cy="686.0" r="3.25" fill="#ff9e00"/><circle cx="322.9" cy="685.5" r="3.25" fill="#ff9e00"/><circle cx="325.8" cy="684.9" r="3.25" fill="#ff2f00"/><circle cx="240.2" cy="698.9" r="3.25" fill="#0000e9"/><circle cx="243.1" cy="698.3" r="3.25" fill="#002bff"/><circle cx="246.0" cy="697.8" r="3.25" fill="#003bff"/><circle cx="248.9" cy="697.2" r="3.25" fill="#00c2ff"/><circle cx="251.8" cy="696.7" r="3.25" fill="#005dff"/><circle cx="254.7" cy="696.2" r="3.25" fill="#006dff"/><circle cx="257.6" cy="695.6" r="3.25" fill="#32ffcd"/><circle cx="260.5" cy="695.1" r="3.25" fill="#06fff9"/><circle cx="263.4" cy="694.6" r="3.25" fill="#00a8ff"/><circle cx="266.3" cy="694.0" r="3.25" fill="#42ffbd"/><circle cx="269.2" cy="693.5" r="3.25" fill="#25ffda"/><circle cx="272.1" cy="693.0" r="3.25" fill="#2cffd3"/><circle cx="275.0" cy="692.4" r="3.25" fill="#ffe700"/><circle cx="277.9" cy="691.9" r="3.25" fill="#ffdb00"/><circle cx="280.8" cy="691.3" r="3.25" fill="#c3ff3c"/><circle cx="283.7" cy="690.8" r="3.25" fill="#bfff40"/><circle cx="286.6" cy="690.3" r="3.25" fill="#5bffa4"/><circle cx="289.5" cy="689.7" r="3.25" fill="#beff41"/><circle cx="292.4" cy="689.2" r="3.25" fill="#ffcb00"/><circle cx="295.3" cy="688.7" r="3.25" fill="#ff8900"/><circle cx="298.2" cy="688.1" r="3.25" fill="#ff5000"/><circle cx="301.1" cy="687.6" r="3.25" fill="#ffbe00"/><circle cx="304.0" cy="687.0" r="3.25" fill="#7dff82"/><circle cx="306.9" cy="686.5" r="3.25" fill="#f6ff09"/><circle cx="309.8" cy="686.0" r="3.25" fill="#fff100"/><circle cx="312.7" cy="685.4" r="3.25" fill="#ffb600"/><circle cx="315.6" cy="684.9" r="3.25" fill="#ff5a00"/><circle cx="318.5" cy="684.4" r="3.25" fill="#ff5300"/><circle cx="321.4" cy="683.8" r="3.25" fill="#ff9e00"/><circle cx="324.3" cy="683.3" r="3.25" fill="#ff3800"/><circle cx="327.2" cy="682.8" r="3.25" fill="#800000"/><circle cx="232.9" cy="698.3" r="3.25" fill="#00d1ff"/><circle cx="235.8" cy="697.8" r="3.25" fill="#009dff"/><circle cx="238.8" cy="697.2" r="3.25" fill="#001eff"/><circle cx="241.6" cy="696.7" r="3.25" fill="#007dff"/><circle cx="244.5" cy="696.1" r="3.25" fill="#0000bf"/><circle cx="247.4" cy="695.6" r="3.25" fill="#003aff"/><circle cx="250.3" cy="695.1" r="3.25" fill="#0081ff"/><circle cx="253.2" cy="694.5" r="3.25" fill="#0000bf"/><circle cx="256.1" cy="694.0" r="3.25" fill="#0000d9"/><circle cx="259.0" cy="693.5" r="3.25" fill="#008bff"/><circle cx="261.9" cy="692.9" r="3.25" fill="#3cffc3"/><circle cx="264.9" cy="692.4" r="3.25" fill="#f2ff0d"/><circle cx="267.8" cy="691.9" r="3.25" fill="#dfff20"/><circle cx="270.6" cy="691.3" r="3.25" fill="#80ff7f"/><circle cx="273.6" cy="690.8" r="3.25" fill="#a8ff57"/><circle cx="276.5" cy="690.2" r="3.25" fill="#ff8f00"/><circle cx="279.4" cy="689.7" r="3.25" fill="#ffe800"/><circle cx="282.2" cy="689.2" r="3.25" fill="#ff7f00"/><circle cx="285.2" cy="688.6" r="3.25" fill="#fff500"/><circle cx="288.1" cy="688.1" r="3.25" fill="#79ff86"/><circle cx="291.0" cy="687.6" r="3.25" fill="#7fff80"/><circle cx="293.9" cy="687.0" r="3.25" fill="#acff53"/><circle cx="296.8" cy="686.5" r="3.25" fill="#ff4600"/><circle cx="299.7" cy="686.0" r="3.25" fill="#faff05"/><circle cx="302.6" cy="685.4" r="3.25" fill="#ffb800"/><circle cx="305.5" cy="684.9" r="3.25" fill="#ffa700"/><circle cx="308.4" cy="684.3" r="3.25" fill="#ffae00"/><circle cx="311.3" cy="683.8" r="3.25" fill="#ff8a00"/><circle cx="314.2" cy="683.3" r="3.25" fill="#ff9e00"/><circle cx="317.1" cy="682.7" r="3.25" fill="#ff5800"/><circle cx="320.0" cy="682.2" r="3.25" fill="#ff9e00"/><circle cx="322.9" cy="681.7" r="3.25" fill="#ff9e00"/><circle cx="325.8" cy="681.1" r="3.25" fill="#ff0400"/><circle cx="234.4" cy="696.1" r="3.25" fill="#52ffad"/><circle cx="237.3" cy="695.6" r="3.25" fill="#00a4ff"/><circle cx="240.2" cy="695.1" r="3.25" fill="#0073ff"/><circle cx="243.1" cy="694.5" r="3.25" fill="#00d0ff"/><circle cx="246.0" cy="694.0" r="3.25" fill="#0000bf"/><circle cx="248.9" cy="693.4" r="3.25" fill="#0025ff"/><circle cx="251.8" cy="692.9" r="3.25" fill="#000080"/><circle cx="254.7" cy="692.4" r="3.25" fill="#0013ff"/><circle cx="257.6" cy="691.8" r="3.25" fill="#00bdff"/><circle cx="260.5" cy="691.3" r="3.25" fill="#ffe300"/><circle cx="263.4" cy="690.8" r="3.25" fill="#6eff91"/><circle cx="266.3" cy="690.2" r="3.25" fill="#61ff9e"/><circle cx="269.2" cy="689.7" r="3.25" fill="#00ecff"/><circle cx="272.1" cy="689.2" r="3.25" fill="#6aff95"/><circle cx="275.0" cy="688.6" r="3.25" fill="#fff600"/><circle cx="277.9" cy="688.1" r="3.25" fill="#ffee00"/><circle cx="280.8" cy="687.5" r="3.25" fill="#58ffa7"/><circle cx="283.7" cy="687.0" r="3.25" fill="#e5ff1a"/><circle cx="286.6" cy="686.5" r="3.25" fill="#ffac00"/><circle cx="289.5" cy="685.9" r="3.25" fill="#3dffc2"/><circle cx="292.4" cy="685.4" r="3.25" fill="#5affa5"/><circle cx="295.3" cy="684.9" r="3.25" fill="#00c6ff"/><circle cx="298.2" cy="684.3" r="3.25" fill="#65ff9a"/><circle cx="301.1" cy="683.8" r="3.25" fill="#a9ff56"/><circle cx="304.0" cy="683.2" r="3.25" fill="#cfff30"/><circle cx="306.9" cy="682.7" r="3.25" fill="#ffdc00"/><circle cx="309.8" cy="682.2" r="3.25" fill="#ec0000"/><circle cx="312.7" cy="681.6" r="3.25" fill="#da0000"/><circle cx="315.6" cy="681.1" r="3.25" fill="#ff6e00"/><circle cx="318.5" cy="680.6" r="3.25" fill="#e10000"/><circle cx="321.4" cy="680.0" r="3.25" fill="#f30000"/><circle cx="324.3" cy="679.5" r="3.25" fill="#ff9e00"/><circle cx="327.2" cy="679.0" r="3.25" fill="#ff9e00"/><circle cx="232.9" cy="694.5" r="3.25" fill="#0000dd"/><circle cx="235.8" cy="694.0" r="3.25" fill="#000dff"/><circle cx="238.8" cy="693.4" r="3.25" fill="#00a5ff"/><circle cx="241.6" cy="692.9" r="3.25" fill="#42ffbd"/><circle cx="244.5" cy="692.3" r="3.25" fill="#0030ff"/><circle cx="247.4" cy="691.8" r="3.25" fill="#009dff"/><circle cx="250.3" cy="691.3" r="3.25" fill="#0000d1"/><circle cx="253.2" cy="690.7" r="3.25" fill="#0075ff"/><circle cx="256.1" cy="690.2" r="3.25" fill="#00faff"/><circle cx="259.0" cy="689.7" r="3.25" fill="#9dff62"/><circle cx="261.9" cy="689.1" r="3.25" fill="#31ffce"/><circle cx="264.9" cy="688.6" r="3.25" fill="#37ffc8"/><circle cx="267.8" cy="688.1" r="3.25" fill="#fff300"/><circle cx="270.6" cy="687.5" r="3.25" fill="#ff9200"/><circle cx="273.6" cy="687.0" r="3.25" fill="#ff4b00"/><circle cx="276.5" cy="686.4" r="3.25" fill="#71ff8e"/><circle cx="279.4" cy="685.9" r="3.25" fill="#aaff55"/><circle cx="282.2" cy="685.4" r="3.25" fill="#ffb400"/><circle cx="285.2" cy="684.8" r="3.25" fill="#a0ff5f"/><circle cx="288.1" cy="684.3" r="3.25" fill="#feff01"/><circle cx="291.0" cy="683.8" r="3.25" fill="#adff52"/><circle cx="293.9" cy="683.2" r="3.25" fill="#00fbff"/><circle cx="296.8" cy="682.7" r="3.25" fill="#3bffc4"/><circle cx="299.7" cy="682.2" r="3.25" fill="#bcff43"/><circle cx="302.6" cy="681.6" r="3.25" fill="#f5ff0a"/><circle cx="305.5" cy="681.1" r="3.25" fill="#93ff6c"/><circle cx="308.4" cy="680.5" r="3.25" fill="#ff3700"/><circle cx="311.3" cy="680.0" r="3.25" fill="#e20000"/><circle cx="314.2" cy="679.5" r="3.25" fill="#ff6f00"/><circle cx="317.1" cy="678.9" r="3.25" fill="#ff3300"/><circle cx="320.0" cy="678.4" r="3.25" fill="#ff9e00"/><circle cx="322.9" cy="677.9" r="3.25" fill="#ff9e00"/><circle cx="325.8" cy="677.3" r="3.25" fill="#ff0b00"/><circle cx="234.4" cy="692.3" r="3.25" fill="#0023ff"/><circle cx="237.3" cy="691.8" r="3.25" fill="#001fff"/><circle cx="240.2" cy="691.3" r="3.25" fill="#000080"/><circle cx="243.1" cy="690.7" r="3.25" fill="#0005ff"/><circle cx="246.0" cy="690.2" r="3.25" fill="#03fffc"/><circle cx="248.9" cy="689.6" r="3.25" fill="#005eff"/><circle cx="251.8" cy="689.1" r="3.25" fill="#0000df"/><circle cx="254.7" cy="688.6" r="3.25" fill="#f6ff09"/><circle cx="257.6" cy="688.0" r="3.25" fill="#f3ff0c"/><circle cx="260.5" cy="687.5" r="3.25" fill="#00e5ff"/><circle cx="263.4" cy="687.0" r="3.25" fill="#9dff62"/><circle cx="266.3" cy="686.4" r="3.25" fill="#ffe600"/><circle cx="269.2" cy="685.9" r="3.25" fill="#ffbe00"/><circle cx="272.1" cy="685.4" r="3.25" fill="#d7ff28"/><circle cx="275.0" cy="684.8" r="3.25" fill="#60ff9f"/><circle cx="277.9" cy="684.3" r="3.25" fill="#fffb00"/><circle cx="280.8" cy="683.7" r="3.25" fill="#ff3a00"/><circle cx="283.7" cy="683.2" r="3.25" fill="#ff9b00"/><circle cx="286.6" cy="682.7" r="3.25" fill="#8fff70"/><circle cx="289.5" cy="682.1" r="3.25" fill="#b5ff4a"/><circle cx="292.4" cy="681.6" r="3.25" fill="#f8ff07"/><circle cx="295.3" cy="681.1" r="3.25" fill="#91ff6e"/><circle cx="298.2" cy="680.5" r="3.25" fill="#52ffad"/><circle cx="301.1" cy="680.0" r="3.25" fill="#ff9000"/><circle cx="304.0" cy="679.4" r="3.25" fill="#a3ff5c"/><circle cx="306.9" cy="678.9" r="3.25" fill="#ffa500"/><circle cx="309.8" cy="678.4" r="3.25" fill="#95ff6a"/><circle cx="312.7" cy="677.8" r="3.25" fill="#d9ff26"/><circle cx="315.6" cy="677.3" r="3.25" fill="#ff7300"/><circle cx="318.5" cy="676.8" r="3.25" fill="#ff7e00"/><circle cx="321.4" cy="676.2" r="3.25" fill="#990000"/><circle cx="324.3" cy="675.7" r="3.25" fill="#800000"/><circle cx="232.9" cy="690.7" r="3.25" fill="#02fffd"/><circle cx="235.8" cy="690.2" r="3.25" fill="#00b8ff"/><circle cx="238.8" cy="689.6" r="3.25" fill="#38ffc7"/><circle cx="241.6" cy="689.1" r="3.25" fill="#00b4ff"/><circle cx="244.5" cy="688.5" r="3.25" fill="#00c3ff"/><circle cx="247.4" cy="688.0" r="3.25" fill="#75ff8a"/><circle cx="250.3" cy="687.5" r="3.25" fill="#0061ff"/><circle cx="253.2" cy="686.9" r="3.25" fill="#00a9ff"/><circle cx="256.1" cy="686.4" r="3.25" fill="#4bffb4"/><circle cx="259.0" cy="685.9" r="3.25" fill="#00f5ff"/><circle cx="261.9" cy="685.3" r="3.25" fill="#0dfff2"/><circle cx="264.9" cy="684.8" r="3.25" fill="#b3ff4c"/><circle cx="267.8" cy="684.3" r="3.25" fill="#baff45"/><circle cx="270.6" cy="683.7" r="3.25" fill="#e6ff19"/><circle cx="273.6" cy="683.2" r="3.25" fill="#c5ff3a"/><circle cx="276.5" cy="682.6" r="3.25" fill="#ff9e00"/><circle cx="279.4" cy="682.1" r="3.25" fill="#ff4d00"/><circle cx="282.2" cy="681.6" r="3.25" fill="#ff9f00"/><circle cx="285.2" cy="681.0" r="3.25" fill="#a0ff5f"/><circle cx="288.1" cy="680.5" r="3.25" fill="#ffac00"/><circle cx="291.0" cy="680.0" r="3.25" fill="#ff8100"/><circle cx="293.9" cy="679.4" r="3.25" fill="#ffe800"/><circle cx="296.8" cy="678.9" r="3.25" fill="#ffb300"/><circle cx="299.7" cy="678.4" r="3.25" fill="#ffd200"/><circle cx="302.6" cy="677.8" r="3.25" fill="#ffc800"/><circle cx="305.5" cy="677.3" r="3.25" fill="#ffc500"/><circle cx="308.4" cy="676.7" r="3.25" fill="#d6ff29"/><circle cx="311.3" cy="676.2" r="3.25" fill="#ffff00"/><circle cx="314.2" cy="675.7" r="3.25" fill="#ff6100"/><circle cx="317.1" cy="675.1" r="3.25" fill="#ff7500"/><circle cx="320.0" cy="674.6" r="3.25" fill="#800000"/><circle cx="322.9" cy="674.1" r="3.25" fill="#800000"/><circle cx="325.8" cy="673.5" r="3.25" fill="#940000"/><circle cx="234.4" cy="688.5" r="3.25" fill="#59ffa6"/><circle cx="237.3" cy="688.0" r="3.25" fill="#001aff"/><circle cx="240.2" cy="687.5" r="3.25" fill="#0000be"/><circle cx="243.1" cy="686.9" r="3.25" fill="#0036ff"/><circle cx="246.0" cy="686.4" r="3.25" fill="#89ff76"/><circle cx="248.9" cy="685.8" r="3.25" fill="#0058ff"/><circle cx="251.8" cy="685.3" r="3.25" fill="#002fff"/><circle cx="254.7" cy="684.8" r="3.25" fill="#004dff"/><circle cx="257.6" cy="684.2" r="3.25" fill="#0051ff"/><circle cx="260.5" cy="683.7" r="3.25" fill="#00c4ff"/><circle cx="263.4" cy="683.2" r="3.25" fill="#82ff7d"/><circle cx="266.3" cy="682.6" r="3.25" fill="#c1ff3e"/><circle cx="269.2" cy="682.1" r="3.25" fill="#c4ff3b"/><circle cx="272.1" cy="681.6" r="3.25" fill="#e1ff1e"/><circle cx="275.0" cy="681.0" r="3.25" fill="#f5ff0a"/><circle cx="277.9" cy="680.5" r="3.25" fill="#ff8200"/><circle cx="280.8" cy="679.9" r="3.25" fill="#68ff97"/><circle cx="283.7" cy="679.4" r="3.25" fill="#b8ff47"/><circle cx="286.6" cy="678.9" r="3.25" fill="#3bffc4"/><circle cx="289.5" cy="678.3" r="3.25" fill="#f3ff0c"/><circle cx="292.4" cy="677.8" r="3.25" fill="#fff400"/><circle cx="295.3" cy="677.3" r="3.25" fill="#ff1b00"/><circle cx="298.2" cy="676.7" r="3.25" fill="#ff3900"/><circle cx="301.1" cy="676.2" r="3.25" fill="#60ff9f"/><circle cx="304.0" cy="675.6" r="3.25" fill="#c1ff3e"/><circle cx="306.9" cy="675.1" r="3.25" fill="#e3ff1c"/><circle cx="309.8" cy="674.6" r="3.25" fill="#faff05"/><circle cx="312.7" cy="674.0" r="3.25" fill="#ff1100"/><circle cx="315.6" cy="673.5" r="3.25" fill="#ff1b00"/><circle cx="318.5" cy="673.0" r="3.25" fill="#b90000"/><circle cx="321.4" cy="672.4" r="3.25" fill="#ff5c00"/><circle cx="324.3" cy="671.9" r="3.25" fill="#ff3a00"/><circle cx="238.8" cy="685.8" r="3.25" fill="#003dff"/><circle cx="241.6" cy="685.3" r="3.25" fill="#0096ff"/><circle cx="244.5" cy="684.7" r="3.25" fill="#005fff"/><circle cx="247.4" cy="684.2" r="3.25" fill="#0058ff"/><circle cx="250.3" cy="683.7" r="3.25" fill="#004eff"/><circle cx="253.2" cy="683.1" r="3.25" fill="#00c5ff"/><circle cx="256.1" cy="682.6" r="3.25" fill="#c2ff3d"/><circle cx="259.0" cy="682.1" r="3.25" fill="#00c6ff"/><circle cx="261.9" cy="681.5" r="3.25" fill="#48ffb7"/><circle cx="264.9" cy="681.0" r="3.25" fill="#d7ff28"/><circle cx="267.8" cy="680.5" r="3.25" fill="#ffbb00"/><circle cx="270.6" cy="679.9" r="3.25" fill="#ffe300"/><circle cx="273.6" cy="679.4" r="3.25" fill="#d2ff2d"/><circle cx="276.5" cy="678.8" r="3.25" fill="#00efff"/><circle cx="279.4" cy="678.3" r="3.25" fill="#c2ff3d"/><circle cx="282.2" cy="677.8" r="3.25" fill="#fdff02"/><circle cx="285.2" cy="677.2" r="3.25" fill="#e7ff18"/><circle cx="288.1" cy="676.7" r="3.25" fill="#97ff68"/><circle cx="291.0" cy="676.2" r="3.25" fill="#2affd5"/><circle cx="293.9" cy="675.6" r="3.25" fill="#ccff33"/><circle cx="296.8" cy="675.1" r="3.25" fill="#ff3200"/><circle cx="299.7" cy="674.6" r="3.25" fill="#7dff82"/><circle cx="302.6" cy="674.0" r="3.25" fill="#d2ff2d"/><circle cx="305.5" cy="673.5" r="3.25" fill="#29ffd6"/><circle cx="308.4" cy="672.9" r="3.25" fill="#ffc400"/><circle cx="311.3" cy="672.4" r="3.25" fill="#ff3700"/><circle cx="314.2" cy="671.9" r="3.25" fill="#ff6c00"/><circle cx="317.1" cy="671.3" r="3.25" fill="#af0000"/><circle cx="320.0" cy="670.8" r="3.25" fill="#ff9800"/><circle cx="322.9" cy="670.3" r="3.25" fill="#ff8300"/><circle cx="325.8" cy="669.7" r="3.25" fill="#ff1e00"/><circle cx="237.3" cy="684.2" r="3.25" fill="#00b0ff"/><circle cx="240.2" cy="683.7" r="3.25" fill="#0045ff"/><circle cx="243.1" cy="683.1" r="3.25" fill="#0080ff"/><circle cx="246.0" cy="682.6" r="3.25" fill="#0007ff"/><circle cx="248.9" cy="682.0" r="3.25" fill="#005bff"/><circle cx="251.8" cy="681.5" r="3.25" fill="#0082ff"/><circle cx="254.7" cy="681.0" r="3.25" fill="#30ffcf"/><circle cx="257.6" cy="680.4" r="3.25" fill="#acff53"/><circle cx="260.5" cy="679.9" r="3.25" fill="#aeff51"/><circle cx="263.4" cy="679.4" r="3.25" fill="#6dff92"/><circle cx="266.3" cy="678.8" r="3.25" fill="#7fff80"/><circle cx="269.2" cy="678.3" r="3.25" fill="#4cffb3"/><circle cx="272.1" cy="677.8" r="3.25" fill="#00b7ff"/><circle cx="275.0" cy="677.2" r="3.25" fill="#10ffef"/><circle cx="277.9" cy="676.7" r="3.25" fill="#b5ff4a"/><circle cx="280.8" cy="676.1" r="3.25" fill="#34ffcb"/><circle cx="283.7" cy="675.6" r="3.25" fill="#e8ff17"/><circle cx="286.6" cy="675.1" r="3.25" fill="#fffe00"/><circle cx="289.5" cy="674.5" r="3.25" fill="#a3ff5c"/><circle cx="292.4" cy="674.0" r="3.25" fill="#ff6000"/><circle cx="295.3" cy="673.5" r="3.25" fill="#ffed00"/><circle cx="298.2" cy="672.9" r="3.25" fill="#ffd700"/><circle cx="301.1" cy="672.4" r="3.25" fill="#00f6ff"/><circle cx="304.0" cy="671.8" r="3.25" fill="#3dffc2"/><circle cx="306.9" cy="671.3" r="3.25" fill="#ff9e00"/><circle cx="309.8" cy="670.8" r="3.25" fill="#c9ff36"/><circle cx="312.7" cy="670.2" r="3.25" fill="#ff0c00"/><circle cx="315.6" cy="669.7" r="3.25" fill="#eb0000"/><circle cx="318.5" cy="669.2" r="3.25" fill="#c80000"/><circle cx="321.4" cy="668.6" r="3.25" fill="#d70000"/><circle cx="324.3" cy="668.1" r="3.25" fill="#e60000"/></g>
<text class="b t ls" x="240.8" y="466.7" text-anchor="middle">100<tspan class="d" dx="3.0" dy="-11.2">o</tspan><tspan dx="6.1" dy="11.2">W</tspan></text>
<text class="b t ls" x="305.7" y="466.7" text-anchor="middle">90<tspan class="d" dx="3.0" dy="-11.2">o</tspan><tspan dx="6.1" dy="11.2">W</tspan></text>
<text class="b t ls" x="369.5" y="466.7" text-anchor="middle">80<tspan class="d" dx="3.0" dy="-11.2">o</tspan><tspan dx="6.1" dy="11.2">W</tspan></text>
<text class="b t ls" x="432.9" y="466.7" text-anchor="middle">70<tspan class="d" dx="3.0" dy="-11.2">o</tspan><tspan dx="6.1" dy="11.2">W</tspan></text>
<text class="b t" x="186.1" y="502.4" text-anchor="end">48<tspan class="d" dx="2.3" dy="-11.2">o</tspan><tspan dx="4.6" dy="11.2">N</tspan></text>
<text class="b t" x="186.1" y="519.8" text-anchor="end">46<tspan class="d" dx="2.3" dy="-11.2">o</tspan><tspan dx="4.6" dy="11.2">N</tspan></text>
<text class="b t" x="186.1" y="537.4" text-anchor="end">44<tspan class="d" dx="2.3" dy="-11.2">o</tspan><tspan dx="4.6" dy="11.2">N</tspan></text>
<text class="b t" x="186.1" y="556.2" text-anchor="end">42<tspan class="d" dx="2.3" dy="-11.2">o</tspan><tspan dx="4.6" dy="11.2">N</tspan></text>
<text class="b t" x="186.1" y="572.3" text-anchor="end">40<tspan class="d" dx="2.3" dy="-11.2">o</tspan><tspan dx="4.6" dy="11.2">N</tspan></text>
<text class="b t" x="186.1" y="587.2" text-anchor="end">38<tspan class="d" dx="2.3" dy="-11.2">o</tspan><tspan dx="4.6" dy="11.2">N</tspan></text>
<text class="b t" x="186.1" y="604.3" text-anchor="end">36<tspan class="d" dx="2.3" dy="-11.2">o</tspan><tspan dx="4.6" dy="11.2">N</tspan></text>
<text class="b t" x="186.1" y="618.1" text-anchor="end">34<tspan class="d" dx="2.3" dy="-11.2">o</tspan><tspan dx="4.6" dy="11.2">N</tspan></text>
<text class="b t" x="186.1" y="635.1" text-anchor="end">32<tspan class="d" dx="2.3" dy="-11.2">o</tspan><tspan dx="4.6" dy="11.2">N</tspan></text>
<text class="b t" x="186.1" y="649.1" text-anchor="end">30<tspan class="d" dx="2.3" dy="-11.2">o</tspan><tspan dx="4.6" dy="11.2">N</tspan></text>
<text class="b t" x="186.1" y="662.1" text-anchor="end">28<tspan class="d" dx="2.3" dy="-11.2">o</tspan><tspan dx="4.6" dy="11.2">N</tspan></text>
<text class="b t" x="186.1" y="677.1" text-anchor="end">26<tspan class="d" dx="2.3" dy="-11.2">o</tspan><tspan dx="4.6" dy="11.2">N</tspan></text>
<text class="b t" x="186.1" y="691.2" text-anchor="end">24<tspan class="d" dx="2.3" dy="-11.2">o</tspan><tspan dx="4.6" dy="11.2">N</tspan></text>
<text class="b t" x="186.1" y="704.0" text-anchor="end">22<tspan class="d" dx="2.3" dy="-11.2">o</tspan><tspan dx="4.6" dy="11.2">N</tspan></text>
<text class="b p" x="307.5" y="730.8" text-anchor="middle">SAT-RAP 850 hPa Temp (K)</text>
<rect x="441.20" y="485.00" width="23.80" height="215.20" fill="url(#jet)" stroke="#262626" stroke-width="0.6"/>
<path d="M465.00 485.00h-2.4" stroke="#262626" stroke-width="0.7"/><text class="b c" x="473.3" y="493.0">2</text>
<path d="M465.00 538.80h-2.4" stroke="#262626" stroke-width="0.7"/><text class="b c" x="473.3" y="546.8">1</text>
<path d="M465.00 592.60h-2.4" stroke="#262626" stroke-width="0.7"/><text class="b c" x="473.3" y="600.6">0</text>
<path d="M465.00 646.40h-2.4" stroke="#262626" stroke-width="0.7"/><text class="b c" x="473.3" y="654.4">-1</text>
<path d="M465.00 700.20h-2.4" stroke="#262626" stroke-width="0.7"/><text class="b c" x="473.3" y="708.2">-2</text>
</g>
<g>
<rect x="616.40" y="486.05" width="234.10" height="213.05" fill="#fff" stroke="#000" stroke-width="1" shape-rendering="crispEdges"/>
<g clip-path="url(#cp4)"><use href="#usmap" transform="translate(617.10 486.60) scale(0.062946 0.062769)"/></g>
<g><circle cx="742.3" cy="699.1" r="3.25" fill="#8eff71"/><circle cx="745.2" cy="698.6" r="3.25" fill="#8dff72"/><circle cx="748.1" cy="698.1" r="3.25" fill="#00e0ff"/><circle cx="732.1" cy="699.1" r="3.25" fill="#c8ff37"/><circle cx="735.0" cy="698.6" r="3.25" fill="#d5ff2a"/><circle cx="737.9" cy="698.0" r="3.25" fill="#f6ff09"/><circle cx="740.8" cy="697.5" r="3.25" fill="#9eff61"/><circle cx="743.7" cy="697.0" r="3.25" fill="#81ff7e"/><circle cx="746.6" cy="696.4" r="3.25" fill="#00edff"/><circle cx="749.5" cy="695.9" r="3.25" fill="#00dcff"/><circle cx="721.9" cy="699.1" r="3.25" fill="#d4ff2b"/><circle cx="724.8" cy="698.5" r="3.25" fill="#e8ff17"/><circle cx="727.7" cy="698.0" r="3.25" fill="#f2ff0d"/><circle cx="730.6" cy="697.5" r="3.25" fill="#b9ff46"/><circle cx="733.5" cy="696.9" r="3.25" fill="#cbff34"/><circle cx="736.5" cy="696.4" r="3.25" fill="#ecff13"/><circle cx="739.4" cy="695.9" r="3.25" fill="#beff41"/><circle cx="742.3" cy="695.3" r="3.25" fill="#8bff74"/><circle cx="745.2" cy="694.8" r="3.25" fill="#a3ff5c"/><circle cx="748.1" cy="694.3" r="3.25" fill="#18ffe7"/><circle cx="711.8" cy="699.1" r="3.25" fill="#beff41"/><circle cx="714.7" cy="698.5" r="3.25" fill="#d2ff2d"/><circle cx="717.6" cy="698.0" r="3.25" fill="#e8ff17"/><circle cx="720.5" cy="697.5" r="3.25" fill="#ddff22"/><circle cx="723.4" cy="696.9" r="3.25" fill="#ccff33"/><circle cx="726.3" cy="696.4" r="3.25" fill="#beff41"/><circle cx="729.2" cy="695.8" r="3.25" fill="#c6ff39"/><circle cx="732.1" cy="695.3" r="3.25" fill="#e9ff16"/><circle cx="735.0" cy="694.8" r="3.25" fill="#ddff22"/><circle cx="737.9" cy="694.2" r="3.25" fill="#c7ff38"/><circle cx="740.8" cy="693.7" r="3.25" fill="#ceff31"/><circle cx="743.7" cy="693.2" r="3.25" fill="#c6ff39"/><circle cx="746.6" cy="692.6" r="3.25" fill="#0bfff4"/><circle cx="749.5" cy="692.1" r="3.25" fill="#00ceff"/><circle cx="701.6" cy="699.0" r="3.25" fill="#9aff65"/><circle cx="704.5" cy="698.5" r="3.25" fill="#a3ff5c"/><circle cx="707.4" cy="698.0" r="3.25" fill="#83ff7c"/><circle cx="710.3" cy="697.4" r="3.25" fill="#b9ff46"/><circle cx="713.2" cy="696.9" r="3.25" fill="#cdff32"/><circle cx="716.1" cy="696.4" r="3.25" fill="#e9ff16"/><circle cx="719.0" cy="695.8" r="3.25" fill="#deff21"/><circle cx="721.9" cy="695.3" r="3.25" fill="#b4ff4b"/><circle cx="724.8" cy="694.7" r="3.25" fill="#bfff40"/><circle cx="727.7" cy="694.2" r="3.25" fill="#c5ff3a"/><circle cx="730.6" cy="693.7" r="3.25" fill="#d7ff28"/><circle cx="733.5" cy="693.1" r="3.25" fill="#d1ff2e"/><circle cx="736.5" cy="692.6" r="3.25" fill="#b9ff46"/><circle cx="739.4" cy="692.1" r="3.25" fill="#b1ff4e"/><circle cx="742.3" cy="691.5" r="3.25" fill="#bdff42"/><circle cx="745.2" cy="691.0" r="3.25" fill="#8bff74"/><circle cx="748.1" cy="690.4" r="3.25" fill="#00d5ff"/><circle cx="691.4" cy="699.0" r="3.25" fill="#0029ff"/><circle cx="694.3" cy="698.5" r="3.25" fill="#0021ff"/><circle cx="697.3" cy="697.9" r="3.25" fill="#0099ff"/><circle cx="700.2" cy="697.4" r="3.25" fill="#68ff97"/><circle cx="703.1" cy="696.9" r="3.25" fill="#afff50"/><circle cx="706.0" cy="696.3" r="3.25" fill="#96ff69"/><circle cx="708.9" cy="695.8" r="3.25" fill="#abff54"/><circle cx="711.8" cy="695.3" r="3.25" fill="#bcff43"/><circle cx="714.7" cy="694.7" r="3.25" fill="#b8ff47"/><circle cx="717.6" cy="694.2" r="3.25" fill="#a8ff57"/><circle cx="720.5" cy="693.6" r="3.25" fill="#beff41"/><circle cx="723.4" cy="693.1" r="3.25" fill="#ceff31"/><circle cx="726.3" cy="692.6" r="3.25" fill="#c9ff36"/><circle cx="729.2" cy="692.0" r="3.25" fill="#c0ff3f"/><circle cx="732.1" cy="691.5" r="3.25" fill="#a5ff5a"/><circle cx="735.0" cy="691.0" r="3.25" fill="#a5ff5a"/><circle cx="737.9" cy="690.4" r="3.25" fill="#97ff68"/><circle cx="740.8" cy="689.9" r="3.25" fill="#9bff64"/><circle cx="743.7" cy="689.4" r="3.25" fill="#8aff75"/><circle cx="746.6" cy="688.8" r="3.25" fill="#00e9ff"/><circle cx="681.3" cy="699.0" r="3.25" fill="#005bff"/><circle cx="684.2" cy="698.5" r="3.25" fill="#00acff"/><circle cx="687.1" cy="697.9" r="3.25" fill="#0083ff"/><circle cx="690.0" cy="697.4" r="3.25" fill="#0000eb"/><circle cx="692.9" cy="696.8" r="3.25" fill="#0000eb"/><circle cx="695.8" cy="696.3" r="3.25" fill="#001eff"/><circle cx="698.7" cy="695.8" r="3.25" fill="#06fff9"/><circle cx="701.6" cy="695.2" r="3.25" fill="#8cff73"/><circle cx="704.5" cy="694.7" r="3.25" fill="#8cff73"/><circle cx="707.4" cy="694.2" r="3.25" fill="#abff54"/><circle cx="710.3" cy="693.6" r="3.25" fill="#9dff62"/><circle cx="713.2" cy="693.1" r="3.25" fill="#9aff65"/><circle cx="716.1" cy="692.6" r="3.25" fill="#bbff44"/><circle cx="719.0" cy="692.0" r="3.25" fill="#d5ff2a"/><circle cx="721.9" cy="691.5" r="3.25" fill="#c4ff3b"/><circle cx="724.8" cy="690.9" r="3.25" fill="#c9ff36"/><circle cx="727.7" cy="690.4" r="3.25" fill="#e0ff1f"/><circle cx="730.6" cy="689.9" r="3.25" fill="#d6ff29"/><circle cx="733.5" cy="689.3" r="3.25" fill="#cbff34"/><circle cx="736.5" cy="688.8" r="3.25" fill="#96ff69"/><circle cx="739.4" cy="688.3" r="3.25" fill="#9aff65"/><circle cx="742.3" cy="687.7" r="3.25" fill="#abff54"/><circle cx="745.2" cy="687.2" r="3.25" fill="#a0ff5f"/><circle cx="748.1" cy="686.6" r="3.25" fill="#00f4ff"/><circle cx="671.1" cy="699.0" r="3.25" fill="#ff4b00"/><circle cx="674.0" cy="698.4" r="3.25" fill="#d9ff26"/><circle cx="676.9" cy="697.9" r="3.25" fill="#00bfff"/><circle cx="679.8" cy="697.4" r="3.25" fill="#000097"/><circle cx="682.7" cy="696.8" r="3.25" fill="#000dff"/><circle cx="685.6" cy="696.3" r="3.25" fill="#00008e"/><circle cx="688.5" cy="695.8" r="3.25" fill="#000080"/><circle cx="691.4" cy="695.2" r="3.25" fill="#0000cb"/><circle cx="694.3" cy="694.7" r="3.25" fill="#007cff"/><circle cx="697.3" cy="694.1" r="3.25" fill="#0041ff"/><circle cx="700.2" cy="693.6" r="3.25" fill="#35ffca"/><circle cx="703.1" cy="693.1" r="3.25" fill="#6bff94"/><circle cx="706.0" cy="692.5" r="3.25" fill="#94ff6b"/><circle cx="708.9" cy="692.0" r="3.25" fill="#a3ff5c"/><circle cx="711.8" cy="691.5" r="3.25" fill="#cfff30"/><circle cx="714.7" cy="690.9" r="3.25" fill="#e1ff1e"/><circle cx="717.6" cy="690.4" r="3.25" fill="#f6ff09"/><circle cx="720.5" cy="689.8" r="3.25" fill="#beff41"/><circle cx="723.4" cy="689.3" r="3.25" fill="#acff53"/><circle cx="726.3" cy="688.8" r="3.25" fill="#f6ff09"/><circle cx="729.2" cy="688.2" r="3.25" fill="#e3ff1c"/><circle cx="732.1" cy="687.7" r="3.25" fill="#baff45"/><circle cx="735.0" cy="687.2" r="3.25" fill="#b0ff4f"/><circle cx="737.9" cy="686.6" r="3.25" fill="#aaff55"/><circle cx="740.8" cy="686.1" r="3.25" fill="#b2ff4d"/><circle cx="743.7" cy="685.5" r="3.25" fill="#aaff55"/><circle cx="746.6" cy="685.0" r="3.25" fill="#11ffee"/><circle cx="661.0" cy="699.0" r="3.25" fill="#00b2ff"/><circle cx="663.9" cy="698.4" r="3.25" fill="#ebff14"/><circle cx="666.8" cy="697.9" r="3.25" fill="#ff3a00"/><circle cx="669.7" cy="697.3" r="3.25" fill="#ff3b00"/><circle cx="672.6" cy="696.8" r="3.25" fill="#ff4c00"/><circle cx="675.5" cy="696.3" r="3.25" fill="#0000f9"/><circle cx="678.4" cy="695.7" r="3.25" fill="#0029ff"/><circle cx="681.3" cy="695.2" r="3.25" fill="#0000af"/><circle cx="684.2" cy="694.7" r="3.25" fill="#0000a8"/><circle cx="687.1" cy="694.1" r="3.25" fill="#0000e2"/><circle cx="690.0" cy="693.6" r="3.25" fill="#0000c3"/><circle cx="692.9" cy="693.0" r="3.25" fill="#0079ff"/><circle cx="695.8" cy="692.5" r="3.25" fill="#0005ff"/><circle cx="698.7" cy="692.0" r="3.25" fill="#16ffe9"/><circle cx="701.6" cy="691.4" r="3.25" fill="#9fff60"/><circle cx="704.5" cy="690.9" r="3.25" fill="#9bff64"/><circle cx="707.4" cy="690.4" r="3.25" fill="#9eff61"/><circle cx="710.3" cy="689.8" r="3.25" fill="#d9ff26"/><circle cx="713.2" cy="689.3" r="3.25" fill="#f2ff0d"/><circle cx="716.1" cy="688.7" r="3.25" fill="#fffe00"/><circle cx="719.0" cy="688.2" r="3.25" fill="#efff10"/><circle cx="721.9" cy="687.7" r="3.25" fill="#e4ff1b"/><circle cx="724.8" cy="687.1" r="3.25" fill="#e9ff16"/><circle cx="727.7" cy="686.6" r="3.25" fill="#d2ff2d"/><circle cx="730.6" cy="686.1" r="3.25" fill="#b8ff47"/><circle cx="733.5" cy="685.5" r="3.25" fill="#b7ff48"/><circle cx="736.5" cy="685.0" r="3.25" fill="#a0ff5f"/><circle cx="739.4" cy="684.5" r="3.25" fill="#a1ff5e"/><circle cx="742.3" cy="683.9" r="3.25" fill="#b3ff4c"/><circle cx="745.2" cy="683.4" r="3.25" fill="#a8ff57"/><circle cx="748.1" cy="682.8" r="3.25" fill="#00f8ff"/><circle cx="650.8" cy="698.9" r="3.25" fill="#003dff"/><circle cx="653.7" cy="698.4" r="3.25" fill="#0032ff"/><circle cx="656.6" cy="697.9" r="3.25" fill="#00d9ff"/><circle cx="659.5" cy="697.3" r="3.25" fill="#008aff"/><circle cx="662.4" cy="696.8" r="3.25" fill="#1dffe2"/><circle cx="665.3" cy="696.2" r="3.25" fill="#ff4b00"/><circle cx="668.2" cy="695.7" r="3.25" fill="#ff6500"/><circle cx="671.1" cy="695.2" r="3.25" fill="#ff6700"/><circle cx="674.0" cy="694.6" r="3.25" fill="#d1ff2e"/><circle cx="676.9" cy="694.1" r="3.25" fill="#004aff"/><circle cx="679.8" cy="693.6" r="3.25" fill="#0000b4"/><circle cx="682.7" cy="693.0" r="3.25" fill="#0000dc"/><circle cx="685.6" cy="692.5" r="3.25" fill="#0000c7"/><circle cx="688.5" cy="691.9" r="3.25" fill="#009eff"/><circle cx="691.4" cy="691.4" r="3.25" fill="#00bbff"/><circle cx="694.3" cy="690.9" r="3.25" fill="#00b6ff"/><circle cx="697.3" cy="690.3" r="3.25" fill="#0019ff"/><circle cx="700.2" cy="689.8" r="3.25" fill="#76ff89"/><circle cx="703.1" cy="689.3" r="3.25" fill="#aeff51"/><circle cx="706.0" cy="688.7" r="3.25" fill="#aeff51"/><circle cx="708.9" cy="688.2" r="3.25" fill="#c5ff3a"/><circle cx="711.8" cy="687.7" r="3.25" fill="#cdff32"/><circle cx="714.7" cy="687.1" r="3.25" fill="#dfff20"/><circle cx="717.6" cy="686.6" r="3.25" fill="#f1ff0e"/><circle cx="720.5" cy="686.0" r="3.25" fill="#d2ff2d"/><circle cx="723.4" cy="685.5" r="3.25" fill="#b1ff4e"/><circle cx="726.3" cy="685.0" r="3.25" fill="#97ff68"/><circle cx="729.2" cy="684.4" r="3.25" fill="#a5ff5a"/><circle cx="732.1" cy="683.9" r="3.25" fill="#d9ff26"/><circle cx="735.0" cy="683.4" r="3.25" fill="#c3ff3c"/><circle cx="737.9" cy="682.8" r="3.25" fill="#9dff62"/><circle cx="740.8" cy="682.3" r="3.25" fill="#b9ff46"/><circle cx="743.7" cy="681.7" r="3.25" fill="#adff52"/><circle cx="746.6" cy="681.2" r="3.25" fill="#00f2ff"/><circle cx="640.6" cy="698.9" r="3.25" fill="#0074ff"/><circle cx="643.5" cy="698.4" r="3.25" fill="#0071ff"/><circle cx="646.4" cy="697.8" r="3.25" fill="#00d9ff"/><circle cx="649.3" cy="697.3" r="3.25" fill="#0075ff"/><circle cx="652.2" cy="696.8" r="3.25" fill="#00e1ff"/><circle cx="655.1" cy="696.2" r="3.25" fill="#0033ff"/><circle cx="658.1" cy="695.7" r="3.25" fill="#00aeff"/><circle cx="661.0" cy="695.1" r="3.25" fill="#00b8ff"/><circle cx="663.9" cy="694.6" r="3.25" fill="#efff10"/><circle cx="666.8" cy="694.1" r="3.25" fill="#ff0f00"/><circle cx="669.7" cy="693.5" r="3.25" fill="#ff3a00"/><circle cx="672.6" cy="693.0" r="3.25" fill="#ff6500"/><circle cx="675.5" cy="692.5" r="3.25" fill="#005cff"/><circle cx="678.4" cy="691.9" r="3.25" fill="#0000f2"/><circle cx="681.3" cy="691.4" r="3.25" fill="#0089ff"/><circle cx="684.2" cy="690.9" r="3.25" fill="#000080"/><circle cx="687.1" cy="690.3" r="3.25" fill="#0000ef"/><circle cx="690.0" cy="689.8" r="3.25" fill="#0000cb"/><circle cx="692.9" cy="689.2" r="3.25" fill="#0026ff"/><circle cx="695.8" cy="688.7" r="3.25" fill="#00c5ff"/><circle cx="698.7" cy="688.2" r="3.25" fill="#0071ff"/><circle cx="701.6" cy="687.6" r="3.25" fill="#71ff8e"/><circle cx="704.5" cy="687.1" r="3.25" fill="#8dff72"/><circle cx="707.4" cy="686.6" r="3.25" fill="#bcff43"/><circle cx="710.3" cy="686.0" r="3.25" fill="#b7ff48"/><circle cx="713.2" cy="685.5" r="3.25" fill="#a1ff5e"/><circle cx="716.1" cy="684.9" r="3.25" fill="#93ff6c"/><circle cx="719.0" cy="684.4" r="3.25" fill="#97ff68"/><circle cx="721.9" cy="683.9" r="3.25" fill="#b3ff4c"/><circle cx="724.8" cy="683.3" r="3.25" fill="#b5ff4a"/><circle cx="727.7" cy="682.8" r="3.25" fill="#a3ff5c"/><circle cx="730.6" cy="682.3" r="3.25" fill="#eaff15"/><circle cx="733.5" cy="681.7" r="3.25" fill="#dcff23"/><circle cx="736.5" cy="681.2" r="3.25" fill="#b3ff4c"/><circle cx="739.4" cy="680.6" r="3.25" fill="#afff50"/><circle cx="742.3" cy="680.1" r="3.25" fill="#a8ff57"/><circle cx="745.2" cy="679.6" r="3.25" fill="#9eff61"/><circle cx="748.1" cy="679.0" r="3.25" fill="#09fff6"/><circle cx="630.5" cy="698.9" r="3.25" fill="#0007ff"/><circle cx="633.4" cy="698.3" r="3.25" fill="#0072ff"/><circle cx="636.3" cy="697.8" r="3.25" fill="#00dfff"/><circle cx="639.2" cy="697.3" r="3.25" fill="#0008ff"/><circle cx="642.1" cy="696.7" r="3.25" fill="#009eff"/><circle cx="645.0" cy="696.2" r="3.25" fill="#00cdff"/><circle cx="647.9" cy="695.7" r="3.25" fill="#0009ff"/><circle cx="650.8" cy="695.1" r="3.25" fill="#00b2ff"/><circle cx="653.7" cy="694.6" r="3.25" fill="#0077ff"/><circle cx="656.6" cy="694.1" r="3.25" fill="#0058ff"/><circle cx="659.5" cy="693.5" r="3.25" fill="#0043ff"/><circle cx="662.4" cy="693.0" r="3.25" fill="#12ffed"/><circle cx="665.3" cy="692.4" r="3.25" fill="#ff2c00"/><circle cx="668.2" cy="691.9" r="3.25" fill="#ff4a00"/><circle cx="671.1" cy="691.4" r="3.25" fill="#ff3500"/><circle cx="674.0" cy="690.8" r="3.25" fill="#ccff33"/><circle cx="676.9" cy="690.3" r="3.25" fill="#0000f8"/><circle cx="679.8" cy="689.8" r="3.25" fill="#0000c7"/><circle cx="682.7" cy="689.2" r="3.25" fill="#0000d1"/><circle cx="685.6" cy="688.7" r="3.25" fill="#0000f3"/><circle cx="688.5" cy="688.1" r="3.25" fill="#0000d2"/><circle cx="691.4" cy="687.6" r="3.25" fill="#0011ff"/><circle cx="694.3" cy="687.1" r="3.25" fill="#0060ff"/><circle cx="697.3" cy="686.5" r="3.25" fill="#00e6ff"/><circle cx="700.2" cy="686.0" r="3.25" fill="#47ffb8"/><circle cx="703.1" cy="685.5" r="3.25" fill="#84ff7b"/><circle cx="706.0" cy="684.9" r="3.25" fill="#abff54"/><circle cx="708.9" cy="684.4" r="3.25" fill="#b4ff4b"/><circle cx="711.8" cy="683.8" r="3.25" fill="#b9ff46"/><circle cx="714.7" cy="683.3" r="3.25" fill="#bfff40"/><circle cx="717.6" cy="682.8" r="3.25" fill="#a5ff5a"/><circle cx="720.5" cy="682.2" r="3.25" fill="#cfff30"/><circle cx="723.4" cy="681.7" r="3.25" fill="#ceff31"/><circle cx="726.3" cy="681.2" r="3.25" fill="#a1ff5e"/><circle cx="729.2" cy="680.6" r="3.25" fill="#a0ff5f"/><circle cx="732.1" cy="680.1" r="3.25" fill="#a9ff56"/><circle cx="735.0" cy="679.6" r="3.25" fill="#b9ff46"/><circle cx="737.9" cy="679.0" r="3.25" fill="#b5ff4a"/><circle cx="740.8" cy="678.5" r="3.25" fill="#baff45"/><circle cx="743.7" cy="677.9" r="3.25" fill="#b5ff4a"/><circle cx="746.6" cy="677.4" r="3.25" fill="#14ffeb"/><circle cx="620.3" cy="698.9" r="3.25" fill="#0000e2"/><circle cx="623.2" cy="698.3" r="3.25" fill="#0000ec"/><circle cx="626.1" cy="697.8" r="3.25" fill="#000080"/><circle cx="629.0" cy="697.3" r="3.25" fill="#0013ff"/><circle cx="631.9" cy="696.7" r="3.25" fill="#00abff"/><circle cx="634.8" cy="696.2" r="3.25" fill="#00d7ff"/><circle cx="637.7" cy="695.6" r="3.25" fill="#0066ff"/><circle cx="640.6" cy="695.1" r="3.25" fill="#0070ff"/><circle cx="643.5" cy="694.6" r="3.25" fill="#00f4ff"/><circle cx="646.4" cy="694.0" r="3.25" fill="#005cff"/><circle cx="649.3" cy="693.5" r="3.25" fill="#0080ff"/><circle cx="652.2" cy="693.0" r="3.25" fill="#0085ff"/><circle cx="655.1" cy="692.4" r="3.25" fill="#0085ff"/><circle cx="658.1" cy="691.9" r="3.25" fill="#42ffbd"/><circle cx="661.0" cy="691.3" r="3.25" fill="#00dbff"/><circle cx="663.9" cy="690.8" r="3.25" fill="#f8ff07"/><circle cx="666.8" cy="690.3" r="3.25" fill="#ff3d00"/><circle cx="669.7" cy="689.7" r="3.25" fill="#ff2c00"/><circle cx="672.6" cy="689.2" r="3.25" fill="#ff2900"/><circle cx="675.5" cy="688.7" r="3.25" fill="#00c9ff"/><circle cx="678.4" cy="688.1" r="3.25" fill="#0000eb"/><circle cx="681.3" cy="687.6" r="3.25" fill="#004cff"/><circle cx="684.2" cy="687.0" r="3.25" fill="#0000ac"/><circle cx="687.1" cy="686.5" r="3.25" fill="#006bff"/><circle cx="690.0" cy="686.0" r="3.25" fill="#000080"/><circle cx="692.9" cy="685.4" r="3.25" fill="#000082"/><circle cx="695.8" cy="684.9" r="3.25" fill="#00a3ff"/><circle cx="698.7" cy="684.4" r="3.25" fill="#00c9ff"/><circle cx="701.6" cy="683.8" r="3.25" fill="#00f8ff"/><circle cx="704.5" cy="683.3" r="3.25" fill="#0cfff3"/><circle cx="707.4" cy="682.8" r="3.25" fill="#29ffd6"/><circle cx="710.3" cy="682.2" r="3.25" fill="#62ff9d"/><circle cx="713.2" cy="681.7" r="3.25" fill="#61ff9e"/><circle cx="716.1" cy="681.1" r="3.25" fill="#5cffa3"/><circle cx="719.0" cy="680.6" r="3.25" fill="#64ff9b"/><circle cx="721.9" cy="680.1" r="3.25" fill="#45ffba"/><circle cx="724.8" cy="679.5" r="3.25" fill="#41ffbe"/><circle cx="727.7" cy="679.0" r="3.25" fill="#3fffc0"/><circle cx="730.6" cy="678.5" r="3.25" fill="#59ffa6"/><circle cx="733.5" cy="677.9" r="3.25" fill="#5cffa3"/><circle cx="736.5" cy="677.4" r="3.25" fill="#54ffab"/><circle cx="739.4" cy="676.8" r="3.25" fill="#41ffbe"/><circle cx="742.3" cy="676.3" r="3.25" fill="#00f8ff"/><circle cx="745.2" cy="675.8" r="3.25" fill="#04fffb"/><circle cx="618.9" cy="697.2" r="3.25" fill="#0000e5"/><circle cx="621.8" cy="696.7" r="3.25" fill="#000080"/><circle cx="624.7" cy="696.2" r="3.25" fill="#0000b7"/><circle cx="627.6" cy="695.6" r="3.25" fill="#0000ed"/><circle cx="630.5" cy="695.1" r="3.25" fill="#0031ff"/><circle cx="633.4" cy="694.5" r="3.25" fill="#0020ff"/><circle cx="636.3" cy="694.0" r="3.25" fill="#009bff"/><circle cx="639.2" cy="693.5" r="3.25" fill="#00c2ff"/><circle cx="642.1" cy="692.9" r="3.25" fill="#0051ff"/><circle cx="645.0" cy="692.4" r="3.25" fill="#003dff"/><circle cx="647.9" cy="691.9" r="3.25" fill="#0000d7"/><circle cx="650.8" cy="691.3" r="3.25" fill="#1bffe4"/><circle cx="653.7" cy="690.8" r="3.25" fill="#00d5ff"/><circle cx="656.6" cy="690.2" r="3.25" fill="#004bff"/><circle cx="659.5" cy="689.7" r="3.25" fill="#00a3ff"/><circle cx="662.4" cy="689.2" r="3.25" fill="#3affc5"/><circle cx="665.3" cy="688.6" r="3.25" fill="#ff1e00"/><circle cx="668.2" cy="688.1" r="3.25" fill="#ff2400"/><circle cx="671.1" cy="687.6" r="3.25" fill="#ff5500"/><circle cx="674.0" cy="687.0" r="3.25" fill="#35ffca"/><circle cx="676.9" cy="686.5" r="3.25" fill="#0000ea"/><circle cx="679.8" cy="686.0" r="3.25" fill="#0049ff"/><circle cx="682.7" cy="685.4" r="3.25" fill="#000080"/><circle cx="685.6" cy="684.9" r="3.25" fill="#0025ff"/><circle cx="688.5" cy="684.3" r="3.25" fill="#0028ff"/><circle cx="691.4" cy="683.8" r="3.25" fill="#000080"/><circle cx="694.3" cy="683.3" r="3.25" fill="#00c3ff"/><circle cx="697.3" cy="682.7" r="3.25" fill="#0016ff"/><circle cx="700.2" cy="682.2" r="3.25" fill="#00baff"/><circle cx="703.1" cy="681.7" r="3.25" fill="#00f0ff"/><circle cx="706.0" cy="681.1" r="3.25" fill="#3dffc2"/><circle cx="708.9" cy="680.6" r="3.25" fill="#5cffa3"/><circle cx="711.8" cy="680.0" r="3.25" fill="#3affc5"/><circle cx="714.7" cy="679.5" r="3.25" fill="#41ffbe"/><circle cx="717.6" cy="679.0" r="3.25" fill="#36ffc9"/><circle cx="720.5" cy="678.4" r="3.25" fill="#58ffa7"/><circle cx="723.4" cy="677.9" r="3.25" fill="#6fff90"/><circle cx="726.3" cy="677.4" r="3.25" fill="#4cffb3"/><circle cx="729.2" cy="676.8" r="3.25" fill="#55ffaa"/><circle cx="732.1" cy="676.3" r="3.25" fill="#88ff77"/><circle cx="735.0" cy="675.7" r="3.25" fill="#7fff80"/><circle cx="737.9" cy="675.2" r="3.25" fill="#5effa1"/><circle cx="740.8" cy="674.7" r="3.25" fill="#27ffd8"/><circle cx="743.7" cy="674.1" r="3.25" fill="#1affe5"/><circle cx="746.6" cy="673.6" r="3.25" fill="#004bff"/><circle cx="617.4" cy="695.6" r="3.25" fill="#000080"/><circle cx="620.3" cy="695.1" r="3.25" fill="#002fff"/><circle cx="623.2" cy="694.5" r="3.25" fill="#000080"/><circle cx="626.1" cy="694.0" r="3.25" fill="#0033ff"/><circle cx="629.0" cy="693.4" r="3.25" fill="#0000ec"/><circle cx="631.9" cy="692.9" r="3.25" fill="#0009ff"/><circle cx="634.8" cy="692.4" r="3.25" fill="#009bff"/><circle cx="637.7" cy="691.8" r="3.25" fill="#18ffe7"/><circle cx="640.6" cy="691.3" r="3.25" fill="#00b4ff"/><circle cx="643.5" cy="690.8" r="3.25" fill="#0024ff"/><circle cx="646.4" cy="690.2" r="3.25" fill="#0045ff"/><circle cx="649.3" cy="689.7" r="3.25" fill="#13ffec"/><circle cx="652.2" cy="689.2" r="3.25" fill="#00caff"/><circle cx="655.1" cy="688.6" r="3.25" fill="#0000f8"/><circle cx="658.1" cy="688.1" r="3.25" fill="#0090ff"/><circle cx="661.0" cy="687.5" r="3.25" fill="#00dbff"/><circle cx="663.9" cy="687.0" r="3.25" fill="#ebff14"/><circle cx="666.8" cy="686.5" r="3.25" fill="#ff1400"/><circle cx="669.7" cy="685.9" r="3.25" fill="#ff3600"/><circle cx="672.6" cy="685.4" r="3.25" fill="#ff4800"/><circle cx="675.5" cy="684.9" r="3.25" fill="#0000a8"/><circle cx="678.4" cy="684.3" r="3.25" fill="#0017ff"/><circle cx="681.3" cy="683.8" r="3.25" fill="#005cff"/><circle cx="684.2" cy="683.2" r="3.25" fill="#0076ff"/><circle cx="687.1" cy="682.7" r="3.25" fill="#00008f"/><circle cx="690.0" cy="682.2" r="3.25" fill="#0000da"/><circle cx="692.9" cy="681.6" r="3.25" fill="#00b5ff"/><circle cx="695.8" cy="681.1" r="3.25" fill="#0011ff"/><circle cx="698.7" cy="680.6" r="3.25" fill="#00c9ff"/><circle cx="701.6" cy="680.0" r="3.25" fill="#00e7ff"/><circle cx="704.5" cy="679.5" r="3.25" fill="#27ffd8"/><circle cx="707.4" cy="678.9" r="3.25" fill="#3bffc4"/><circle cx="710.3" cy="678.4" r="3.25" fill="#21ffde"/><circle cx="713.2" cy="677.9" r="3.25" fill="#16ffe9"/><circle cx="716.1" cy="677.3" r="3.25" fill="#1effe1"/><circle cx="719.0" cy="676.8" r="3.25" fill="#41ffbe"/><circle cx="721.9" cy="676.3" r="3.25" fill="#7eff81"/><circle cx="724.8" cy="675.7" r="3.25" fill="#5dffa2"/><circle cx="727.7" cy="675.2" r="3.25" fill="#4fffb0"/><circle cx="730.6" cy="674.7" r="3.25" fill="#58ffa7"/><circle cx="733.5" cy="674.1" r="3.25" fill="#3affc5"/><circle cx="736.5" cy="673.6" r="3.25" fill="#3affc5"/><circle cx="739.4" cy="673.0" r="3.25" fill="#35ffca"/><circle cx="742.3" cy="672.5" r="3.25" fill="#31ffce"/><circle cx="745.2" cy="672.0" r="3.25" fill="#01fffe"/><circle cx="618.9" cy="693.4" r="3.25" fill="#0000c6"/><circle cx="621.8" cy="692.9" r="3.25" fill="#0000c9"/><circle cx="624.7" cy="692.4" r="3.25" fill="#0000e1"/><circle cx="627.6" cy="691.8" r="3.25" fill="#0019ff"/><circle cx="630.5" cy="691.3" r="3.25" fill="#00b1ff"/><circle cx="633.4" cy="690.7" r="3.25" fill="#0064ff"/><circle cx="636.3" cy="690.2" r="3.25" fill="#000fff"/><circle cx="639.2" cy="689.7" r="3.25" fill="#008bff"/><circle cx="642.1" cy="689.1" r="3.25" fill="#3dffc2"/><circle cx="645.0" cy="688.6" r="3.25" fill="#a4ff5b"/><circle cx="647.9" cy="688.1" r="3.25" fill="#ceff31"/><circle cx="650.8" cy="687.5" r="3.25" fill="#d6ff29"/><circle cx="653.7" cy="687.0" r="3.25" fill="#8eff71"/><circle cx="656.6" cy="686.4" r="3.25" fill="#52ffad"/><circle cx="659.5" cy="685.9" r="3.25" fill="#30ffcf"/><circle cx="662.4" cy="685.4" r="3.25" fill="#3effc1"/><circle cx="665.3" cy="684.8" r="3.25" fill="#ff3b00"/><circle cx="668.2" cy="684.3" r="3.25" fill="#ff2700"/><circle cx="671.1" cy="683.8" r="3.25" fill="#ff2700"/><circle cx="674.0" cy="683.2" r="3.25" fill="#0014ff"/><circle cx="676.9" cy="682.7" r="3.25" fill="#00c0ff"/><circle cx="679.8" cy="682.1" r="3.25" fill="#25ffda"/><circle cx="682.7" cy="681.6" r="3.25" fill="#3dffc2"/><circle cx="685.6" cy="681.1" r="3.25" fill="#001bff"/><circle cx="688.5" cy="680.5" r="3.25" fill="#0000d9"/><circle cx="691.4" cy="680.0" r="3.25" fill="#0000f8"/><circle cx="694.3" cy="679.5" r="3.25" fill="#0000f3"/><circle cx="697.3" cy="678.9" r="3.25" fill="#0013ff"/><circle cx="700.2" cy="678.4" r="3.25" fill="#00acff"/><circle cx="703.1" cy="677.9" r="3.25" fill="#00a6ff"/><circle cx="706.0" cy="677.3" r="3.25" fill="#005fff"/><circle cx="708.9" cy="676.8" r="3.25" fill="#006bff"/><circle cx="711.8" cy="676.2" r="3.25" fill="#007fff"/><circle cx="714.7" cy="675.7" r="3.25" fill="#0097ff"/><circle cx="717.6" cy="675.2" r="3.25" fill="#00b2ff"/><circle cx="720.5" cy="674.6" r="3.25" fill="#00c8ff"/><circle cx="723.4" cy="674.1" r="3.25" fill="#00d1ff"/><circle cx="726.3" cy="673.6" r="3.25" fill="#09fff6"/><circle cx="729.2" cy="673.0" r="3.25" fill="#5affa5"/><circle cx="732.1" cy="672.5" r="3.25" fill="#ffc700"/><circle cx="735.0" cy="671.9" r="3.25" fill="#b1ff4e"/><circle cx="737.9" cy="671.4" r="3.25" fill="#00f9ff"/><circle cx="740.8" cy="670.9" r="3.25" fill="#00fbff"/><circle cx="743.7" cy="670.3" r="3.25" fill="#00f7ff"/><circle cx="746.6" cy="669.8" r="3.25" fill="#00f8ff"/><circle cx="617.4" cy="691.8" r="3.25" fill="#0000b3"/><circle cx="620.3" cy="691.3" r="3.25" fill="#0000d7"/><circle cx="623.2" cy="690.7" r="3.25" fill="#0000e4"/><circle cx="626.1" cy="690.2" r="3.25" fill="#0000e8"/><circle cx="629.0" cy="689.6" r="3.25" fill="#0073ff"/><circle cx="631.9" cy="689.1" r="3.25" fill="#007eff"/><circle cx="634.8" cy="688.6" r="3.25" fill="#002bff"/><circle cx="637.7" cy="688.0" r="3.25" fill="#001bff"/><circle cx="640.6" cy="687.5" r="3.25" fill="#00efff"/><circle cx="643.5" cy="687.0" r="3.25" fill="#8cff73"/><circle cx="646.4" cy="686.4" r="3.25" fill="#b4ff4b"/><circle cx="649.3" cy="685.9" r="3.25" fill="#d8ff27"/><circle cx="652.2" cy="685.3" r="3.25" fill="#b5ff4a"/><circle cx="655.1" cy="684.8" r="3.25" fill="#6cff93"/><circle cx="658.1" cy="684.3" r="3.25" fill="#38ffc7"/><circle cx="661.0" cy="683.7" r="3.25" fill="#2bffd4"/><circle cx="663.9" cy="683.2" r="3.25" fill="#ff8c00"/><circle cx="666.8" cy="682.7" r="3.25" fill="#ff2800"/><circle cx="669.7" cy="682.1" r="3.25" fill="#ff2c00"/><circle cx="672.6" cy="681.6" r="3.25" fill="#a2ff5d"/><circle cx="675.5" cy="681.1" r="3.25" fill="#003dff"/><circle cx="678.4" cy="680.5" r="3.25" fill="#00ffff"/><circle cx="681.3" cy="680.0" r="3.25" fill="#21ffde"/><circle cx="684.2" cy="679.4" r="3.25" fill="#00e0ff"/><circle cx="687.1" cy="678.9" r="3.25" fill="#0000d6"/><circle cx="690.0" cy="678.4" r="3.25" fill="#0000df"/><circle cx="692.9" cy="677.8" r="3.25" fill="#0000e5"/><circle cx="695.8" cy="677.3" r="3.25" fill="#0000f3"/><circle cx="698.7" cy="676.8" r="3.25" fill="#0056ff"/><circle cx="701.6" cy="676.2" r="3.25" fill="#00baff"/><circle cx="704.5" cy="675.7" r="3.25" fill="#007cff"/><circle cx="707.4" cy="675.1" r="3.25" fill="#0060ff"/><circle cx="710.3" cy="674.6" r="3.25" fill="#0082ff"/><circle cx="713.2" cy="674.1" r="3.25" fill="#00a3ff"/><circle cx="716.1" cy="673.5" r="3.25" fill="#00beff"/><circle cx="719.0" cy="673.0" r="3.25" fill="#00c4ff"/><circle cx="721.9" cy="672.5" r="3.25" fill="#00d0ff"/><circle cx="724.8" cy="671.9" r="3.25" fill="#00e2ff"/><circle cx="727.7" cy="671.4" r="3.25" fill="#00fcff"/><circle cx="730.6" cy="670.8" r="3.25" fill="#faff05"/><circle cx="733.5" cy="670.3" r="3.25" fill="#ffd200"/><circle cx="736.5" cy="669.8" r="3.25" fill="#0bfff4"/><circle cx="739.4" cy="669.2" r="3.25" fill="#00f8ff"/><circle cx="742.3" cy="668.7" r="3.25" fill="#00f3ff"/><circle cx="745.2" cy="668.2" r="3.25" fill="#00f8ff"/></g>
<text class="b t ls" x="661.6" y="466.3" text-anchor="middle">100<tspan class="d" dx="3.0" dy="-11.2">o</tspan><tspan dx="6.1" dy="11.2">W</tspan></text>
<text class="b t ls" x="726.4" y="466.3" text-anchor="middle">90<tspan class="d" dx="3.0" dy="-11.2">o</tspan><tspan dx="6.1" dy="11.2">W</tspan></text>
<text class="b t ls" x="790.2" y="466.3" text-anchor="middle">80<tspan class="d" dx="3.0" dy="-11.2">o</tspan><tspan dx="6.1" dy="11.2">W</tspan></text>
<text class="b t ls" x="853.6" y="466.3" text-anchor="middle">70<tspan class="d" dx="3.0" dy="-11.2">o</tspan><tspan dx="6.1" dy="11.2">W</tspan></text>
<text class="b t" x="606.8" y="502.4" text-anchor="end">48<tspan class="d" dx="2.3" dy="-11.2">o</tspan><tspan dx="4.6" dy="11.2">N</tspan></text>
<text class="b t" x="606.8" y="519.8" text-anchor="end">46<tspan class="d" dx="2.3" dy="-11.2">o</tspan><tspan dx="4.6" dy="11.2">N</tspan></text>
<text class="b t" x="606.8" y="537.4" text-anchor="end">44<tspan class="d" dx="2.3" dy="-11.2">o</tspan><tspan dx="4.6" dy="11.2">N</tspan></text>
<text class="b t" x="606.8" y="556.2" text-anchor="end">42<tspan class="d" dx="2.3" dy="-11.2">o</tspan><tspan dx="4.6" dy="11.2">N</tspan></text>
<text class="b t" x="606.8" y="572.3" text-anchor="end">40<tspan class="d" dx="2.3" dy="-11.2">o</tspan><tspan dx="4.6" dy="11.2">N</tspan></text>
<text class="b t" x="606.8" y="587.2" text-anchor="end">38<tspan class="d" dx="2.3" dy="-11.2">o</tspan><tspan dx="4.6" dy="11.2">N</tspan></text>
<text class="b t" x="606.8" y="604.3" text-anchor="end">36<tspan class="d" dx="2.3" dy="-11.2">o</tspan><tspan dx="4.6" dy="11.2">N</tspan></text>
<text class="b t" x="606.8" y="618.1" text-anchor="end">34<tspan class="d" dx="2.3" dy="-11.2">o</tspan><tspan dx="4.6" dy="11.2">N</tspan></text>
<text class="b t" x="606.8" y="635.1" text-anchor="end">32<tspan class="d" dx="2.3" dy="-11.2">o</tspan><tspan dx="4.6" dy="11.2">N</tspan></text>
<text class="b t" x="606.8" y="649.1" text-anchor="end">30<tspan class="d" dx="2.3" dy="-11.2">o</tspan><tspan dx="4.6" dy="11.2">N</tspan></text>
<text class="b t" x="606.8" y="662.1" text-anchor="end">28<tspan class="d" dx="2.3" dy="-11.2">o</tspan><tspan dx="4.6" dy="11.2">N</tspan></text>
<text class="b t" x="606.8" y="677.1" text-anchor="end">26<tspan class="d" dx="2.3" dy="-11.2">o</tspan><tspan dx="4.6" dy="11.2">N</tspan></text>
<text class="b t" x="606.8" y="691.2" text-anchor="end">24<tspan class="d" dx="2.3" dy="-11.2">o</tspan><tspan dx="4.6" dy="11.2">N</tspan></text>
<text class="b t" x="606.8" y="704.0" text-anchor="end">22<tspan class="d" dx="2.3" dy="-11.2">o</tspan><tspan dx="4.6" dy="11.2">N</tspan></text>
<text class="b p" x="728.0" y="730.8" text-anchor="middle">SAT-RAP 700 hPa Temp (K)</text>
<rect x="862.20" y="484.90" width="23.70" height="215.20" fill="url(#jet)" stroke="#262626" stroke-width="0.6"/>
<path d="M885.90 484.90h-2.4" stroke="#262626" stroke-width="0.7"/><text class="b c" x="894.2" y="492.9">2</text>
<path d="M885.90 538.70h-2.4" stroke="#262626" stroke-width="0.7"/><text class="b c" x="894.2" y="546.7">1</text>
<path d="M885.90 592.50h-2.4" stroke="#262626" stroke-width="0.7"/><text class="b c" x="894.2" y="600.5">0</text>
<path d="M885.90 646.30h-2.4" stroke="#262626" stroke-width="0.7"/><text class="b c" x="894.2" y="654.3">-1</text>
<path d="M885.90 700.10h-2.4" stroke="#262626" stroke-width="0.7"/><text class="b c" x="894.2" y="708.1">-2</text>
</g>
<g>
<rect x="1037.30" y="485.15" width="235.10" height="214.45" fill="#fff" stroke="#000" stroke-width="1" shape-rendering="crispEdges"/>
<g clip-path="url(#cp5)"><use href="#usmap" transform="translate(1038.00 485.70) scale(0.063216 0.063183)"/></g>
<g><circle cx="1163.7" cy="699.6" r="3.25" fill="#0096ff"/><circle cx="1166.6" cy="699.1" r="3.25" fill="#00dbff"/><circle cx="1169.5" cy="698.5" r="3.25" fill="#0cfff3"/><circle cx="1153.5" cy="699.6" r="3.25" fill="#00d9ff"/><circle cx="1156.4" cy="699.1" r="3.25" fill="#00c3ff"/><circle cx="1159.3" cy="698.5" r="3.25" fill="#00b1ff"/><circle cx="1162.2" cy="698.0" r="3.25" fill="#00a2ff"/><circle cx="1165.2" cy="697.4" r="3.25" fill="#0099ff"/><circle cx="1168.1" cy="696.9" r="3.25" fill="#00eeff"/><circle cx="1171.0" cy="696.4" r="3.25" fill="#00f2ff"/><circle cx="1143.3" cy="699.6" r="3.25" fill="#00cdff"/><circle cx="1146.2" cy="699.0" r="3.25" fill="#00e1ff"/><circle cx="1149.1" cy="698.5" r="3.25" fill="#00eaff"/><circle cx="1152.0" cy="698.0" r="3.25" fill="#00c7ff"/><circle cx="1154.9" cy="697.4" r="3.25" fill="#00b8ff"/><circle cx="1157.9" cy="696.9" r="3.25" fill="#00cbff"/><circle cx="1160.8" cy="696.3" r="3.25" fill="#00c6ff"/><circle cx="1163.7" cy="695.8" r="3.25" fill="#0089ff"/><circle cx="1166.6" cy="695.3" r="3.25" fill="#00d6ff"/><circle cx="1169.5" cy="694.7" r="3.25" fill="#00caff"/><circle cx="1133.1" cy="699.6" r="3.25" fill="#2affd5"/><circle cx="1136.0" cy="699.0" r="3.25" fill="#0ffff0"/><circle cx="1138.9" cy="698.5" r="3.25" fill="#00f9ff"/><circle cx="1141.8" cy="697.9" r="3.25" fill="#00ceff"/><circle cx="1144.7" cy="697.4" r="3.25" fill="#00f7ff"/><circle cx="1147.7" cy="696.9" r="3.25" fill="#00cfff"/><circle cx="1150.6" cy="696.3" r="3.25" fill="#00cfff"/><circle cx="1153.5" cy="695.8" r="3.25" fill="#0099ff"/><circle cx="1156.4" cy="695.2" r="3.25" fill="#00b7ff"/><circle cx="1159.3" cy="694.7" r="3.25" fill="#00c7ff"/><circle cx="1162.2" cy="694.2" r="3.25" fill="#00d0ff"/><circle cx="1165.2" cy="693.6" r="3.25" fill="#00c8ff"/><circle cx="1168.1" cy="693.1" r="3.25" fill="#00bfff"/><circle cx="1171.0" cy="692.5" r="3.25" fill="#009aff"/><circle cx="1122.9" cy="699.5" r="3.25" fill="#0ffff0"/><circle cx="1125.8" cy="699.0" r="3.25" fill="#23ffdc"/><circle cx="1128.7" cy="698.5" r="3.25" fill="#2affd5"/><circle cx="1131.6" cy="697.9" r="3.25" fill="#29ffd6"/><circle cx="1134.5" cy="697.4" r="3.25" fill="#1cffe3"/><circle cx="1137.5" cy="696.8" r="3.25" fill="#00e7ff"/><circle cx="1140.4" cy="696.3" r="3.25" fill="#03fffc"/><circle cx="1143.3" cy="695.8" r="3.25" fill="#00f7ff"/><circle cx="1146.2" cy="695.2" r="3.25" fill="#00bcff"/><circle cx="1149.1" cy="694.7" r="3.25" fill="#00a8ff"/><circle cx="1152.0" cy="694.1" r="3.25" fill="#0079ff"/><circle cx="1154.9" cy="693.6" r="3.25" fill="#0091ff"/><circle cx="1157.9" cy="693.1" r="3.25" fill="#00dcff"/><circle cx="1160.8" cy="692.5" r="3.25" fill="#00bfff"/><circle cx="1163.7" cy="692.0" r="3.25" fill="#0084ff"/><circle cx="1166.6" cy="691.4" r="3.25" fill="#00abff"/><circle cx="1169.5" cy="690.9" r="3.25" fill="#00a4ff"/><circle cx="1112.7" cy="699.5" r="3.25" fill="#ff9a00"/><circle cx="1115.6" cy="699.0" r="3.25" fill="#ff6900"/><circle cx="1118.5" cy="698.4" r="3.25" fill="#b9ff46"/><circle cx="1121.4" cy="697.9" r="3.25" fill="#21ffde"/><circle cx="1124.3" cy="697.4" r="3.25" fill="#29ffd6"/><circle cx="1127.2" cy="696.8" r="3.25" fill="#5effa1"/><circle cx="1130.2" cy="696.3" r="3.25" fill="#24ffdb"/><circle cx="1133.1" cy="695.7" r="3.25" fill="#00f3ff"/><circle cx="1136.0" cy="695.2" r="3.25" fill="#05fffa"/><circle cx="1138.9" cy="694.7" r="3.25" fill="#00c7ff"/><circle cx="1141.8" cy="694.1" r="3.25" fill="#00cbff"/><circle cx="1144.7" cy="693.6" r="3.25" fill="#00c1ff"/><circle cx="1147.7" cy="693.0" r="3.25" fill="#00b3ff"/><circle cx="1150.6" cy="692.5" r="3.25" fill="#00e2ff"/><circle cx="1153.5" cy="692.0" r="3.25" fill="#05fffa"/><circle cx="1156.4" cy="691.4" r="3.25" fill="#00ecff"/><circle cx="1159.3" cy="690.9" r="3.25" fill="#00bfff"/><circle cx="1162.2" cy="690.3" r="3.25" fill="#00efff"/><circle cx="1165.2" cy="689.8" r="3.25" fill="#00f4ff"/><circle cx="1168.1" cy="689.2" r="3.25" fill="#00beff"/><circle cx="1102.5" cy="699.5" r="3.25" fill="#ffa100"/><circle cx="1105.4" cy="699.0" r="3.25" fill="#ff8900"/><circle cx="1108.3" cy="698.4" r="3.25" fill="#ff3f00"/><circle cx="1111.2" cy="697.9" r="3.25" fill="#ff7200"/><circle cx="1114.1" cy="697.3" r="3.25" fill="#ff5a00"/><circle cx="1117.0" cy="696.8" r="3.25" fill="#ff8700"/><circle cx="1120.0" cy="696.3" r="3.25" fill="#75ff8a"/><circle cx="1122.9" cy="695.7" r="3.25" fill="#58ffa7"/><circle cx="1125.8" cy="695.2" r="3.25" fill="#2dffd2"/><circle cx="1128.7" cy="694.6" r="3.25" fill="#42ffbd"/><circle cx="1131.6" cy="694.1" r="3.25" fill="#49ffb6"/><circle cx="1134.5" cy="693.6" r="3.25" fill="#02fffd"/><circle cx="1137.5" cy="693.0" r="3.25" fill="#00edff"/><circle cx="1140.4" cy="692.5" r="3.25" fill="#00c9ff"/><circle cx="1143.3" cy="691.9" r="3.25" fill="#00cdff"/><circle cx="1146.2" cy="691.4" r="3.25" fill="#00ddff"/><circle cx="1149.1" cy="690.8" r="3.25" fill="#00d9ff"/><circle cx="1152.0" cy="690.3" r="3.25" fill="#00ffff"/><circle cx="1154.9" cy="689.8" r="3.25" fill="#07fff8"/><circle cx="1157.9" cy="689.2" r="3.25" fill="#0094ff"/><circle cx="1160.8" cy="688.7" r="3.25" fill="#00bbff"/><circle cx="1163.7" cy="688.1" r="3.25" fill="#00c4ff"/><circle cx="1166.6" cy="687.6" r="3.25" fill="#00fcff"/><circle cx="1169.5" cy="687.1" r="3.25" fill="#00dbff"/><circle cx="1092.3" cy="699.5" r="3.25" fill="#b5ff4a"/><circle cx="1095.2" cy="698.9" r="3.25" fill="#9cff63"/><circle cx="1098.1" cy="698.4" r="3.25" fill="#c5ff3a"/><circle cx="1101.0" cy="697.9" r="3.25" fill="#ffe200"/><circle cx="1103.9" cy="697.3" r="3.25" fill="#ffb100"/><circle cx="1106.8" cy="696.8" r="3.25" fill="#ff8d00"/><circle cx="1109.7" cy="696.2" r="3.25" fill="#ff8100"/><circle cx="1112.7" cy="695.7" r="3.25" fill="#ff5400"/><circle cx="1115.6" cy="695.1" r="3.25" fill="#ff5a00"/><circle cx="1118.5" cy="694.6" r="3.25" fill="#fff100"/><circle cx="1121.4" cy="694.1" r="3.25" fill="#6aff95"/><circle cx="1124.3" cy="693.5" r="3.25" fill="#54ffab"/><circle cx="1127.2" cy="693.0" r="3.25" fill="#3cffc3"/><circle cx="1130.2" cy="692.4" r="3.25" fill="#23ffdc"/><circle cx="1133.1" cy="691.9" r="3.25" fill="#54ffab"/><circle cx="1136.0" cy="691.4" r="3.25" fill="#19ffe6"/><circle cx="1138.9" cy="690.8" r="3.25" fill="#00c2ff"/><circle cx="1141.8" cy="690.3" r="3.25" fill="#00b3ff"/><circle cx="1144.7" cy="689.7" r="3.25" fill="#0089ff"/><circle cx="1147.7" cy="689.2" r="3.25" fill="#00a5ff"/><circle cx="1150.6" cy="688.7" r="3.25" fill="#00afff"/><circle cx="1153.5" cy="688.1" r="3.25" fill="#00b4ff"/><circle cx="1156.4" cy="687.6" r="3.25" fill="#00afff"/><circle cx="1159.3" cy="687.0" r="3.25" fill="#00d5ff"/><circle cx="1162.2" cy="686.5" r="3.25" fill="#00b3ff"/><circle cx="1165.2" cy="686.0" r="3.25" fill="#00d5ff"/><circle cx="1168.1" cy="685.4" r="3.25" fill="#00ecff"/><circle cx="1082.0" cy="699.5" r="3.25" fill="#00abff"/><circle cx="1085.0" cy="698.9" r="3.25" fill="#00f9ff"/><circle cx="1087.9" cy="698.4" r="3.25" fill="#0efff1"/><circle cx="1090.8" cy="697.8" r="3.25" fill="#6bff94"/><circle cx="1093.7" cy="697.3" r="3.25" fill="#9dff62"/><circle cx="1096.6" cy="696.7" r="3.25" fill="#c1ff3e"/><circle cx="1099.5" cy="696.2" r="3.25" fill="#ffc200"/><circle cx="1102.5" cy="695.7" r="3.25" fill="#ffa600"/><circle cx="1105.4" cy="695.1" r="3.25" fill="#ff7600"/><circle cx="1108.3" cy="694.6" r="3.25" fill="#ff9e00"/><circle cx="1111.2" cy="694.0" r="3.25" fill="#ff8f00"/><circle cx="1114.1" cy="693.5" r="3.25" fill="#ff7700"/><circle cx="1117.0" cy="693.0" r="3.25" fill="#ff9b00"/><circle cx="1120.0" cy="692.4" r="3.25" fill="#a7ff58"/><circle cx="1122.9" cy="691.9" r="3.25" fill="#6aff95"/><circle cx="1125.8" cy="691.3" r="3.25" fill="#22ffdd"/><circle cx="1128.7" cy="690.8" r="3.25" fill="#00f5ff"/><circle cx="1131.6" cy="690.3" r="3.25" fill="#2cffd3"/><circle cx="1134.5" cy="689.7" r="3.25" fill="#05fffa"/><circle cx="1137.5" cy="689.2" r="3.25" fill="#00d4ff"/><circle cx="1140.4" cy="688.6" r="3.25" fill="#00dbff"/><circle cx="1143.3" cy="688.1" r="3.25" fill="#00ddff"/><circle cx="1146.2" cy="687.6" r="3.25" fill="#00d8ff"/><circle cx="1149.1" cy="687.0" r="3.25" fill="#00ebff"/><circle cx="1152.0" cy="686.5" r="3.25" fill="#00b5ff"/><circle cx="1154.9" cy="685.9" r="3.25" fill="#00b6ff"/><circle cx="1157.9" cy="685.4" r="3.25" fill="#00c0ff"/><circle cx="1160.8" cy="684.9" r="3.25" fill="#00c9ff"/><circle cx="1163.7" cy="684.3" r="3.25" fill="#00c0ff"/><circle cx="1166.6" cy="683.8" r="3.25" fill="#08fff7"/><circle cx="1169.5" cy="683.2" r="3.25" fill="#00caff"/><circle cx="1071.8" cy="699.4" r="3.25" fill="#0000f1"/><circle cx="1074.8" cy="698.9" r="3.25" fill="#0000e0"/><circle cx="1077.7" cy="698.3" r="3.25" fill="#005cff"/><circle cx="1080.6" cy="697.8" r="3.25" fill="#007fff"/><circle cx="1083.5" cy="697.3" r="3.25" fill="#00eeff"/><circle cx="1086.4" cy="696.7" r="3.25" fill="#00f6ff"/><circle cx="1089.3" cy="696.2" r="3.25" fill="#2affd5"/><circle cx="1092.3" cy="695.6" r="3.25" fill="#47ffb8"/><circle cx="1095.2" cy="695.1" r="3.25" fill="#acff53"/><circle cx="1098.1" cy="694.6" r="3.25" fill="#ffb200"/><circle cx="1101.0" cy="694.0" r="3.25" fill="#ff8700"/><circle cx="1103.9" cy="693.5" r="3.25" fill="#ff9400"/><circle cx="1106.8" cy="692.9" r="3.25" fill="#ffb000"/><circle cx="1109.7" cy="692.4" r="3.25" fill="#ff9f00"/><circle cx="1112.7" cy="691.9" r="3.25" fill="#ff5500"/><circle cx="1115.6" cy="691.3" r="3.25" fill="#ff6900"/><circle cx="1118.5" cy="690.8" r="3.25" fill="#c2ff3d"/><circle cx="1121.4" cy="690.2" r="3.25" fill="#4cffb3"/><circle cx="1124.3" cy="689.7" r="3.25" fill="#2cffd3"/><circle cx="1127.2" cy="689.2" r="3.25" fill="#00f3ff"/><circle cx="1130.2" cy="688.6" r="3.25" fill="#06fff9"/><circle cx="1133.1" cy="688.1" r="3.25" fill="#00f3ff"/><circle cx="1136.0" cy="687.5" r="3.25" fill="#01fffe"/><circle cx="1138.9" cy="687.0" r="3.25" fill="#1affe5"/><circle cx="1141.8" cy="686.5" r="3.25" fill="#00fcff"/><circle cx="1144.7" cy="685.9" r="3.25" fill="#00ddff"/><circle cx="1147.7" cy="685.4" r="3.25" fill="#00ebff"/><circle cx="1150.6" cy="684.8" r="3.25" fill="#00e5ff"/><circle cx="1153.5" cy="684.3" r="3.25" fill="#00b4ff"/><circle cx="1156.4" cy="683.8" r="3.25" fill="#00e3ff"/><circle cx="1159.3" cy="683.2" r="3.25" fill="#00fdff"/><circle cx="1162.2" cy="682.7" r="3.25" fill="#0efff1"/><circle cx="1165.2" cy="682.1" r="3.25" fill="#00f3ff"/><circle cx="1168.1" cy="681.6" r="3.25" fill="#00b3ff"/><circle cx="1061.6" cy="699.4" r="3.25" fill="#000098"/><circle cx="1064.5" cy="698.9" r="3.25" fill="#0032ff"/><circle cx="1067.5" cy="698.3" r="3.25" fill="#000080"/><circle cx="1070.4" cy="697.8" r="3.25" fill="#0000d3"/><circle cx="1073.3" cy="697.2" r="3.25" fill="#0000fd"/><circle cx="1076.2" cy="696.7" r="3.25" fill="#0021ff"/><circle cx="1079.1" cy="696.2" r="3.25" fill="#002bff"/><circle cx="1082.0" cy="695.6" r="3.25" fill="#0094ff"/><circle cx="1085.0" cy="695.1" r="3.25" fill="#00f9ff"/><circle cx="1087.9" cy="694.5" r="3.25" fill="#1cffe3"/><circle cx="1090.8" cy="694.0" r="3.25" fill="#60ff9f"/><circle cx="1093.7" cy="693.5" r="3.25" fill="#bbff44"/><circle cx="1096.6" cy="692.9" r="3.25" fill="#bbff44"/><circle cx="1099.5" cy="692.4" r="3.25" fill="#ffeb00"/><circle cx="1102.5" cy="691.8" r="3.25" fill="#ffdc00"/><circle cx="1105.4" cy="691.3" r="3.25" fill="#ffb500"/><circle cx="1108.3" cy="690.8" r="3.25" fill="#ff4800"/><circle cx="1111.2" cy="690.2" r="3.25" fill="#ff4b00"/><circle cx="1114.1" cy="689.7" r="3.25" fill="#ff3b00"/><circle cx="1117.0" cy="689.1" r="3.25" fill="#ff5f00"/><circle cx="1120.0" cy="688.6" r="3.25" fill="#d5ff2a"/><circle cx="1122.9" cy="688.1" r="3.25" fill="#44ffbb"/><circle cx="1125.8" cy="687.5" r="3.25" fill="#41ffbe"/><circle cx="1128.7" cy="687.0" r="3.25" fill="#1cffe3"/><circle cx="1131.6" cy="686.4" r="3.25" fill="#01fffe"/><circle cx="1134.5" cy="685.9" r="3.25" fill="#00ceff"/><circle cx="1137.5" cy="685.4" r="3.25" fill="#00c3ff"/><circle cx="1140.4" cy="684.8" r="3.25" fill="#00beff"/><circle cx="1143.3" cy="684.3" r="3.25" fill="#00d1ff"/><circle cx="1146.2" cy="683.7" r="3.25" fill="#00feff"/><circle cx="1149.1" cy="683.2" r="3.25" fill="#00ebff"/><circle cx="1152.0" cy="682.6" r="3.25" fill="#00e1ff"/><circle cx="1154.9" cy="682.1" r="3.25" fill="#00cfff"/><circle cx="1157.9" cy="681.6" r="3.25" fill="#00c0ff"/><circle cx="1160.8" cy="681.0" r="3.25" fill="#00beff"/><circle cx="1163.7" cy="680.5" r="3.25" fill="#0091ff"/><circle cx="1166.6" cy="679.9" r="3.25" fill="#00b4ff"/><circle cx="1169.5" cy="679.4" r="3.25" fill="#00feff"/><circle cx="1051.4" cy="699.4" r="3.25" fill="#004eff"/><circle cx="1054.3" cy="698.8" r="3.25" fill="#02fffd"/><circle cx="1057.3" cy="698.3" r="3.25" fill="#0067ff"/><circle cx="1060.2" cy="697.8" r="3.25" fill="#0000f6"/><circle cx="1063.1" cy="697.2" r="3.25" fill="#0000f5"/><circle cx="1066.0" cy="696.7" r="3.25" fill="#00009a"/><circle cx="1068.9" cy="696.1" r="3.25" fill="#0000b7"/><circle cx="1071.8" cy="695.6" r="3.25" fill="#005aff"/><circle cx="1074.8" cy="695.1" r="3.25" fill="#0048ff"/><circle cx="1077.7" cy="694.5" r="3.25" fill="#0049ff"/><circle cx="1080.6" cy="694.0" r="3.25" fill="#0073ff"/><circle cx="1083.5" cy="693.4" r="3.25" fill="#00d2ff"/><circle cx="1086.4" cy="692.9" r="3.25" fill="#00f8ff"/><circle cx="1089.3" cy="692.4" r="3.25" fill="#41ffbe"/><circle cx="1092.3" cy="691.8" r="3.25" fill="#7aff85"/><circle cx="1095.2" cy="691.3" r="3.25" fill="#b4ff4b"/><circle cx="1098.1" cy="690.7" r="3.25" fill="#ffd500"/><circle cx="1101.0" cy="690.2" r="3.25" fill="#ff9900"/><circle cx="1103.9" cy="689.7" r="3.25" fill="#ff8200"/><circle cx="1106.8" cy="689.1" r="3.25" fill="#ff4900"/><circle cx="1109.7" cy="688.6" r="3.25" fill="#ff3a00"/><circle cx="1112.7" cy="688.0" r="3.25" fill="#ff4100"/><circle cx="1115.6" cy="687.5" r="3.25" fill="#ff4d00"/><circle cx="1118.5" cy="687.0" r="3.25" fill="#e5ff1a"/><circle cx="1121.4" cy="686.4" r="3.25" fill="#54ffab"/><circle cx="1124.3" cy="685.9" r="3.25" fill="#2effd1"/><circle cx="1127.2" cy="685.3" r="3.25" fill="#07fff8"/><circle cx="1130.2" cy="684.8" r="3.25" fill="#2bffd4"/><circle cx="1133.1" cy="684.2" r="3.25" fill="#00feff"/><circle cx="1136.0" cy="683.7" r="3.25" fill="#00daff"/><circle cx="1138.9" cy="683.2" r="3.25" fill="#00a3ff"/><circle cx="1141.8" cy="682.6" r="3.25" fill="#00e4ff"/><circle cx="1144.7" cy="682.1" r="3.25" fill="#00c2ff"/><circle cx="1147.7" cy="681.5" r="3.25" fill="#00b5ff"/><circle cx="1150.6" cy="681.0" r="3.25" fill="#00a5ff"/><circle cx="1153.5" cy="680.5" r="3.25" fill="#00d1ff"/><circle cx="1156.4" cy="679.9" r="3.25" fill="#00adff"/><circle cx="1159.3" cy="679.4" r="3.25" fill="#00ebff"/><circle cx="1162.2" cy="678.8" r="3.25" fill="#00d5ff"/><circle cx="1165.2" cy="678.3" r="3.25" fill="#00baff"/><circle cx="1168.1" cy="677.8" r="3.25" fill="#00deff"/><circle cx="1041.2" cy="699.4" r="3.25" fill="#0000a0"/><circle cx="1044.1" cy="698.8" r="3.25" fill="#000080"/><circle cx="1047.1" cy="698.3" r="3.25" fill="#0000b9"/><circle cx="1050.0" cy="697.7" r="3.25" fill="#006eff"/><circle cx="1052.9" cy="697.2" r="3.25" fill="#00f6ff"/><circle cx="1055.8" cy="696.7" r="3.25" fill="#0039ff"/><circle cx="1058.7" cy="696.1" r="3.25" fill="#0031ff"/><circle cx="1061.6" cy="695.6" r="3.25" fill="#0061ff"/><circle cx="1064.5" cy="695.0" r="3.25" fill="#0000bb"/><circle cx="1067.5" cy="694.5" r="3.25" fill="#000098"/><circle cx="1070.4" cy="694.0" r="3.25" fill="#0000ea"/><circle cx="1073.3" cy="693.4" r="3.25" fill="#0077ff"/><circle cx="1076.2" cy="692.9" r="3.25" fill="#003fff"/><circle cx="1079.1" cy="692.3" r="3.25" fill="#0000fc"/><circle cx="1082.0" cy="691.8" r="3.25" fill="#0082ff"/><circle cx="1085.0" cy="691.3" r="3.25" fill="#00f7ff"/><circle cx="1087.9" cy="690.7" r="3.25" fill="#38ffc7"/><circle cx="1090.8" cy="690.2" r="3.25" fill="#b2ff4d"/><circle cx="1093.7" cy="689.6" r="3.25" fill="#d3ff2c"/><circle cx="1096.6" cy="689.1" r="3.25" fill="#f0ff0f"/><circle cx="1099.5" cy="688.6" r="3.25" fill="#e1ff1e"/><circle cx="1102.5" cy="688.0" r="3.25" fill="#ffd900"/><circle cx="1105.4" cy="687.5" r="3.25" fill="#ffa300"/><circle cx="1108.3" cy="686.9" r="3.25" fill="#ff9a00"/><circle cx="1111.2" cy="686.4" r="3.25" fill="#ffb100"/><circle cx="1114.1" cy="685.8" r="3.25" fill="#ffbc00"/><circle cx="1117.0" cy="685.3" r="3.25" fill="#ffef00"/><circle cx="1120.0" cy="684.8" r="3.25" fill="#87ff78"/><circle cx="1122.9" cy="684.2" r="3.25" fill="#25ffda"/><circle cx="1125.8" cy="683.7" r="3.25" fill="#38ffc7"/><circle cx="1128.7" cy="683.1" r="3.25" fill="#58ffa7"/><circle cx="1131.6" cy="682.6" r="3.25" fill="#4cffb3"/><circle cx="1134.5" cy="682.1" r="3.25" fill="#2bffd4"/><circle cx="1137.5" cy="681.5" r="3.25" fill="#00ebff"/><circle cx="1140.4" cy="681.0" r="3.25" fill="#00eaff"/><circle cx="1143.3" cy="680.4" r="3.25" fill="#00aeff"/><circle cx="1146.2" cy="679.9" r="3.25" fill="#00beff"/><circle cx="1149.1" cy="679.4" r="3.25" fill="#00ddff"/><circle cx="1152.0" cy="678.8" r="3.25" fill="#00f6ff"/><circle cx="1154.9" cy="678.3" r="3.25" fill="#00dbff"/><circle cx="1157.9" cy="677.7" r="3.25" fill="#00beff"/><circle cx="1160.8" cy="677.2" r="3.25" fill="#0099ff"/><circle cx="1163.7" cy="676.7" r="3.25" fill="#0099ff"/><circle cx="1166.6" cy="676.1" r="3.25" fill="#00b9ff"/><circle cx="1039.8" cy="697.7" r="3.25" fill="#0000b7"/><circle cx="1042.7" cy="697.2" r="3.25" fill="#000080"/><circle cx="1045.6" cy="696.6" r="3.25" fill="#0030ff"/><circle cx="1048.5" cy="696.1" r="3.25" fill="#0044ff"/><circle cx="1051.4" cy="695.6" r="3.25" fill="#00feff"/><circle cx="1054.3" cy="695.0" r="3.25" fill="#0089ff"/><circle cx="1057.3" cy="694.5" r="3.25" fill="#0020ff"/><circle cx="1060.2" cy="693.9" r="3.25" fill="#0000fe"/><circle cx="1063.1" cy="693.4" r="3.25" fill="#0000b5"/><circle cx="1066.0" cy="692.9" r="3.25" fill="#0000ae"/><circle cx="1068.9" cy="692.3" r="3.25" fill="#0000cc"/><circle cx="1071.8" cy="691.8" r="3.25" fill="#0041ff"/><circle cx="1074.8" cy="691.2" r="3.25" fill="#0000a3"/><circle cx="1077.7" cy="690.7" r="3.25" fill="#0000b9"/><circle cx="1080.6" cy="690.2" r="3.25" fill="#0031ff"/><circle cx="1083.5" cy="689.6" r="3.25" fill="#00b8ff"/><circle cx="1086.4" cy="689.1" r="3.25" fill="#42ffbd"/><circle cx="1089.3" cy="688.5" r="3.25" fill="#53ffac"/><circle cx="1092.3" cy="688.0" r="3.25" fill="#59ffa6"/><circle cx="1095.2" cy="687.4" r="3.25" fill="#a1ff5e"/><circle cx="1098.1" cy="686.9" r="3.25" fill="#c2ff3d"/><circle cx="1101.0" cy="686.4" r="3.25" fill="#faff05"/><circle cx="1103.9" cy="685.8" r="3.25" fill="#ffa900"/><circle cx="1106.8" cy="685.3" r="3.25" fill="#f7ff08"/><circle cx="1109.7" cy="684.7" r="3.25" fill="#fff000"/><circle cx="1112.7" cy="684.2" r="3.25" fill="#ff9000"/><circle cx="1115.6" cy="683.7" r="3.25" fill="#ff7700"/><circle cx="1118.5" cy="683.1" r="3.25" fill="#ffeb00"/><circle cx="1121.4" cy="682.6" r="3.25" fill="#7bff84"/><circle cx="1124.3" cy="682.0" r="3.25" fill="#56ffa9"/><circle cx="1127.2" cy="681.5" r="3.25" fill="#50ffaf"/><circle cx="1130.2" cy="681.0" r="3.25" fill="#56ffa9"/><circle cx="1133.1" cy="680.4" r="3.25" fill="#09fff6"/><circle cx="1136.0" cy="679.9" r="3.25" fill="#00faff"/><circle cx="1138.9" cy="679.3" r="3.25" fill="#00b6ff"/><circle cx="1141.8" cy="678.8" r="3.25" fill="#02fffd"/><circle cx="1144.7" cy="678.3" r="3.25" fill="#12ffed"/><circle cx="1147.7" cy="677.7" r="3.25" fill="#00ecff"/><circle cx="1150.6" cy="677.2" r="3.25" fill="#00c5ff"/><circle cx="1153.5" cy="676.6" r="3.25" fill="#00ddff"/><circle cx="1156.4" cy="676.1" r="3.25" fill="#00d6ff"/><circle cx="1159.3" cy="675.6" r="3.25" fill="#00b9ff"/><circle cx="1162.2" cy="675.0" r="3.25" fill="#00c9ff"/><circle cx="1165.2" cy="674.5" r="3.25" fill="#00d2ff"/><circle cx="1168.1" cy="673.9" r="3.25" fill="#0bfff4"/><circle cx="1038.3" cy="696.1" r="3.25" fill="#000080"/><circle cx="1041.2" cy="695.5" r="3.25" fill="#0000f5"/><circle cx="1044.1" cy="695.0" r="3.25" fill="#0000fa"/><circle cx="1047.1" cy="694.5" r="3.25" fill="#008eff"/><circle cx="1050.0" cy="693.9" r="3.25" fill="#0011ff"/><circle cx="1052.9" cy="693.4" r="3.25" fill="#74ff8b"/><circle cx="1055.8" cy="692.8" r="3.25" fill="#009bff"/><circle cx="1058.7" cy="692.3" r="3.25" fill="#002cff"/><circle cx="1061.6" cy="691.7" r="3.25" fill="#0014ff"/><circle cx="1064.5" cy="691.2" r="3.25" fill="#000080"/><circle cx="1067.5" cy="690.7" r="3.25" fill="#0009ff"/><circle cx="1070.4" cy="690.1" r="3.25" fill="#001aff"/><circle cx="1073.3" cy="689.6" r="3.25" fill="#000080"/><circle cx="1076.2" cy="689.0" r="3.25" fill="#0050ff"/><circle cx="1079.1" cy="688.5" r="3.25" fill="#000099"/><circle cx="1082.0" cy="688.0" r="3.25" fill="#00a4ff"/><circle cx="1085.0" cy="687.4" r="3.25" fill="#00f3ff"/><circle cx="1087.9" cy="686.9" r="3.25" fill="#00d1ff"/><circle cx="1090.8" cy="686.3" r="3.25" fill="#31ffce"/><circle cx="1093.7" cy="685.8" r="3.25" fill="#40ffbf"/><circle cx="1096.6" cy="685.3" r="3.25" fill="#64ff9b"/><circle cx="1099.5" cy="684.7" r="3.25" fill="#b2ff4d"/><circle cx="1102.5" cy="684.2" r="3.25" fill="#ffc500"/><circle cx="1105.4" cy="683.6" r="3.25" fill="#ffe500"/><circle cx="1108.3" cy="683.1" r="3.25" fill="#fff000"/><circle cx="1111.2" cy="682.6" r="3.25" fill="#ffc300"/><circle cx="1114.1" cy="682.0" r="3.25" fill="#ff7000"/><circle cx="1117.0" cy="681.5" r="3.25" fill="#ffbf00"/><circle cx="1120.0" cy="680.9" r="3.25" fill="#97ff68"/><circle cx="1122.9" cy="680.4" r="3.25" fill="#00fbff"/><circle cx="1125.8" cy="679.9" r="3.25" fill="#24ffdb"/><circle cx="1128.7" cy="679.3" r="3.25" fill="#51ffae"/><circle cx="1131.6" cy="678.8" r="3.25" fill="#5bffa4"/><circle cx="1134.5" cy="678.2" r="3.25" fill="#20ffdf"/><circle cx="1137.5" cy="677.7" r="3.25" fill="#00d6ff"/><circle cx="1140.4" cy="677.2" r="3.25" fill="#00cdff"/><circle cx="1143.3" cy="676.6" r="3.25" fill="#00e7ff"/><circle cx="1146.2" cy="676.1" r="3.25" fill="#00cfff"/><circle cx="1149.1" cy="675.5" r="3.25" fill="#00cbff"/><circle cx="1152.0" cy="675.0" r="3.25" fill="#00ffff"/><circle cx="1154.9" cy="674.5" r="3.25" fill="#0cfff3"/><circle cx="1157.9" cy="673.9" r="3.25" fill="#00e1ff"/><circle cx="1160.8" cy="673.4" r="3.25" fill="#00deff"/><circle cx="1163.7" cy="672.8" r="3.25" fill="#00a9ff"/><circle cx="1166.6" cy="672.3" r="3.25" fill="#00d1ff"/><circle cx="1039.8" cy="693.9" r="3.25" fill="#0000dc"/><circle cx="1042.7" cy="693.3" r="3.25" fill="#0000dc"/><circle cx="1045.6" cy="692.8" r="3.25" fill="#0070ff"/><circle cx="1048.5" cy="692.3" r="3.25" fill="#00efff"/><circle cx="1051.4" cy="691.7" r="3.25" fill="#8bff74"/><circle cx="1054.3" cy="691.2" r="3.25" fill="#00a7ff"/><circle cx="1057.3" cy="690.6" r="3.25" fill="#0000e8"/><circle cx="1060.2" cy="690.1" r="3.25" fill="#0000f9"/><circle cx="1063.1" cy="689.6" r="3.25" fill="#000dff"/><circle cx="1066.0" cy="689.0" r="3.25" fill="#0023ff"/><circle cx="1068.9" cy="688.5" r="3.25" fill="#0032ff"/><circle cx="1071.8" cy="687.9" r="3.25" fill="#003dff"/><circle cx="1074.8" cy="687.4" r="3.25" fill="#0048ff"/><circle cx="1077.7" cy="686.9" r="3.25" fill="#003cff"/><circle cx="1080.6" cy="686.3" r="3.25" fill="#3dffc2"/><circle cx="1083.5" cy="685.8" r="3.25" fill="#7eff81"/><circle cx="1086.4" cy="685.2" r="3.25" fill="#a8ff57"/><circle cx="1089.3" cy="684.7" r="3.25" fill="#5fffa0"/><circle cx="1092.3" cy="684.2" r="3.25" fill="#2bffd4"/><circle cx="1095.2" cy="683.6" r="3.25" fill="#3effc1"/><circle cx="1098.1" cy="683.1" r="3.25" fill="#ffc500"/><circle cx="1101.0" cy="682.5" r="3.25" fill="#ff0a00"/><circle cx="1103.9" cy="682.0" r="3.25" fill="#ff7900"/><circle cx="1106.8" cy="681.5" r="3.25" fill="#fcff03"/><circle cx="1109.7" cy="680.9" r="3.25" fill="#fff100"/><circle cx="1112.7" cy="680.4" r="3.25" fill="#ffcb00"/><circle cx="1115.6" cy="679.8" r="3.25" fill="#f1ff0e"/><circle cx="1118.5" cy="679.3" r="3.25" fill="#bfff40"/><circle cx="1121.4" cy="678.8" r="3.25" fill="#caff35"/><circle cx="1124.3" cy="678.2" r="3.25" fill="#daff25"/><circle cx="1127.2" cy="677.7" r="3.25" fill="#fffb00"/><circle cx="1130.2" cy="677.1" r="3.25" fill="#ffec00"/><circle cx="1133.1" cy="676.6" r="3.25" fill="#c5ff3a"/><circle cx="1136.0" cy="676.1" r="3.25" fill="#6cff93"/><circle cx="1138.9" cy="675.5" r="3.25" fill="#51ffae"/><circle cx="1141.8" cy="675.0" r="3.25" fill="#30ffcf"/><circle cx="1144.7" cy="674.4" r="3.25" fill="#00e6ff"/><circle cx="1147.7" cy="673.9" r="3.25" fill="#009bff"/><circle cx="1150.6" cy="673.3" r="3.25" fill="#005aff"/><circle cx="1153.5" cy="672.8" r="3.25" fill="#0064ff"/><circle cx="1156.4" cy="672.3" r="3.25" fill="#008dff"/><circle cx="1159.3" cy="671.7" r="3.25" fill="#00b9ff"/><circle cx="1162.2" cy="671.2" r="3.25" fill="#009fff"/><circle cx="1165.2" cy="670.6" r="3.25" fill="#009bff"/><circle cx="1168.1" cy="670.1" r="3.25" fill="#00abff"/><circle cx="1038.3" cy="692.2" r="3.25" fill="#0000c5"/><circle cx="1041.2" cy="691.7" r="3.25" fill="#0000d4"/><circle cx="1044.1" cy="691.2" r="3.25" fill="#0013ff"/><circle cx="1047.1" cy="690.6" r="3.25" fill="#00b3ff"/><circle cx="1050.0" cy="690.1" r="3.25" fill="#22ffdd"/><circle cx="1052.9" cy="689.5" r="3.25" fill="#b6ff49"/><circle cx="1055.8" cy="689.0" r="3.25" fill="#0000ea"/><circle cx="1058.7" cy="688.5" r="3.25" fill="#0000f5"/><circle cx="1061.6" cy="687.9" r="3.25" fill="#000dff"/><circle cx="1064.5" cy="687.4" r="3.25" fill="#001dff"/><circle cx="1067.5" cy="686.8" r="3.25" fill="#0026ff"/><circle cx="1070.4" cy="686.3" r="3.25" fill="#0032ff"/><circle cx="1073.3" cy="685.8" r="3.25" fill="#0043ff"/><circle cx="1076.2" cy="685.2" r="3.25" fill="#0041ff"/><circle cx="1079.1" cy="684.7" r="3.25" fill="#00b1ff"/><circle cx="1082.0" cy="684.1" r="3.25" fill="#67ff98"/><circle cx="1085.0" cy="683.6" r="3.25" fill="#a1ff5e"/><circle cx="1087.9" cy="683.1" r="3.25" fill="#7cff83"/><circle cx="1090.8" cy="682.5" r="3.25" fill="#3affc5"/><circle cx="1093.7" cy="682.0" r="3.25" fill="#40ffbf"/><circle cx="1096.6" cy="681.4" r="3.25" fill="#45ffba"/><circle cx="1099.5" cy="680.9" r="3.25" fill="#ff0400"/><circle cx="1102.5" cy="680.4" r="3.25" fill="#ff0300"/><circle cx="1105.4" cy="679.8" r="3.25" fill="#fffa00"/><circle cx="1108.3" cy="679.3" r="3.25" fill="#fff200"/><circle cx="1111.2" cy="678.7" r="3.25" fill="#ffdb00"/><circle cx="1114.1" cy="678.2" r="3.25" fill="#ffef00"/><circle cx="1117.0" cy="677.7" r="3.25" fill="#d1ff2e"/><circle cx="1120.0" cy="677.1" r="3.25" fill="#cbff34"/><circle cx="1122.9" cy="676.6" r="3.25" fill="#d6ff29"/><circle cx="1125.8" cy="676.0" r="3.25" fill="#f2ff0d"/><circle cx="1128.7" cy="675.5" r="3.25" fill="#ffed00"/><circle cx="1131.6" cy="674.9" r="3.25" fill="#feff01"/><circle cx="1134.5" cy="674.4" r="3.25" fill="#8cff73"/><circle cx="1137.5" cy="673.9" r="3.25" fill="#6eff91"/><circle cx="1140.4" cy="673.3" r="3.25" fill="#4affb5"/><circle cx="1143.3" cy="672.8" r="3.25" fill="#15ffea"/><circle cx="1146.2" cy="672.2" r="3.25" fill="#00c8ff"/><circle cx="1149.1" cy="671.7" r="3.25" fill="#0074ff"/><circle cx="1152.0" cy="671.2" r="3.25" fill="#0055ff"/><circle cx="1154.9" cy="670.6" r="3.25" fill="#006cff"/><circle cx="1157.9" cy="670.1" r="3.25" fill="#00b0ff"/><circle cx="1160.8" cy="669.5" r="3.25" fill="#00aaff"/><circle cx="1163.7" cy="669.0" r="3.25" fill="#00a1ff"/><circle cx="1166.6" cy="668.5" r="3.25" fill="#00a3ff"/></g>
<text class="b t ls" x="1084.7" y="464.6" text-anchor="middle">100<tspan class="d" dx="3.0" dy="-11.2">o</tspan><tspan dx="6.1" dy="11.2">W</tspan></text>
<text class="b t ls" x="1148.5" y="464.6" text-anchor="middle">90<tspan class="d" dx="3.0" dy="-11.2">o</tspan><tspan dx="6.1" dy="11.2">W</tspan></text>
<text class="b t ls" x="1211.4" y="464.6" text-anchor="middle">80<tspan class="d" dx="3.0" dy="-11.2">o</tspan><tspan dx="6.1" dy="11.2">W</tspan></text>
<text class="b t ls" x="1276.7" y="464.6" text-anchor="middle">70<tspan class="d" dx="3.0" dy="-11.2">o</tspan><tspan dx="6.1" dy="11.2">W</tspan></text>
<text class="b t" x="1027.7" y="502.4" text-anchor="end">48<tspan class="d" dx="2.3" dy="-11.2">o</tspan><tspan dx="4.6" dy="11.2">N</tspan></text>
<text class="b t" x="1027.7" y="520.1" text-anchor="end">46<tspan class="d" dx="2.3" dy="-11.2">o</tspan><tspan dx="4.6" dy="11.2">N</tspan></text>
<text class="b t" x="1027.7" y="537.4" text-anchor="end">44<tspan class="d" dx="2.3" dy="-11.2">o</tspan><tspan dx="4.6" dy="11.2">N</tspan></text>
<text class="b t" x="1027.7" y="556.2" text-anchor="end">42<tspan class="d" dx="2.3" dy="-11.2">o</tspan><tspan dx="4.6" dy="11.2">N</tspan></text>
<text class="b t" x="1027.7" y="572.3" text-anchor="end">40<tspan class="d" dx="2.3" dy="-11.2">o</tspan><tspan dx="4.6" dy="11.2">N</tspan></text>
<text class="b t" x="1027.7" y="587.7" text-anchor="end">38<tspan class="d" dx="2.3" dy="-11.2">o</tspan><tspan dx="4.6" dy="11.2">N</tspan></text>
<text class="b t" x="1027.7" y="604.3" text-anchor="end">36<tspan class="d" dx="2.3" dy="-11.2">o</tspan><tspan dx="4.6" dy="11.2">N</tspan></text>
<text class="b t" x="1027.7" y="618.1" text-anchor="end">34<tspan class="d" dx="2.3" dy="-11.2">o</tspan><tspan dx="4.6" dy="11.2">N</tspan></text>
<text class="b t" x="1027.7" y="635.1" text-anchor="end">32<tspan class="d" dx="2.3" dy="-11.2">o</tspan><tspan dx="4.6" dy="11.2">N</tspan></text>
<text class="b t" x="1027.7" y="649.4" text-anchor="end">30<tspan class="d" dx="2.3" dy="-11.2">o</tspan><tspan dx="4.6" dy="11.2">N</tspan></text>
<text class="b t" x="1027.7" y="664.0" text-anchor="end">28<tspan class="d" dx="2.3" dy="-11.2">o</tspan><tspan dx="4.6" dy="11.2">N</tspan></text>
<text class="b t" x="1027.7" y="678.8" text-anchor="end">26<tspan class="d" dx="2.3" dy="-11.2">o</tspan><tspan dx="4.6" dy="11.2">N</tspan></text>
<text class="b t" x="1027.7" y="691.2" text-anchor="end">24<tspan class="d" dx="2.3" dy="-11.2">o</tspan><tspan dx="4.6" dy="11.2">N</tspan></text>
<text class="b t" x="1027.7" y="706.2" text-anchor="end">22<tspan class="d" dx="2.3" dy="-11.2">o</tspan><tspan dx="4.6" dy="11.2">N</tspan></text>
<text class="b p" x="1150.4" y="730.8" text-anchor="middle">SAT-RAP 500 hPa Temp (K)</text>
<rect x="1285.20" y="484.90" width="23.50" height="215.30" fill="url(#jet)" stroke="#262626" stroke-width="0.6"/>
<path d="M1308.70 484.90h-2.4" stroke="#262626" stroke-width="0.7"/><text class="b c" x="1317.0" y="492.9">2</text>
<path d="M1308.70 538.73h-2.4" stroke="#262626" stroke-width="0.7"/><text class="b c" x="1317.0" y="546.7">1</text>
<path d="M1308.70 592.55h-2.4" stroke="#262626" stroke-width="0.7"/><text class="b c" x="1317.0" y="600.5">0</text>
<path d="M1308.70 646.38h-2.4" stroke="#262626" stroke-width="0.7"/><text class="b c" x="1317.0" y="654.4">-1</text>
<path d="M1308.70 700.20h-2.4" stroke="#262626" stroke-width="0.7"/><text class="b c" x="1317.0" y="708.2">-2</text>
</g>
</svg>
</body></html>
